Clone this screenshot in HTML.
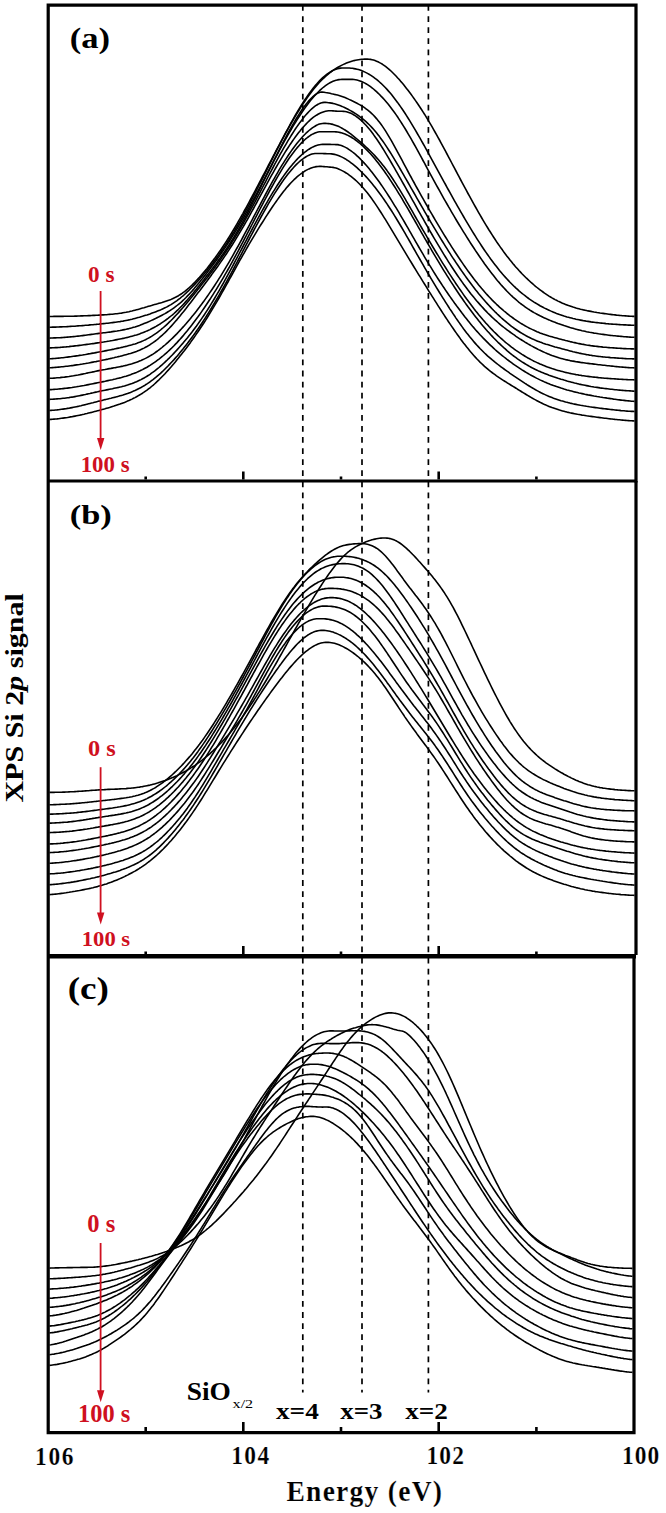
<!DOCTYPE html>
<html><head><meta charset="utf-8"><style>
html,body{margin:0;padding:0;background:#fff;}
svg{display:block;}
</style></head><body>
<svg width="666" height="1513" viewBox="0 0 666 1513">
<rect width="666" height="1513" fill="#fff"/>
<g fill="none" stroke="#000" stroke-width="1.6" stroke-linejoin="round">
<path d="M49.5,316.5 L51.0,316.5 L52.5,316.5 L54.0,316.4 L55.5,316.4 L57.0,316.4 L58.5,316.4 L60.0,316.4 L61.5,316.4 L63.0,316.4 L64.5,316.3 L66.0,316.3 L67.5,316.3 L69.0,316.3 L70.5,316.2 L72.0,316.2 L73.5,316.2 L75.0,316.1 L76.5,316.1 L78.0,316.0 L79.5,316.0 L81.0,315.9 L82.5,315.9 L84.0,315.8 L85.5,315.8 L87.0,315.7 L88.5,315.6 L90.0,315.6 L91.5,315.5 L93.0,315.4 L94.5,315.4 L96.0,315.3 L97.5,315.2 L99.0,315.1 L100.5,315.0 L102.0,314.9 L103.5,314.9 L105.0,314.8 L106.5,314.7 L108.0,314.5 L109.5,314.4 L111.0,314.3 L112.5,314.2 L114.0,314.0 L115.5,313.8 L117.0,313.7 L118.5,313.5 L120.0,313.3 L121.5,313.1 L123.0,312.8 L124.5,312.5 L126.0,312.3 L127.5,312.0 L129.0,311.7 L130.5,311.3 L132.0,311.0 L133.5,310.6 L135.0,310.2 L136.5,309.8 L138.0,309.4 L139.5,309.0 L141.0,308.5 L142.5,308.1 L144.0,307.7 L145.5,307.2 L147.0,306.8 L148.5,306.3 L150.0,305.9 L151.5,305.5 L153.0,305.0 L154.5,304.6 L156.0,304.2 L157.5,303.8 L159.0,303.3 L160.5,302.9 L162.0,302.5 L163.5,302.0 L165.0,301.5 L166.5,301.0 L168.0,300.5 L169.5,300.0 L171.0,299.4 L172.5,298.7 L174.0,298.0 L175.5,297.3 L177.0,296.5 L178.5,295.7 L180.0,294.7 L181.5,293.8 L183.0,292.7 L184.5,291.6 L186.0,290.4 L187.5,289.2 L189.0,287.9 L190.5,286.5 L192.0,285.1 L193.5,283.6 L195.0,282.1 L196.5,280.5 L198.0,278.9 L199.5,277.3 L201.0,275.6 L202.5,273.8 L204.0,272.0 L205.5,270.2 L207.0,268.4 L208.5,266.5 L210.0,264.6 L211.5,262.6 L213.0,260.6 L214.5,258.6 L216.0,256.5 L217.5,254.4 L219.0,252.3 L220.5,250.2 L222.0,248.0 L223.5,245.7 L225.0,243.4 L226.5,241.1 L228.0,238.8 L229.5,236.4 L231.0,233.9 L232.5,231.5 L234.0,229.0 L235.5,226.4 L237.0,223.8 L238.5,221.2 L240.0,218.6 L241.5,215.9 L243.0,213.3 L244.5,210.5 L246.0,207.8 L247.5,205.1 L249.0,202.3 L250.5,199.5 L252.0,196.7 L253.5,193.9 L255.0,191.0 L256.5,188.2 L258.0,185.3 L259.5,182.5 L261.0,179.6 L262.5,176.7 L264.0,173.9 L265.5,171.0 L267.0,168.1 L268.5,165.2 L270.0,162.4 L271.5,159.5 L273.0,156.6 L274.5,153.8 L276.0,150.9 L277.5,148.1 L279.0,145.3 L280.5,142.5 L282.0,139.7 L283.5,137.0 L285.0,134.2 L286.5,131.5 L288.0,128.8 L289.5,126.2 L291.0,123.5 L292.5,121.0 L294.0,118.4 L295.5,115.9 L297.0,113.4 L298.5,111.0 L300.0,108.6 L301.5,106.2 L303.0,103.9 L304.5,101.7 L306.0,99.5 L307.5,97.3 L309.0,95.2 L310.5,93.2 L312.0,91.2 L313.5,89.3 L315.0,87.5 L316.5,85.7 L318.0,84.0 L319.5,82.3 L321.0,80.7 L322.5,79.2 L324.0,77.8 L325.5,76.4 L327.0,75.1 L328.5,73.8 L330.0,72.6 L331.5,71.5 L333.0,70.4 L334.5,69.4 L336.0,68.4 L337.5,67.5 L339.0,66.7 L340.5,65.9 L342.0,65.1 L343.5,64.4 L345.0,63.7 L346.5,63.1 L348.0,62.5 L349.5,62.0 L351.0,61.5 L352.5,61.0 L354.0,60.6 L355.5,60.3 L357.0,60.0 L358.5,59.7 L360.0,59.5 L361.5,59.3 L363.0,59.2 L364.5,59.1 L366.0,59.1 L367.5,59.1 L369.0,59.2 L370.5,59.4 L372.0,59.7 L373.5,60.1 L375.0,60.6 L376.5,61.2 L378.0,61.8 L379.5,62.6 L381.0,63.4 L382.5,64.3 L384.0,65.3 L385.5,66.4 L387.0,67.6 L388.5,68.8 L390.0,70.2 L391.5,71.5 L393.0,73.0 L394.5,74.5 L396.0,76.0 L397.5,77.7 L399.0,79.3 L400.5,81.1 L402.0,82.8 L403.5,84.6 L405.0,86.5 L406.5,88.4 L408.0,90.3 L409.5,92.3 L411.0,94.3 L412.5,96.4 L414.0,98.5 L415.5,100.6 L417.0,102.8 L418.5,105.0 L420.0,107.2 L421.5,109.5 L423.0,111.9 L424.5,114.2 L426.0,116.7 L427.5,119.1 L429.0,121.6 L430.5,124.1 L432.0,126.7 L433.5,129.3 L435.0,132.0 L436.5,134.6 L438.0,137.3 L439.5,140.0 L441.0,142.8 L442.5,145.6 L444.0,148.4 L445.5,151.2 L447.0,154.0 L448.5,156.8 L450.0,159.6 L451.5,162.5 L453.0,165.3 L454.5,168.2 L456.0,171.0 L457.5,173.8 L459.0,176.7 L460.5,179.5 L462.0,182.3 L463.5,185.1 L465.0,187.9 L466.5,190.7 L468.0,193.5 L469.5,196.2 L471.0,198.9 L472.5,201.7 L474.0,204.4 L475.5,207.0 L477.0,209.7 L478.5,212.3 L480.0,214.9 L481.5,217.5 L483.0,220.1 L484.5,222.6 L486.0,225.1 L487.5,227.5 L489.0,230.0 L490.5,232.3 L492.0,234.7 L493.5,237.0 L495.0,239.3 L496.5,241.6 L498.0,243.8 L499.5,245.9 L501.0,248.1 L502.5,250.1 L504.0,252.2 L505.5,254.2 L507.0,256.2 L508.5,258.1 L510.0,260.0 L511.5,261.8 L513.0,263.7 L514.5,265.4 L516.0,267.2 L517.5,268.8 L519.0,270.5 L520.5,272.1 L522.0,273.7 L523.5,275.2 L525.0,276.7 L526.5,278.2 L528.0,279.6 L529.5,281.0 L531.0,282.4 L532.5,283.7 L534.0,285.0 L535.5,286.3 L537.0,287.5 L538.5,288.7 L540.0,289.8 L541.5,290.9 L543.0,292.0 L544.5,293.1 L546.0,294.1 L547.5,295.1 L549.0,296.1 L550.5,297.0 L552.0,297.9 L553.5,298.7 L555.0,299.6 L556.5,300.3 L558.0,301.1 L559.5,301.8 L561.0,302.5 L562.5,303.2 L564.0,303.8 L565.5,304.4 L567.0,305.0 L568.5,305.6 L570.0,306.1 L571.5,306.6 L573.0,307.1 L574.5,307.5 L576.0,308.0 L577.5,308.4 L579.0,308.8 L580.5,309.2 L582.0,309.5 L583.5,309.9 L585.0,310.2 L586.5,310.5 L588.0,310.9 L589.5,311.1 L591.0,311.4 L592.5,311.7 L594.0,312.0 L595.5,312.2 L597.0,312.5 L598.5,312.7 L600.0,313.0 L601.5,313.2 L603.0,313.4 L604.5,313.6 L606.0,313.8 L607.5,314.0 L609.0,314.2 L610.5,314.4 L612.0,314.6 L613.5,314.8 L615.0,314.9 L616.5,315.1 L618.0,315.2 L619.5,315.4 L621.0,315.5 L622.5,315.7 L624.0,315.8 L625.5,315.9 L627.0,316.0 L628.5,316.1 L630.0,316.2 L631.5,316.3 L633.0,316.4 L634.5,316.4"/>
<path d="M49.5,327.2 L51.0,327.2 L52.5,327.1 L54.0,327.1 L55.5,327.1 L57.0,327.0 L58.5,327.0 L60.0,326.9 L61.5,326.9 L63.0,326.8 L64.5,326.7 L66.0,326.7 L67.5,326.6 L69.0,326.5 L70.5,326.4 L72.0,326.3 L73.5,326.2 L75.0,326.2 L76.5,326.0 L78.0,325.9 L79.5,325.8 L81.0,325.7 L82.5,325.6 L84.0,325.5 L85.5,325.3 L87.0,325.2 L88.5,325.1 L90.0,324.9 L91.5,324.8 L93.0,324.7 L94.5,324.5 L96.0,324.4 L97.5,324.2 L99.0,324.1 L100.5,323.9 L102.0,323.8 L103.5,323.6 L105.0,323.5 L106.5,323.3 L108.0,323.2 L109.5,323.0 L111.0,322.8 L112.5,322.6 L114.0,322.4 L115.5,322.2 L117.0,322.0 L118.5,321.8 L120.0,321.6 L121.5,321.3 L123.0,321.1 L124.5,320.8 L126.0,320.5 L127.5,320.2 L129.0,319.9 L130.5,319.5 L132.0,319.2 L133.5,318.8 L135.0,318.4 L136.5,318.0 L138.0,317.6 L139.5,317.2 L141.0,316.7 L142.5,316.3 L144.0,315.8 L145.5,315.3 L147.0,314.9 L148.5,314.4 L150.0,313.9 L151.5,313.3 L153.0,312.8 L154.5,312.3 L156.0,311.7 L157.5,311.1 L159.0,310.5 L160.5,309.9 L162.0,309.2 L163.5,308.5 L165.0,307.8 L166.5,307.1 L168.0,306.3 L169.5,305.4 L171.0,304.6 L172.5,303.6 L174.0,302.6 L175.5,301.6 L177.0,300.6 L178.5,299.4 L180.0,298.3 L181.5,297.0 L183.0,295.8 L184.5,294.5 L186.0,293.1 L187.5,291.7 L189.0,290.3 L190.5,288.8 L192.0,287.3 L193.5,285.7 L195.0,284.1 L196.5,282.5 L198.0,280.9 L199.5,279.2 L201.0,277.5 L202.5,275.8 L204.0,274.0 L205.5,272.2 L207.0,270.4 L208.5,268.5 L210.0,266.6 L211.5,264.7 L213.0,262.8 L214.5,260.8 L216.0,258.8 L217.5,256.7 L219.0,254.6 L220.5,252.5 L222.0,250.3 L223.5,248.1 L225.0,245.9 L226.5,243.6 L228.0,241.3 L229.5,238.9 L231.0,236.5 L232.5,234.0 L234.0,231.6 L235.5,229.0 L237.0,226.5 L238.5,223.9 L240.0,221.3 L241.5,218.6 L243.0,215.9 L244.5,213.2 L246.0,210.4 L247.5,207.6 L249.0,204.8 L250.5,202.0 L252.0,199.1 L253.5,196.3 L255.0,193.4 L256.5,190.4 L258.0,187.5 L259.5,184.5 L261.0,181.6 L262.5,178.6 L264.0,175.6 L265.5,172.6 L267.0,169.6 L268.5,166.6 L270.0,163.6 L271.5,160.7 L273.0,157.7 L274.5,154.7 L276.0,151.7 L277.5,148.7 L279.0,145.8 L280.5,142.9 L282.0,140.0 L283.5,137.1 L285.0,134.2 L286.5,131.4 L288.0,128.6 L289.5,125.8 L291.0,123.0 L292.5,120.3 L294.0,117.7 L295.5,115.0 L297.0,112.5 L298.5,109.9 L300.0,107.4 L301.5,105.0 L303.0,102.6 L304.5,100.3 L306.0,98.1 L307.5,95.9 L309.0,93.7 L310.5,91.7 L312.0,89.7 L313.5,87.8 L315.0,85.9 L316.5,84.2 L318.0,82.5 L319.5,80.9 L321.0,79.3 L322.5,77.9 L324.0,76.5 L325.5,75.3 L327.0,74.1 L328.5,73.1 L330.0,72.1 L331.5,71.2 L333.0,70.4 L334.5,69.7 L336.0,69.2 L337.5,68.7 L339.0,68.4 L340.5,68.1 L342.0,68.0 L343.5,68.0 L345.0,68.0 L346.5,68.0 L348.0,68.0 L349.5,68.0 L351.0,68.2 L352.5,68.3 L354.0,68.6 L355.5,68.9 L357.0,69.2 L358.5,69.6 L360.0,70.1 L361.5,70.6 L363.0,71.2 L364.5,71.9 L366.0,72.6 L367.5,73.4 L369.0,74.2 L370.5,75.1 L372.0,76.1 L373.5,77.2 L375.0,78.3 L376.5,79.4 L378.0,80.7 L379.5,82.0 L381.0,83.3 L382.5,84.8 L384.0,86.3 L385.5,87.8 L387.0,89.4 L388.5,91.1 L390.0,92.8 L391.5,94.6 L393.0,96.5 L394.5,98.4 L396.0,100.4 L397.5,102.4 L399.0,104.5 L400.5,106.6 L402.0,108.8 L403.5,111.0 L405.0,113.3 L406.5,115.6 L408.0,118.0 L409.5,120.4 L411.0,122.8 L412.5,125.3 L414.0,127.8 L415.5,130.4 L417.0,133.0 L418.5,135.6 L420.0,138.2 L421.5,140.8 L423.0,143.5 L424.5,146.2 L426.0,148.9 L427.5,151.6 L429.0,154.3 L430.5,157.1 L432.0,159.8 L433.5,162.6 L435.0,165.3 L436.5,168.1 L438.0,170.8 L439.5,173.6 L441.0,176.3 L442.5,179.1 L444.0,181.8 L445.5,184.5 L447.0,187.3 L448.5,190.0 L450.0,192.7 L451.5,195.4 L453.0,198.1 L454.5,200.8 L456.0,203.4 L457.5,206.1 L459.0,208.7 L460.5,211.3 L462.0,213.9 L463.5,216.5 L465.0,219.1 L466.5,221.6 L468.0,224.1 L469.5,226.6 L471.0,229.1 L472.5,231.6 L474.0,234.0 L475.5,236.4 L477.0,238.8 L478.5,241.1 L480.0,243.4 L481.5,245.7 L483.0,248.0 L484.5,250.2 L486.0,252.4 L487.5,254.5 L489.0,256.6 L490.5,258.7 L492.0,260.7 L493.5,262.8 L495.0,264.7 L496.5,266.6 L498.0,268.5 L499.5,270.4 L501.0,272.2 L502.5,274.0 L504.0,275.7 L505.5,277.4 L507.0,279.0 L508.5,280.6 L510.0,282.2 L511.5,283.7 L513.0,285.2 L514.5,286.7 L516.0,288.1 L517.5,289.4 L519.0,290.8 L520.5,292.1 L522.0,293.3 L523.5,294.5 L525.0,295.7 L526.5,296.9 L528.0,298.0 L529.5,299.1 L531.0,300.1 L532.5,301.1 L534.0,302.1 L535.5,303.0 L537.0,303.9 L538.5,304.8 L540.0,305.7 L541.5,306.5 L543.0,307.3 L544.5,308.1 L546.0,308.8 L547.5,309.5 L549.0,310.2 L550.5,310.9 L552.0,311.6 L553.5,312.2 L555.0,312.8 L556.5,313.4 L558.0,313.9 L559.5,314.5 L561.0,315.0 L562.5,315.5 L564.0,316.0 L565.5,316.4 L567.0,316.9 L568.5,317.3 L570.0,317.7 L571.5,318.1 L573.0,318.5 L574.5,318.8 L576.0,319.2 L577.5,319.5 L579.0,319.8 L580.5,320.1 L582.0,320.4 L583.5,320.7 L585.0,320.9 L586.5,321.2 L588.0,321.4 L589.5,321.6 L591.0,321.9 L592.5,322.1 L594.0,322.3 L595.5,322.5 L597.0,322.6 L598.5,322.8 L600.0,323.0 L601.5,323.1 L603.0,323.3 L604.5,323.4 L606.0,323.6 L607.5,323.7 L609.0,323.9 L610.5,324.0 L612.0,324.1 L613.5,324.2 L615.0,324.3 L616.5,324.4 L618.0,324.5 L619.5,324.6 L621.0,324.7 L622.5,324.8 L624.0,324.9 L625.5,324.9 L627.0,325.0 L628.5,325.1 L630.0,325.1 L631.5,325.2 L633.0,325.2 L634.5,325.3"/>
<path d="M49.5,338.1 L51.0,338.0 L52.5,338.0 L54.0,337.9 L55.5,337.9 L57.0,337.8 L58.5,337.7 L60.0,337.7 L61.5,337.6 L63.0,337.5 L64.5,337.4 L66.0,337.3 L67.5,337.1 L69.0,337.0 L70.5,336.9 L72.0,336.8 L73.5,336.6 L75.0,336.5 L76.5,336.3 L78.0,336.1 L79.5,336.0 L81.0,335.8 L82.5,335.6 L84.0,335.4 L85.5,335.2 L87.0,335.0 L88.5,334.8 L90.0,334.6 L91.5,334.4 L93.0,334.2 L94.5,334.0 L96.0,333.8 L97.5,333.6 L99.0,333.4 L100.5,333.2 L102.0,333.0 L103.5,332.8 L105.0,332.7 L106.5,332.5 L108.0,332.3 L109.5,332.1 L111.0,331.9 L112.5,331.6 L114.0,331.4 L115.5,331.2 L117.0,331.0 L118.5,330.7 L120.0,330.5 L121.5,330.2 L123.0,329.9 L124.5,329.6 L126.0,329.3 L127.5,328.9 L129.0,328.6 L130.5,328.2 L132.0,327.8 L133.5,327.3 L135.0,326.9 L136.5,326.4 L138.0,325.9 L139.5,325.4 L141.0,324.8 L142.5,324.2 L144.0,323.6 L145.5,323.0 L147.0,322.4 L148.5,321.8 L150.0,321.1 L151.5,320.4 L153.0,319.7 L154.5,319.0 L156.0,318.3 L157.5,317.5 L159.0,316.8 L160.5,316.0 L162.0,315.2 L163.5,314.4 L165.0,313.6 L166.5,312.7 L168.0,311.8 L169.5,310.9 L171.0,309.9 L172.5,308.9 L174.0,307.8 L175.5,306.7 L177.0,305.5 L178.5,304.3 L180.0,303.1 L181.5,301.8 L183.0,300.4 L184.5,299.0 L186.0,297.5 L187.5,295.9 L189.0,294.4 L190.5,292.7 L192.0,291.1 L193.5,289.4 L195.0,287.6 L196.5,285.8 L198.0,284.0 L199.5,282.2 L201.0,280.3 L202.5,278.5 L204.0,276.6 L205.5,274.7 L207.0,272.7 L208.5,270.8 L210.0,268.8 L211.5,266.8 L213.0,264.8 L214.5,262.8 L216.0,260.7 L217.5,258.7 L219.0,256.6 L220.5,254.4 L222.0,252.3 L223.5,250.1 L225.0,247.9 L226.5,245.6 L228.0,243.3 L229.5,241.0 L231.0,238.6 L232.5,236.2 L234.0,233.8 L235.5,231.3 L237.0,228.8 L238.5,226.3 L240.0,223.7 L241.5,221.1 L243.0,218.5 L244.5,215.8 L246.0,213.2 L247.5,210.5 L249.0,207.7 L250.5,205.0 L252.0,202.2 L253.5,199.4 L255.0,196.6 L256.5,193.8 L258.0,191.0 L259.5,188.1 L261.0,185.3 L262.5,182.4 L264.0,179.6 L265.5,176.7 L267.0,173.8 L268.5,171.0 L270.0,168.1 L271.5,165.3 L273.0,162.4 L274.5,159.6 L276.0,156.8 L277.5,154.0 L279.0,151.2 L280.5,148.4 L282.0,145.7 L283.5,142.9 L285.0,140.2 L286.5,137.6 L288.0,134.9 L289.5,132.3 L291.0,129.8 L292.5,127.2 L294.0,124.7 L295.5,122.3 L297.0,119.9 L298.5,117.5 L300.0,115.2 L301.5,113.0 L303.0,110.8 L304.5,108.6 L306.0,106.5 L307.5,104.5 L309.0,102.5 L310.5,100.6 L312.0,98.8 L313.5,97.0 L315.0,95.3 L316.5,93.7 L318.0,92.2 L319.5,90.7 L321.0,89.3 L322.5,88.0 L324.0,86.8 L325.5,85.7 L327.0,84.6 L328.5,83.6 L330.0,82.8 L331.5,82.0 L333.0,81.3 L334.5,80.7 L336.0,80.3 L337.5,79.9 L339.0,79.6 L340.5,79.5 L342.0,79.4 L343.5,79.4 L345.0,79.4 L346.5,79.4 L348.0,79.4 L349.5,79.4 L351.0,79.4 L352.5,79.4 L354.0,79.5 L355.5,79.7 L357.0,80.0 L358.5,80.4 L360.0,80.9 L361.5,81.5 L363.0,82.2 L364.5,82.9 L366.0,83.7 L367.5,84.6 L369.0,85.6 L370.5,86.7 L372.0,87.8 L373.5,89.0 L375.0,90.3 L376.5,91.7 L378.0,93.1 L379.5,94.5 L381.0,96.1 L382.5,97.6 L384.0,99.3 L385.5,101.0 L387.0,102.8 L388.5,104.6 L390.0,106.5 L391.5,108.5 L393.0,110.5 L394.5,112.5 L396.0,114.6 L397.5,116.8 L399.0,119.1 L400.5,121.4 L402.0,123.7 L403.5,126.1 L405.0,128.5 L406.5,131.0 L408.0,133.6 L409.5,136.1 L411.0,138.7 L412.5,141.4 L414.0,144.0 L415.5,146.7 L417.0,149.4 L418.5,152.2 L420.0,154.9 L421.5,157.7 L423.0,160.5 L424.5,163.2 L426.0,166.0 L427.5,168.8 L429.0,171.6 L430.5,174.3 L432.0,177.1 L433.5,179.8 L435.0,182.6 L436.5,185.3 L438.0,188.0 L439.5,190.7 L441.0,193.4 L442.5,196.1 L444.0,198.8 L445.5,201.4 L447.0,204.0 L448.5,206.7 L450.0,209.2 L451.5,211.8 L453.0,214.4 L454.5,216.9 L456.0,219.5 L457.5,222.0 L459.0,224.5 L460.5,226.9 L462.0,229.4 L463.5,231.8 L465.0,234.2 L466.5,236.6 L468.0,239.0 L469.5,241.4 L471.0,243.7 L472.5,246.0 L474.0,248.3 L475.5,250.6 L477.0,252.8 L478.5,255.0 L480.0,257.2 L481.5,259.4 L483.0,261.5 L484.5,263.7 L486.0,265.7 L487.5,267.8 L489.0,269.8 L490.5,271.8 L492.0,273.7 L493.5,275.6 L495.0,277.5 L496.5,279.4 L498.0,281.2 L499.5,282.9 L501.0,284.7 L502.5,286.4 L504.0,288.0 L505.5,289.6 L507.0,291.2 L508.5,292.7 L510.0,294.2 L511.5,295.7 L513.0,297.1 L514.5,298.4 L516.0,299.7 L517.5,301.0 L519.0,302.3 L520.5,303.5 L522.0,304.6 L523.5,305.7 L525.0,306.8 L526.5,307.9 L528.0,308.9 L529.5,309.8 L531.0,310.8 L532.5,311.7 L534.0,312.6 L535.5,313.4 L537.0,314.2 L538.5,315.0 L540.0,315.8 L541.5,316.5 L543.0,317.3 L544.5,318.0 L546.0,318.6 L547.5,319.3 L549.0,319.9 L550.5,320.6 L552.0,321.2 L553.5,321.8 L555.0,322.3 L556.5,322.9 L558.0,323.5 L559.5,324.0 L561.0,324.5 L562.5,325.0 L564.0,325.6 L565.5,326.0 L567.0,326.5 L568.5,327.0 L570.0,327.5 L571.5,327.9 L573.0,328.3 L574.5,328.8 L576.0,329.2 L577.5,329.6 L579.0,329.9 L580.5,330.3 L582.0,330.7 L583.5,331.0 L585.0,331.3 L586.5,331.7 L588.0,332.0 L589.5,332.3 L591.0,332.5 L592.5,332.8 L594.0,333.1 L595.5,333.3 L597.0,333.5 L598.5,333.8 L600.0,334.0 L601.5,334.2 L603.0,334.4 L604.5,334.6 L606.0,334.8 L607.5,335.0 L609.0,335.2 L610.5,335.4 L612.0,335.5 L613.5,335.7 L615.0,335.8 L616.5,336.0 L618.0,336.1 L619.5,336.3 L621.0,336.4 L622.5,336.5 L624.0,336.7 L625.5,336.8 L627.0,336.9 L628.5,337.0 L630.0,337.1 L631.5,337.2 L633.0,337.2 L634.5,337.3"/>
<path d="M49.5,347.9 L51.0,347.9 L52.5,347.8 L54.0,347.7 L55.5,347.6 L57.0,347.6 L58.5,347.5 L60.0,347.4 L61.5,347.2 L63.0,347.1 L64.5,347.0 L66.0,346.9 L67.5,346.7 L69.0,346.6 L70.5,346.4 L72.0,346.3 L73.5,346.1 L75.0,345.9 L76.5,345.8 L78.0,345.6 L79.5,345.4 L81.0,345.2 L82.5,345.0 L84.0,344.8 L85.5,344.6 L87.0,344.4 L88.5,344.2 L90.0,344.0 L91.5,343.8 L93.0,343.6 L94.5,343.4 L96.0,343.1 L97.5,342.9 L99.0,342.7 L100.5,342.4 L102.0,342.2 L103.5,342.0 L105.0,341.7 L106.5,341.5 L108.0,341.2 L109.5,341.0 L111.0,340.7 L112.5,340.5 L114.0,340.2 L115.5,339.9 L117.0,339.6 L118.5,339.3 L120.0,339.0 L121.5,338.7 L123.0,338.4 L124.5,338.1 L126.0,337.7 L127.5,337.4 L129.0,337.0 L130.5,336.6 L132.0,336.2 L133.5,335.8 L135.0,335.3 L136.5,334.9 L138.0,334.4 L139.5,333.9 L141.0,333.3 L142.5,332.8 L144.0,332.2 L145.5,331.6 L147.0,330.9 L148.5,330.3 L150.0,329.6 L151.5,328.8 L153.0,328.0 L154.5,327.2 L156.0,326.4 L157.5,325.5 L159.0,324.6 L160.5,323.7 L162.0,322.7 L163.5,321.7 L165.0,320.6 L166.5,319.5 L168.0,318.4 L169.5,317.2 L171.0,316.0 L172.5,314.8 L174.0,313.5 L175.5,312.1 L177.0,310.7 L178.5,309.3 L180.0,307.8 L181.5,306.3 L183.0,304.7 L184.5,303.1 L186.0,301.4 L187.5,299.8 L189.0,298.0 L190.5,296.3 L192.0,294.5 L193.5,292.7 L195.0,290.8 L196.5,289.0 L198.0,287.1 L199.5,285.2 L201.0,283.3 L202.5,281.4 L204.0,279.5 L205.5,277.5 L207.0,275.6 L208.5,273.7 L210.0,271.7 L211.5,269.7 L213.0,267.7 L214.5,265.7 L216.0,263.7 L217.5,261.6 L219.0,259.6 L220.5,257.5 L222.0,255.3 L223.5,253.2 L225.0,251.0 L226.5,248.7 L228.0,246.4 L229.5,244.1 L231.0,241.8 L232.5,239.4 L234.0,236.9 L235.5,234.4 L237.0,231.9 L238.5,229.3 L240.0,226.7 L241.5,224.1 L243.0,221.4 L244.5,218.6 L246.0,215.9 L247.5,213.1 L249.0,210.2 L250.5,207.4 L252.0,204.5 L253.5,201.5 L255.0,198.6 L256.5,195.6 L258.0,192.6 L259.5,189.6 L261.0,186.6 L262.5,183.5 L264.0,180.5 L265.5,177.5 L267.0,174.4 L268.5,171.4 L270.0,168.3 L271.5,165.3 L273.0,162.3 L274.5,159.2 L276.0,156.3 L277.5,153.3 L279.0,150.3 L280.5,147.4 L282.0,144.5 L283.5,141.6 L285.0,138.8 L286.5,136.0 L288.0,133.2 L289.5,130.5 L291.0,127.8 L292.5,125.1 L294.0,122.6 L295.5,120.0 L297.0,117.5 L298.5,115.1 L300.0,112.8 L301.5,110.5 L303.0,108.3 L304.5,106.3 L306.0,104.3 L307.5,102.4 L309.0,100.6 L310.5,99.0 L312.0,97.5 L313.5,96.1 L315.0,95.0 L316.5,93.9 L318.0,93.1 L319.5,92.5 L321.0,92.1 L322.5,92.0 L324.0,92.2 L325.5,92.5 L327.0,92.7 L328.5,93.0 L330.0,93.3 L331.5,93.7 L333.0,94.0 L334.5,94.4 L336.0,94.7 L337.5,95.1 L339.0,95.5 L340.5,96.0 L342.0,96.5 L343.5,97.0 L345.0,97.6 L346.5,98.2 L348.0,98.9 L349.5,99.6 L351.0,100.3 L352.5,101.0 L354.0,101.7 L355.5,102.5 L357.0,103.3 L358.5,104.1 L360.0,104.9 L361.5,105.8 L363.0,106.7 L364.5,107.7 L366.0,108.8 L367.5,109.9 L369.0,111.1 L370.5,112.4 L372.0,113.8 L373.5,115.3 L375.0,116.9 L376.5,118.6 L378.0,120.4 L379.5,122.3 L381.0,124.3 L382.5,126.4 L384.0,128.6 L385.5,130.9 L387.0,133.3 L388.5,135.8 L390.0,138.3 L391.5,140.9 L393.0,143.6 L394.5,146.3 L396.0,149.1 L397.5,151.8 L399.0,154.6 L400.5,157.4 L402.0,160.2 L403.5,163.1 L405.0,165.9 L406.5,168.7 L408.0,171.5 L409.5,174.3 L411.0,177.0 L412.5,179.8 L414.0,182.5 L415.5,185.3 L417.0,188.0 L418.5,190.7 L420.0,193.4 L421.5,196.1 L423.0,198.7 L424.5,201.4 L426.0,204.0 L427.5,206.6 L429.0,209.3 L430.5,211.9 L432.0,214.4 L433.5,217.0 L435.0,219.6 L436.5,222.1 L438.0,224.6 L439.5,227.1 L441.0,229.6 L442.5,232.1 L444.0,234.6 L445.5,237.0 L447.0,239.4 L448.5,241.8 L450.0,244.2 L451.5,246.6 L453.0,248.9 L454.5,251.2 L456.0,253.5 L457.5,255.8 L459.0,258.0 L460.5,260.2 L462.0,262.4 L463.5,264.6 L465.0,266.8 L466.5,268.9 L468.0,271.0 L469.5,273.0 L471.0,275.0 L472.5,277.0 L474.0,279.0 L475.5,280.9 L477.0,282.8 L478.5,284.7 L480.0,286.5 L481.5,288.3 L483.0,290.0 L484.5,291.8 L486.0,293.5 L487.5,295.1 L489.0,296.7 L490.5,298.3 L492.0,299.9 L493.5,301.4 L495.0,302.8 L496.5,304.3 L498.0,305.7 L499.5,307.1 L501.0,308.4 L502.5,309.7 L504.0,311.0 L505.5,312.2 L507.0,313.5 L508.5,314.6 L510.0,315.8 L511.5,316.9 L513.0,318.0 L514.5,319.1 L516.0,320.1 L517.5,321.1 L519.0,322.1 L520.5,323.1 L522.0,324.0 L523.5,324.9 L525.0,325.8 L526.5,326.6 L528.0,327.4 L529.5,328.2 L531.0,328.9 L532.5,329.6 L534.0,330.3 L535.5,331.0 L537.0,331.7 L538.5,332.3 L540.0,332.9 L541.5,333.4 L543.0,334.0 L544.5,334.5 L546.0,335.0 L547.5,335.5 L549.0,336.0 L550.5,336.4 L552.0,336.8 L553.5,337.3 L555.0,337.7 L556.5,338.1 L558.0,338.5 L559.5,338.9 L561.0,339.3 L562.5,339.7 L564.0,340.1 L565.5,340.5 L567.0,340.8 L568.5,341.2 L570.0,341.6 L571.5,341.9 L573.0,342.3 L574.5,342.6 L576.0,342.9 L577.5,343.3 L579.0,343.6 L580.5,343.9 L582.0,344.2 L583.5,344.4 L585.0,344.7 L586.5,345.0 L588.0,345.2 L589.5,345.4 L591.0,345.7 L592.5,345.9 L594.0,346.1 L595.5,346.3 L597.0,346.4 L598.5,346.6 L600.0,346.8 L601.5,346.9 L603.0,347.1 L604.5,347.2 L606.0,347.3 L607.5,347.5 L609.0,347.6 L610.5,347.7 L612.0,347.8 L613.5,347.9 L615.0,348.0 L616.5,348.1 L618.0,348.2 L619.5,348.3 L621.0,348.4 L622.5,348.5 L624.0,348.6 L625.5,348.6 L627.0,348.7 L628.5,348.8 L630.0,348.8 L631.5,348.9 L633.0,348.9 L634.5,349.0"/>
<path d="M49.5,358.7 L51.0,358.7 L52.5,358.6 L54.0,358.5 L55.5,358.4 L57.0,358.2 L58.5,358.1 L60.0,358.0 L61.5,357.8 L63.0,357.7 L64.5,357.5 L66.0,357.3 L67.5,357.1 L69.0,356.9 L70.5,356.7 L72.0,356.5 L73.5,356.3 L75.0,356.1 L76.5,355.9 L78.0,355.7 L79.5,355.4 L81.0,355.2 L82.5,355.0 L84.0,354.7 L85.5,354.5 L87.0,354.2 L88.5,353.9 L90.0,353.7 L91.5,353.4 L93.0,353.1 L94.5,352.9 L96.0,352.6 L97.5,352.3 L99.0,352.0 L100.5,351.7 L102.0,351.5 L103.5,351.2 L105.0,350.9 L106.5,350.6 L108.0,350.3 L109.5,350.0 L111.0,349.7 L112.5,349.4 L114.0,349.1 L115.5,348.7 L117.0,348.4 L118.5,348.1 L120.0,347.8 L121.5,347.4 L123.0,347.1 L124.5,346.7 L126.0,346.4 L127.5,346.0 L129.0,345.6 L130.5,345.2 L132.0,344.8 L133.5,344.3 L135.0,343.9 L136.5,343.4 L138.0,342.8 L139.5,342.3 L141.0,341.7 L142.5,341.1 L144.0,340.4 L145.5,339.7 L147.0,338.9 L148.5,338.1 L150.0,337.3 L151.5,336.4 L153.0,335.4 L154.5,334.4 L156.0,333.4 L157.5,332.3 L159.0,331.2 L160.5,330.0 L162.0,328.7 L163.5,327.5 L165.0,326.2 L166.5,324.8 L168.0,323.4 L169.5,321.9 L171.0,320.5 L172.5,319.0 L174.0,317.4 L175.5,315.8 L177.0,314.2 L178.5,312.6 L180.0,310.9 L181.5,309.2 L183.0,307.5 L184.5,305.7 L186.0,304.0 L187.5,302.2 L189.0,300.4 L190.5,298.6 L192.0,296.7 L193.5,294.9 L195.0,293.0 L196.5,291.2 L198.0,289.3 L199.5,287.4 L201.0,285.5 L202.5,283.6 L204.0,281.7 L205.5,279.8 L207.0,277.9 L208.5,275.9 L210.0,273.9 L211.5,272.0 L213.0,270.0 L214.5,267.9 L216.0,265.9 L217.5,263.8 L219.0,261.7 L220.5,259.6 L222.0,257.4 L223.5,255.3 L225.0,253.0 L226.5,250.8 L228.0,248.5 L229.5,246.2 L231.0,243.8 L232.5,241.4 L234.0,239.0 L235.5,236.6 L237.0,234.1 L238.5,231.6 L240.0,229.0 L241.5,226.4 L243.0,223.8 L244.5,221.1 L246.0,218.4 L247.5,215.7 L249.0,213.0 L250.5,210.2 L252.0,207.4 L253.5,204.6 L255.0,201.8 L256.5,199.0 L258.0,196.1 L259.5,193.3 L261.0,190.4 L262.5,187.5 L264.0,184.6 L265.5,181.8 L267.0,178.9 L268.5,176.0 L270.0,173.2 L271.5,170.3 L273.0,167.5 L274.5,164.7 L276.0,161.9 L277.5,159.2 L279.0,156.4 L280.5,153.7 L282.0,151.1 L283.5,148.4 L285.0,145.8 L286.5,143.3 L288.0,140.7 L289.5,138.3 L291.0,135.8 L292.5,133.5 L294.0,131.1 L295.5,128.8 L297.0,126.6 L298.5,124.5 L300.0,122.4 L301.5,120.4 L303.0,118.4 L304.5,116.5 L306.0,114.8 L307.5,113.1 L309.0,111.5 L310.5,110.0 L312.0,108.6 L313.5,107.4 L315.0,106.2 L316.5,105.2 L318.0,104.3 L319.5,103.6 L321.0,103.0 L322.5,102.6 L324.0,102.4 L325.5,102.4 L327.0,102.5 L328.5,102.7 L330.0,102.9 L331.5,103.1 L333.0,103.4 L334.5,103.8 L336.0,104.2 L337.5,104.7 L339.0,105.2 L340.5,105.8 L342.0,106.4 L343.5,107.1 L345.0,107.7 L346.5,108.5 L348.0,109.3 L349.5,110.1 L351.0,110.9 L352.5,111.8 L354.0,112.7 L355.5,113.6 L357.0,114.6 L358.5,115.7 L360.0,116.8 L361.5,117.9 L363.0,119.1 L364.5,120.4 L366.0,121.7 L367.5,123.1 L369.0,124.5 L370.5,126.0 L372.0,127.6 L373.5,129.3 L375.0,131.0 L376.5,132.8 L378.0,134.7 L379.5,136.6 L381.0,138.7 L382.5,140.8 L384.0,142.9 L385.5,145.1 L387.0,147.4 L388.5,149.7 L390.0,152.0 L391.5,154.4 L393.0,156.9 L394.5,159.4 L396.0,161.9 L397.5,164.4 L399.0,166.9 L400.5,169.5 L402.0,172.1 L403.5,174.7 L405.0,177.3 L406.5,179.9 L408.0,182.5 L409.5,185.2 L411.0,187.8 L412.5,190.4 L414.0,193.0 L415.5,195.7 L417.0,198.3 L418.5,200.9 L420.0,203.5 L421.5,206.1 L423.0,208.7 L424.5,211.3 L426.0,213.9 L427.5,216.5 L429.0,219.0 L430.5,221.6 L432.0,224.1 L433.5,226.7 L435.0,229.2 L436.5,231.7 L438.0,234.2 L439.5,236.6 L441.0,239.1 L442.5,241.5 L444.0,243.9 L445.5,246.3 L447.0,248.7 L448.5,251.1 L450.0,253.4 L451.5,255.8 L453.0,258.1 L454.5,260.3 L456.0,262.6 L457.5,264.8 L459.0,267.0 L460.5,269.2 L462.0,271.4 L463.5,273.5 L465.0,275.6 L466.5,277.7 L468.0,279.8 L469.5,281.8 L471.0,283.8 L472.5,285.8 L474.0,287.7 L475.5,289.7 L477.0,291.5 L478.5,293.4 L480.0,295.2 L481.5,297.0 L483.0,298.8 L484.5,300.5 L486.0,302.2 L487.5,303.9 L489.0,305.5 L490.5,307.1 L492.0,308.7 L493.5,310.3 L495.0,311.8 L496.5,313.2 L498.0,314.7 L499.5,316.1 L501.0,317.5 L502.5,318.8 L504.0,320.2 L505.5,321.4 L507.0,322.7 L508.5,323.9 L510.0,325.1 L511.5,326.3 L513.0,327.4 L514.5,328.5 L516.0,329.5 L517.5,330.5 L519.0,331.5 L520.5,332.5 L522.0,333.4 L523.5,334.3 L525.0,335.1 L526.5,336.0 L528.0,336.8 L529.5,337.5 L531.0,338.3 L532.5,339.0 L534.0,339.6 L535.5,340.3 L537.0,340.9 L538.5,341.5 L540.0,342.1 L541.5,342.6 L543.0,343.2 L544.5,343.7 L546.0,344.2 L547.5,344.6 L549.0,345.1 L550.5,345.6 L552.0,346.0 L553.5,346.4 L555.0,346.9 L556.5,347.3 L558.0,347.7 L559.5,348.1 L561.0,348.5 L562.5,348.9 L564.0,349.3 L565.5,349.7 L567.0,350.1 L568.5,350.5 L570.0,350.9 L571.5,351.3 L573.0,351.7 L574.5,352.0 L576.0,352.4 L577.5,352.7 L579.0,353.1 L580.5,353.4 L582.0,353.7 L583.5,354.0 L585.0,354.3 L586.5,354.6 L588.0,354.8 L589.5,355.1 L591.0,355.3 L592.5,355.6 L594.0,355.8 L595.5,356.0 L597.0,356.2 L598.5,356.4 L600.0,356.5 L601.5,356.7 L603.0,356.9 L604.5,357.0 L606.0,357.2 L607.5,357.3 L609.0,357.4 L610.5,357.6 L612.0,357.7 L613.5,357.8 L615.0,357.9 L616.5,358.0 L618.0,358.1 L619.5,358.2 L621.0,358.3 L622.5,358.4 L624.0,358.5 L625.5,358.6 L627.0,358.7 L628.5,358.7 L630.0,358.8 L631.5,358.8 L633.0,358.9 L634.5,358.9"/>
<path d="M49.5,367.8 L51.0,367.7 L52.5,367.6 L54.0,367.5 L55.5,367.4 L57.0,367.3 L58.5,367.1 L60.0,367.0 L61.5,366.8 L63.0,366.7 L64.5,366.5 L66.0,366.3 L67.5,366.2 L69.0,366.0 L70.5,365.8 L72.0,365.6 L73.5,365.4 L75.0,365.1 L76.5,364.9 L78.0,364.7 L79.5,364.5 L81.0,364.2 L82.5,364.0 L84.0,363.7 L85.5,363.5 L87.0,363.2 L88.5,363.0 L90.0,362.7 L91.5,362.4 L93.0,362.1 L94.5,361.8 L96.0,361.6 L97.5,361.3 L99.0,361.0 L100.5,360.7 L102.0,360.3 L103.5,360.0 L105.0,359.7 L106.5,359.4 L108.0,359.1 L109.5,358.7 L111.0,358.4 L112.5,358.0 L114.0,357.7 L115.5,357.3 L117.0,357.0 L118.5,356.6 L120.0,356.3 L121.5,355.9 L123.0,355.5 L124.5,355.1 L126.0,354.7 L127.5,354.3 L129.0,353.8 L130.5,353.4 L132.0,352.9 L133.5,352.4 L135.0,351.9 L136.5,351.4 L138.0,350.8 L139.5,350.2 L141.0,349.5 L142.5,348.8 L144.0,348.1 L145.5,347.3 L147.0,346.5 L148.5,345.6 L150.0,344.7 L151.5,343.7 L153.0,342.7 L154.5,341.6 L156.0,340.5 L157.5,339.3 L159.0,338.0 L160.5,336.7 L162.0,335.4 L163.5,334.0 L165.0,332.6 L166.5,331.1 L168.0,329.5 L169.5,328.0 L171.0,326.4 L172.5,324.7 L174.0,323.0 L175.5,321.3 L177.0,319.6 L178.5,317.8 L180.0,316.0 L181.5,314.1 L183.0,312.3 L184.5,310.4 L186.0,308.5 L187.5,306.5 L189.0,304.6 L190.5,302.7 L192.0,300.7 L193.5,298.8 L195.0,296.8 L196.5,294.8 L198.0,292.8 L199.5,290.9 L201.0,288.9 L202.5,286.9 L204.0,284.9 L205.5,282.9 L207.0,280.9 L208.5,278.9 L210.0,276.9 L211.5,274.9 L213.0,272.8 L214.5,270.8 L216.0,268.7 L217.5,266.7 L219.0,264.6 L220.5,262.4 L222.0,260.3 L223.5,258.1 L225.0,255.9 L226.5,253.7 L228.0,251.4 L229.5,249.1 L231.0,246.8 L232.5,244.5 L234.0,242.1 L235.5,239.7 L237.0,237.2 L238.5,234.7 L240.0,232.2 L241.5,229.7 L243.0,227.1 L244.5,224.5 L246.0,221.9 L247.5,219.3 L249.0,216.6 L250.5,213.9 L252.0,211.2 L253.5,208.5 L255.0,205.7 L256.5,203.0 L258.0,200.2 L259.5,197.4 L261.0,194.7 L262.5,191.9 L264.0,189.1 L265.5,186.4 L267.0,183.6 L268.5,180.9 L270.0,178.1 L271.5,175.4 L273.0,172.8 L274.5,170.1 L276.0,167.5 L277.5,164.9 L279.0,162.3 L280.5,159.8 L282.0,157.3 L283.5,154.8 L285.0,152.4 L286.5,150.0 L288.0,147.7 L289.5,145.4 L291.0,143.2 L292.5,141.0 L294.0,138.9 L295.5,136.8 L297.0,134.8 L298.5,132.8 L300.0,131.0 L301.5,129.1 L303.0,127.4 L304.5,125.7 L306.0,124.1 L307.5,122.5 L309.0,121.1 L310.5,119.7 L312.0,118.4 L313.5,117.2 L315.0,116.2 L316.5,115.2 L318.0,114.3 L319.5,113.5 L321.0,112.8 L322.5,112.2 L324.0,111.7 L325.5,111.3 L327.0,111.0 L328.5,110.8 L330.0,110.8 L331.5,110.8 L333.0,110.9 L334.5,111.0 L336.0,111.1 L337.5,111.2 L339.0,111.3 L340.5,111.3 L342.0,111.3 L343.5,111.4 L345.0,111.5 L346.5,111.7 L348.0,112.2 L349.5,112.7 L351.0,113.3 L352.5,114.1 L354.0,115.0 L355.5,115.9 L357.0,117.0 L358.5,118.1 L360.0,119.4 L361.5,120.7 L363.0,122.1 L364.5,123.7 L366.0,125.3 L367.5,127.0 L369.0,128.8 L370.5,130.6 L372.0,132.6 L373.5,134.6 L375.0,136.7 L376.5,138.8 L378.0,141.0 L379.5,143.3 L381.0,145.6 L382.5,148.0 L384.0,150.4 L385.5,152.9 L387.0,155.3 L388.5,157.9 L390.0,160.4 L391.5,163.0 L393.0,165.6 L394.5,168.2 L396.0,170.8 L397.5,173.4 L399.0,176.1 L400.5,178.7 L402.0,181.4 L403.5,184.0 L405.0,186.7 L406.5,189.4 L408.0,192.0 L409.5,194.7 L411.0,197.4 L412.5,200.1 L414.0,202.7 L415.5,205.4 L417.0,208.1 L418.5,210.8 L420.0,213.4 L421.5,216.1 L423.0,218.7 L424.5,221.4 L426.0,224.0 L427.5,226.7 L429.0,229.3 L430.5,231.9 L432.0,234.5 L433.5,237.1 L435.0,239.6 L436.5,242.2 L438.0,244.7 L439.5,247.2 L441.0,249.7 L442.5,252.2 L444.0,254.6 L445.5,257.0 L447.0,259.4 L448.5,261.8 L450.0,264.2 L451.5,266.5 L453.0,268.8 L454.5,271.0 L456.0,273.3 L457.5,275.5 L459.0,277.6 L460.5,279.8 L462.0,281.9 L463.5,284.0 L465.0,286.0 L466.5,288.0 L468.0,290.0 L469.5,291.9 L471.0,293.9 L472.5,295.7 L474.0,297.6 L475.5,299.4 L477.0,301.2 L478.5,302.9 L480.0,304.6 L481.5,306.3 L483.0,307.9 L484.5,309.6 L486.0,311.1 L487.5,312.7 L489.0,314.2 L490.5,315.6 L492.0,317.1 L493.5,318.5 L495.0,319.9 L496.5,321.2 L498.0,322.5 L499.5,323.8 L501.0,325.1 L502.5,326.3 L504.0,327.5 L505.5,328.7 L507.0,329.8 L508.5,330.9 L510.0,332.0 L511.5,333.1 L513.0,334.2 L514.5,335.2 L516.0,336.3 L517.5,337.3 L519.0,338.3 L520.5,339.3 L522.0,340.2 L523.5,341.1 L525.0,342.1 L526.5,343.0 L528.0,343.9 L529.5,344.7 L531.0,345.6 L532.5,346.4 L534.0,347.2 L535.5,348.0 L537.0,348.8 L538.5,349.6 L540.0,350.3 L541.5,351.0 L543.0,351.7 L544.5,352.4 L546.0,353.1 L547.5,353.7 L549.0,354.3 L550.5,354.9 L552.0,355.5 L553.5,356.0 L555.0,356.5 L556.5,357.0 L558.0,357.5 L559.5,358.0 L561.0,358.4 L562.5,358.8 L564.0,359.2 L565.5,359.6 L567.0,359.9 L568.5,360.2 L570.0,360.6 L571.5,360.9 L573.0,361.1 L574.5,361.4 L576.0,361.7 L577.5,361.9 L579.0,362.1 L580.5,362.4 L582.0,362.6 L583.5,362.8 L585.0,363.0 L586.5,363.2 L588.0,363.4 L589.5,363.6 L591.0,363.8 L592.5,363.9 L594.0,364.1 L595.5,364.3 L597.0,364.5 L598.5,364.7 L600.0,364.8 L601.5,365.0 L603.0,365.2 L604.5,365.3 L606.0,365.5 L607.5,365.7 L609.0,365.8 L610.5,366.0 L612.0,366.1 L613.5,366.3 L615.0,366.5 L616.5,366.6 L618.0,366.7 L619.5,366.9 L621.0,367.0 L622.5,367.1 L624.0,367.3 L625.5,367.4 L627.0,367.5 L628.5,367.6 L630.0,367.7 L631.5,367.8 L633.0,367.8 L634.5,367.9"/>
<path d="M49.5,378.3 L51.0,378.2 L52.5,378.2 L54.0,378.1 L55.5,378.0 L57.0,377.8 L58.5,377.7 L60.0,377.6 L61.5,377.4 L63.0,377.2 L64.5,377.1 L66.0,376.9 L67.5,376.7 L69.0,376.5 L70.5,376.2 L72.0,376.0 L73.5,375.8 L75.0,375.5 L76.5,375.2 L78.0,375.0 L79.5,374.7 L81.0,374.4 L82.5,374.1 L84.0,373.8 L85.5,373.5 L87.0,373.1 L88.5,372.8 L90.0,372.5 L91.5,372.2 L93.0,371.9 L94.5,371.6 L96.0,371.2 L97.5,370.9 L99.0,370.6 L100.5,370.3 L102.0,370.0 L103.5,369.7 L105.0,369.5 L106.5,369.2 L108.0,368.9 L109.5,368.6 L111.0,368.4 L112.5,368.1 L114.0,367.8 L115.5,367.6 L117.0,367.3 L118.5,367.0 L120.0,366.7 L121.5,366.4 L123.0,366.1 L124.5,365.7 L126.0,365.4 L127.5,365.0 L129.0,364.6 L130.5,364.2 L132.0,363.8 L133.5,363.3 L135.0,362.8 L136.5,362.3 L138.0,361.7 L139.5,361.1 L141.0,360.5 L142.5,359.8 L144.0,359.1 L145.5,358.4 L147.0,357.6 L148.5,356.8 L150.0,355.9 L151.5,355.0 L153.0,354.1 L154.5,353.1 L156.0,352.0 L157.5,351.0 L159.0,349.8 L160.5,348.7 L162.0,347.5 L163.5,346.2 L165.0,345.0 L166.5,343.7 L168.0,342.3 L169.5,340.9 L171.0,339.5 L172.5,338.1 L174.0,336.6 L175.5,335.1 L177.0,333.6 L178.5,332.0 L180.0,330.4 L181.5,328.8 L183.0,327.1 L184.5,325.5 L186.0,323.8 L187.5,322.0 L189.0,320.2 L190.5,318.4 L192.0,316.6 L193.5,314.8 L195.0,312.9 L196.5,311.0 L198.0,309.0 L199.5,307.1 L201.0,305.1 L202.5,303.0 L204.0,301.0 L205.5,298.9 L207.0,296.8 L208.5,294.6 L210.0,292.4 L211.5,290.2 L213.0,288.0 L214.5,285.7 L216.0,283.4 L217.5,281.1 L219.0,278.7 L220.5,276.3 L222.0,273.9 L223.5,271.4 L225.0,268.9 L226.5,266.4 L228.0,263.9 L229.5,261.3 L231.0,258.7 L232.5,256.1 L234.0,253.4 L235.5,250.7 L237.0,248.0 L238.5,245.3 L240.0,242.6 L241.5,239.8 L243.0,237.0 L244.5,234.2 L246.0,231.4 L247.5,228.6 L249.0,225.8 L250.5,222.9 L252.0,220.1 L253.5,217.2 L255.0,214.4 L256.5,211.5 L258.0,208.7 L259.5,205.8 L261.0,203.0 L262.5,200.1 L264.0,197.3 L265.5,194.5 L267.0,191.7 L268.5,188.9 L270.0,186.2 L271.5,183.4 L273.0,180.7 L274.5,178.1 L276.0,175.4 L277.5,172.8 L279.0,170.2 L280.5,167.7 L282.0,165.2 L283.5,162.8 L285.0,160.4 L286.5,158.1 L288.0,155.8 L289.5,153.5 L291.0,151.4 L292.5,149.3 L294.0,147.2 L295.5,145.2 L297.0,143.3 L298.5,141.5 L300.0,139.7 L301.5,138.0 L303.0,136.3 L304.5,134.7 L306.0,133.2 L307.5,131.8 L309.0,130.5 L310.5,129.3 L312.0,128.1 L313.5,127.1 L315.0,126.2 L316.5,125.3 L318.0,124.6 L319.5,124.1 L321.0,123.7 L322.5,123.5 L324.0,123.4 L325.5,123.4 L327.0,123.5 L328.5,123.6 L330.0,123.8 L331.5,124.1 L333.0,124.4 L334.5,124.9 L336.0,125.4 L337.5,126.0 L339.0,126.6 L340.5,127.4 L342.0,128.2 L343.5,129.1 L345.0,130.0 L346.5,131.0 L348.0,132.0 L349.5,133.1 L351.0,134.2 L352.5,135.4 L354.0,136.6 L355.5,137.8 L357.0,139.0 L358.5,140.3 L360.0,141.6 L361.5,142.9 L363.0,144.2 L364.5,145.6 L366.0,147.0 L367.5,148.4 L369.0,149.8 L370.5,151.3 L372.0,152.8 L373.5,154.3 L375.0,155.9 L376.5,157.6 L378.0,159.3 L379.5,161.0 L381.0,162.8 L382.5,164.7 L384.0,166.6 L385.5,168.6 L387.0,170.6 L388.5,172.7 L390.0,174.8 L391.5,177.0 L393.0,179.3 L394.5,181.6 L396.0,183.9 L397.5,186.3 L399.0,188.7 L400.5,191.2 L402.0,193.7 L403.5,196.2 L405.0,198.7 L406.5,201.3 L408.0,203.9 L409.5,206.5 L411.0,209.1 L412.5,211.7 L414.0,214.3 L415.5,217.0 L417.0,219.6 L418.5,222.2 L420.0,224.8 L421.5,227.5 L423.0,230.1 L424.5,232.7 L426.0,235.2 L427.5,237.8 L429.0,240.4 L430.5,242.9 L432.0,245.5 L433.5,248.0 L435.0,250.5 L436.5,253.0 L438.0,255.4 L439.5,257.9 L441.0,260.3 L442.5,262.8 L444.0,265.2 L445.5,267.5 L447.0,269.9 L448.5,272.3 L450.0,274.6 L451.5,276.9 L453.0,279.2 L454.5,281.4 L456.0,283.7 L457.5,285.9 L459.0,288.1 L460.5,290.3 L462.0,292.4 L463.5,294.6 L465.0,296.7 L466.5,298.8 L468.0,300.8 L469.5,302.8 L471.0,304.8 L472.5,306.8 L474.0,308.8 L475.5,310.7 L477.0,312.5 L478.5,314.4 L480.0,316.2 L481.5,318.0 L483.0,319.8 L484.5,321.5 L486.0,323.2 L487.5,324.8 L489.0,326.5 L490.5,328.1 L492.0,329.6 L493.5,331.2 L495.0,332.7 L496.5,334.1 L498.0,335.6 L499.5,337.0 L501.0,338.3 L502.5,339.7 L504.0,341.0 L505.5,342.3 L507.0,343.5 L508.5,344.7 L510.0,345.9 L511.5,347.1 L513.0,348.2 L514.5,349.3 L516.0,350.4 L517.5,351.4 L519.0,352.4 L520.5,353.4 L522.0,354.4 L523.5,355.3 L525.0,356.2 L526.5,357.1 L528.0,358.0 L529.5,358.8 L531.0,359.6 L532.5,360.4 L534.0,361.2 L535.5,361.9 L537.0,362.6 L538.5,363.3 L540.0,364.0 L541.5,364.6 L543.0,365.2 L544.5,365.8 L546.0,366.4 L547.5,367.0 L549.0,367.5 L550.5,368.1 L552.0,368.6 L553.5,369.0 L555.0,369.5 L556.5,370.0 L558.0,370.4 L559.5,370.8 L561.0,371.2 L562.5,371.6 L564.0,372.0 L565.5,372.4 L567.0,372.7 L568.5,373.0 L570.0,373.4 L571.5,373.7 L573.0,374.0 L574.5,374.3 L576.0,374.6 L577.5,374.8 L579.0,375.1 L580.5,375.3 L582.0,375.6 L583.5,375.8 L585.0,376.0 L586.5,376.2 L588.0,376.4 L589.5,376.6 L591.0,376.8 L592.5,377.0 L594.0,377.1 L595.5,377.3 L597.0,377.4 L598.5,377.6 L600.0,377.7 L601.5,377.9 L603.0,378.0 L604.5,378.2 L606.0,378.3 L607.5,378.4 L609.0,378.5 L610.5,378.6 L612.0,378.7 L613.5,378.8 L615.0,378.9 L616.5,379.0 L618.0,379.1 L619.5,379.2 L621.0,379.3 L622.5,379.4 L624.0,379.5 L625.5,379.5 L627.0,379.6 L628.5,379.7 L630.0,379.7 L631.5,379.8 L633.0,379.8 L634.5,379.9"/>
<path d="M49.5,389.6 L51.0,389.6 L52.5,389.5 L54.0,389.4 L55.5,389.3 L57.0,389.2 L58.5,389.0 L60.0,388.9 L61.5,388.8 L63.0,388.6 L64.5,388.4 L66.0,388.3 L67.5,388.1 L69.0,387.9 L70.5,387.7 L72.0,387.5 L73.5,387.2 L75.0,387.0 L76.5,386.8 L78.0,386.5 L79.5,386.3 L81.0,386.0 L82.5,385.7 L84.0,385.5 L85.5,385.2 L87.0,384.9 L88.5,384.6 L90.0,384.3 L91.5,384.0 L93.0,383.7 L94.5,383.4 L96.0,383.1 L97.5,382.8 L99.0,382.5 L100.5,382.2 L102.0,381.9 L103.5,381.6 L105.0,381.3 L106.5,380.9 L108.0,380.6 L109.5,380.3 L111.0,380.0 L112.5,379.7 L114.0,379.3 L115.5,379.0 L117.0,378.6 L118.5,378.2 L120.0,377.9 L121.5,377.5 L123.0,377.0 L124.5,376.6 L126.0,376.2 L127.5,375.7 L129.0,375.2 L130.5,374.7 L132.0,374.1 L133.5,373.6 L135.0,373.0 L136.5,372.4 L138.0,371.7 L139.5,371.1 L141.0,370.3 L142.5,369.6 L144.0,368.8 L145.5,368.0 L147.0,367.2 L148.5,366.3 L150.0,365.4 L151.5,364.4 L153.0,363.4 L154.5,362.4 L156.0,361.3 L157.5,360.2 L159.0,359.1 L160.5,357.9 L162.0,356.7 L163.5,355.5 L165.0,354.2 L166.5,352.9 L168.0,351.5 L169.5,350.1 L171.0,348.7 L172.5,347.2 L174.0,345.7 L175.5,344.1 L177.0,342.6 L178.5,340.9 L180.0,339.3 L181.5,337.6 L183.0,335.9 L184.5,334.1 L186.0,332.3 L187.5,330.5 L189.0,328.6 L190.5,326.7 L192.0,324.8 L193.5,322.8 L195.0,320.8 L196.5,318.8 L198.0,316.8 L199.5,314.7 L201.0,312.6 L202.5,310.4 L204.0,308.2 L205.5,306.0 L207.0,303.8 L208.5,301.5 L210.0,299.3 L211.5,296.9 L213.0,294.6 L214.5,292.2 L216.0,289.8 L217.5,287.3 L219.0,284.9 L220.5,282.4 L222.0,279.9 L223.5,277.3 L225.0,274.7 L226.5,272.1 L228.0,269.5 L229.5,266.8 L231.0,264.1 L232.5,261.4 L234.0,258.7 L235.5,255.9 L237.0,253.1 L238.5,250.3 L240.0,247.5 L241.5,244.7 L243.0,241.8 L244.5,238.9 L246.0,236.1 L247.5,233.2 L249.0,230.3 L250.5,227.4 L252.0,224.5 L253.5,221.6 L255.0,218.7 L256.5,215.8 L258.0,212.9 L259.5,210.0 L261.0,207.1 L262.5,204.3 L264.0,201.4 L265.5,198.6 L267.0,195.8 L268.5,193.0 L270.0,190.2 L271.5,187.5 L273.0,184.8 L274.5,182.1 L276.0,179.5 L277.5,176.9 L279.0,174.3 L280.5,171.8 L282.0,169.3 L283.5,166.9 L285.0,164.6 L286.5,162.3 L288.0,160.0 L289.5,157.8 L291.0,155.7 L292.5,153.7 L294.0,151.7 L295.5,149.8 L297.0,147.9 L298.5,146.2 L300.0,144.5 L301.5,142.9 L303.0,141.4 L304.5,140.0 L306.0,138.7 L307.5,137.5 L309.0,136.4 L310.5,135.3 L312.0,134.4 L313.5,133.7 L315.0,133.0 L316.5,132.4 L318.0,132.0 L319.5,131.8 L321.0,131.7 L322.5,131.7 L324.0,131.7 L325.5,131.7 L327.0,131.7 L328.5,131.7 L330.0,131.8 L331.5,131.8 L333.0,131.8 L334.5,131.8 L336.0,131.9 L337.5,132.0 L339.0,132.3 L340.5,132.6 L342.0,133.0 L343.5,133.5 L345.0,134.0 L346.5,134.7 L348.0,135.4 L349.5,136.2 L351.0,137.0 L352.5,138.0 L354.0,138.9 L355.5,140.0 L357.0,141.1 L358.5,142.3 L360.0,143.5 L361.5,144.8 L363.0,146.2 L364.5,147.6 L366.0,149.1 L367.5,150.6 L369.0,152.2 L370.5,153.8 L372.0,155.5 L373.5,157.3 L375.0,159.1 L376.5,160.9 L378.0,162.8 L379.5,164.8 L381.0,166.7 L382.5,168.8 L384.0,170.8 L385.5,173.0 L387.0,175.1 L388.5,177.3 L390.0,179.6 L391.5,181.9 L393.0,184.2 L394.5,186.5 L396.0,188.9 L397.5,191.3 L399.0,193.8 L400.5,196.2 L402.0,198.7 L403.5,201.3 L405.0,203.8 L406.5,206.4 L408.0,208.9 L409.5,211.5 L411.0,214.1 L412.5,216.8 L414.0,219.4 L415.5,222.0 L417.0,224.6 L418.5,227.3 L420.0,229.9 L421.5,232.6 L423.0,235.2 L424.5,237.8 L426.0,240.4 L427.5,243.0 L429.0,245.6 L430.5,248.2 L432.0,250.8 L433.5,253.3 L435.0,255.9 L436.5,258.4 L438.0,260.9 L439.5,263.4 L441.0,265.9 L442.5,268.3 L444.0,270.8 L445.5,273.2 L447.0,275.6 L448.5,277.9 L450.0,280.3 L451.5,282.6 L453.0,284.9 L454.5,287.2 L456.0,289.5 L457.5,291.7 L459.0,294.0 L460.5,296.2 L462.0,298.3 L463.5,300.5 L465.0,302.6 L466.5,304.7 L468.0,306.8 L469.5,308.8 L471.0,310.8 L472.5,312.8 L474.0,314.8 L475.5,316.7 L477.0,318.6 L478.5,320.5 L480.0,322.3 L481.5,324.2 L483.0,326.0 L484.5,327.7 L486.0,329.5 L487.5,331.2 L489.0,332.8 L490.5,334.5 L492.0,336.1 L493.5,337.7 L495.0,339.2 L496.5,340.8 L498.0,342.3 L499.5,343.7 L501.0,345.1 L502.5,346.5 L504.0,347.9 L505.5,349.2 L507.0,350.6 L508.5,351.8 L510.0,353.1 L511.5,354.3 L513.0,355.5 L514.5,356.6 L516.0,357.7 L517.5,358.8 L519.0,359.8 L520.5,360.9 L522.0,361.9 L523.5,362.8 L525.0,363.7 L526.5,364.6 L528.0,365.5 L529.5,366.4 L531.0,367.2 L532.5,368.0 L534.0,368.7 L535.5,369.5 L537.0,370.2 L538.5,370.9 L540.0,371.5 L541.5,372.2 L543.0,372.8 L544.5,373.4 L546.0,374.0 L547.5,374.6 L549.0,375.2 L550.5,375.7 L552.0,376.2 L553.5,376.8 L555.0,377.3 L556.5,377.8 L558.0,378.3 L559.5,378.7 L561.0,379.2 L562.5,379.6 L564.0,380.1 L565.5,380.5 L567.0,381.0 L568.5,381.4 L570.0,381.8 L571.5,382.2 L573.0,382.6 L574.5,383.0 L576.0,383.3 L577.5,383.7 L579.0,384.1 L580.5,384.4 L582.0,384.7 L583.5,385.0 L585.0,385.3 L586.5,385.6 L588.0,385.9 L589.5,386.2 L591.0,386.5 L592.5,386.7 L594.0,387.0 L595.5,387.2 L597.0,387.4 L598.5,387.6 L600.0,387.9 L601.5,388.1 L603.0,388.3 L604.5,388.5 L606.0,388.6 L607.5,388.8 L609.0,389.0 L610.5,389.2 L612.0,389.3 L613.5,389.5 L615.0,389.7 L616.5,389.8 L618.0,390.0 L619.5,390.1 L621.0,390.3 L622.5,390.4 L624.0,390.5 L625.5,390.6 L627.0,390.7 L628.5,390.8 L630.0,390.9 L631.5,391.0 L633.0,391.1 L634.5,391.2"/>
<path d="M49.5,399.4 L51.0,399.3 L52.5,399.2 L54.0,399.1 L55.5,399.0 L57.0,398.9 L58.5,398.8 L60.0,398.7 L61.5,398.5 L63.0,398.3 L64.5,398.2 L66.0,398.0 L67.5,397.8 L69.0,397.6 L70.5,397.3 L72.0,397.1 L73.5,396.9 L75.0,396.6 L76.5,396.3 L78.0,396.0 L79.5,395.7 L81.0,395.4 L82.5,395.1 L84.0,394.8 L85.5,394.5 L87.0,394.1 L88.5,393.8 L90.0,393.5 L91.5,393.1 L93.0,392.8 L94.5,392.4 L96.0,392.1 L97.5,391.8 L99.0,391.4 L100.5,391.1 L102.0,390.8 L103.5,390.5 L105.0,390.2 L106.5,389.9 L108.0,389.6 L109.5,389.3 L111.0,389.0 L112.5,388.7 L114.0,388.3 L115.5,388.0 L117.0,387.7 L118.5,387.4 L120.0,387.0 L121.5,386.7 L123.0,386.3 L124.5,385.9 L126.0,385.4 L127.5,385.0 L129.0,384.5 L130.5,384.0 L132.0,383.5 L133.5,382.9 L135.0,382.3 L136.5,381.7 L138.0,381.0 L139.5,380.3 L141.0,379.6 L142.5,378.8 L144.0,378.0 L145.5,377.1 L147.0,376.2 L148.5,375.3 L150.0,374.3 L151.5,373.2 L153.0,372.2 L154.5,371.1 L156.0,369.9 L157.5,368.7 L159.0,367.5 L160.5,366.2 L162.0,364.9 L163.5,363.5 L165.0,362.1 L166.5,360.7 L168.0,359.2 L169.5,357.8 L171.0,356.2 L172.5,354.7 L174.0,353.1 L175.5,351.5 L177.0,349.9 L178.5,348.2 L180.0,346.5 L181.5,344.8 L183.0,343.1 L184.5,341.3 L186.0,339.5 L187.5,337.7 L189.0,335.8 L190.5,333.9 L192.0,332.0 L193.5,330.0 L195.0,328.0 L196.5,326.0 L198.0,323.9 L199.5,321.8 L201.0,319.6 L202.5,317.4 L204.0,315.2 L205.5,312.9 L207.0,310.6 L208.5,308.3 L210.0,305.9 L211.5,303.4 L213.0,301.0 L214.5,298.5 L216.0,295.9 L217.5,293.4 L219.0,290.8 L220.5,288.2 L222.0,285.5 L223.5,282.8 L225.0,280.1 L226.5,277.4 L228.0,274.7 L229.5,271.9 L231.0,269.1 L232.5,266.3 L234.0,263.5 L235.5,260.7 L237.0,257.9 L238.5,255.0 L240.0,252.2 L241.5,249.3 L243.0,246.5 L244.5,243.6 L246.0,240.8 L247.5,238.0 L249.0,235.1 L250.5,232.3 L252.0,229.5 L253.5,226.7 L255.0,223.9 L256.5,221.1 L258.0,218.4 L259.5,215.6 L261.0,212.9 L262.5,210.2 L264.0,207.5 L265.5,204.9 L267.0,202.3 L268.5,199.7 L270.0,197.2 L271.5,194.7 L273.0,192.2 L274.5,189.8 L276.0,187.4 L277.5,185.0 L279.0,182.7 L280.5,180.5 L282.0,178.3 L283.5,176.1 L285.0,174.0 L286.5,172.0 L288.0,170.0 L289.5,168.1 L291.0,166.2 L292.5,164.4 L294.0,162.7 L295.5,161.0 L297.0,159.4 L298.5,157.8 L300.0,156.4 L301.5,155.0 L303.0,153.7 L304.5,152.4 L306.0,151.3 L307.5,150.2 L309.0,149.2 L310.5,148.3 L312.0,147.4 L313.5,146.7 L315.0,146.1 L316.5,145.5 L318.0,145.1 L319.5,144.7 L321.0,144.5 L322.5,144.4 L324.0,144.4 L325.5,144.4 L327.0,144.4 L328.5,144.4 L330.0,144.4 L331.5,144.5 L333.0,144.5 L334.5,144.5 L336.0,144.6 L337.5,144.6 L339.0,144.9 L340.5,145.3 L342.0,145.8 L343.5,146.4 L345.0,147.1 L346.5,147.9 L348.0,148.8 L349.5,149.8 L351.0,150.8 L352.5,152.0 L354.0,153.2 L355.5,154.4 L357.0,155.8 L358.5,157.2 L360.0,158.6 L361.5,160.2 L363.0,161.7 L364.5,163.4 L366.0,165.0 L367.5,166.8 L369.0,168.6 L370.5,170.4 L372.0,172.3 L373.5,174.2 L375.0,176.2 L376.5,178.2 L378.0,180.2 L379.5,182.3 L381.0,184.5 L382.5,186.6 L384.0,188.9 L385.5,191.1 L387.0,193.4 L388.5,195.7 L390.0,198.0 L391.5,200.4 L393.0,202.8 L394.5,205.3 L396.0,207.7 L397.5,210.2 L399.0,212.7 L400.5,215.3 L402.0,217.8 L403.5,220.4 L405.0,223.0 L406.5,225.6 L408.0,228.2 L409.5,230.8 L411.0,233.4 L412.5,236.1 L414.0,238.7 L415.5,241.3 L417.0,243.9 L418.5,246.5 L420.0,249.1 L421.5,251.7 L423.0,254.2 L424.5,256.8 L426.0,259.3 L427.5,261.8 L429.0,264.3 L430.5,266.7 L432.0,269.2 L433.5,271.6 L435.0,274.0 L436.5,276.4 L438.0,278.7 L439.5,281.0 L441.0,283.3 L442.5,285.6 L444.0,287.8 L445.5,290.1 L447.0,292.3 L448.5,294.5 L450.0,296.6 L451.5,298.8 L453.0,300.9 L454.5,303.0 L456.0,305.0 L457.5,307.1 L459.0,309.1 L460.5,311.1 L462.0,313.1 L463.5,315.0 L465.0,317.0 L466.5,318.8 L468.0,320.7 L469.5,322.6 L471.0,324.4 L472.5,326.2 L474.0,327.9 L475.5,329.7 L477.0,331.4 L478.5,333.0 L480.0,334.7 L481.5,336.3 L483.0,337.9 L484.5,339.4 L486.0,340.9 L487.5,342.4 L489.0,343.9 L490.5,345.3 L492.0,346.7 L493.5,348.1 L495.0,349.5 L496.5,350.8 L498.0,352.1 L499.5,353.4 L501.0,354.6 L502.5,355.8 L504.0,357.0 L505.5,358.2 L507.0,359.4 L508.5,360.5 L510.0,361.6 L511.5,362.7 L513.0,363.8 L514.5,364.9 L516.0,365.9 L517.5,366.9 L519.0,367.9 L520.5,368.9 L522.0,369.9 L523.5,370.8 L525.0,371.7 L526.5,372.6 L528.0,373.5 L529.5,374.4 L531.0,375.2 L532.5,376.0 L534.0,376.8 L535.5,377.6 L537.0,378.4 L538.5,379.1 L540.0,379.9 L541.5,380.6 L543.0,381.2 L544.5,381.9 L546.0,382.5 L547.5,383.2 L549.0,383.8 L550.5,384.4 L552.0,384.9 L553.5,385.5 L555.0,386.0 L556.5,386.6 L558.0,387.1 L559.5,387.6 L561.0,388.1 L562.5,388.5 L564.0,389.0 L565.5,389.4 L567.0,389.9 L568.5,390.3 L570.0,390.7 L571.5,391.1 L573.0,391.5 L574.5,391.9 L576.0,392.2 L577.5,392.6 L579.0,393.0 L580.5,393.3 L582.0,393.6 L583.5,393.9 L585.0,394.3 L586.5,394.6 L588.0,394.9 L589.5,395.1 L591.0,395.4 L592.5,395.7 L594.0,396.0 L595.5,396.2 L597.0,396.5 L598.5,396.7 L600.0,397.0 L601.5,397.2 L603.0,397.5 L604.5,397.7 L606.0,397.9 L607.5,398.2 L609.0,398.4 L610.5,398.6 L612.0,398.8 L613.5,399.1 L615.0,399.3 L616.5,399.5 L618.0,399.7 L619.5,399.9 L621.0,400.1 L622.5,400.3 L624.0,400.4 L625.5,400.6 L627.0,400.8 L628.5,400.9 L630.0,401.0 L631.5,401.2 L633.0,401.3 L634.5,401.4"/>
<path d="M49.5,410.5 L51.0,410.4 L52.5,410.3 L54.0,410.2 L55.5,410.0 L57.0,409.9 L58.5,409.7 L60.0,409.5 L61.5,409.3 L63.0,409.1 L64.5,408.9 L66.0,408.7 L67.5,408.4 L69.0,408.2 L70.5,407.9 L72.0,407.6 L73.5,407.3 L75.0,407.0 L76.5,406.7 L78.0,406.4 L79.5,406.0 L81.0,405.7 L82.5,405.3 L84.0,404.9 L85.5,404.6 L87.0,404.2 L88.5,403.8 L90.0,403.4 L91.5,403.0 L93.0,402.7 L94.5,402.3 L96.0,401.9 L97.5,401.5 L99.0,401.1 L100.5,400.8 L102.0,400.4 L103.5,400.0 L105.0,399.6 L106.5,399.3 L108.0,398.9 L109.5,398.5 L111.0,398.2 L112.5,397.8 L114.0,397.4 L115.5,397.1 L117.0,396.7 L118.5,396.3 L120.0,395.8 L121.5,395.4 L123.0,395.0 L124.5,394.5 L126.0,394.0 L127.5,393.5 L129.0,392.9 L130.5,392.4 L132.0,391.8 L133.5,391.1 L135.0,390.5 L136.5,389.8 L138.0,389.0 L139.5,388.3 L141.0,387.5 L142.5,386.6 L144.0,385.8 L145.5,384.8 L147.0,383.9 L148.5,382.9 L150.0,381.8 L151.5,380.7 L153.0,379.6 L154.5,378.4 L156.0,377.2 L157.5,375.9 L159.0,374.6 L160.5,373.3 L162.0,371.9 L163.5,370.5 L165.0,369.0 L166.5,367.5 L168.0,366.0 L169.5,364.4 L171.0,362.8 L172.5,361.2 L174.0,359.6 L175.5,357.9 L177.0,356.2 L178.5,354.4 L180.0,352.6 L181.5,350.8 L183.0,349.0 L184.5,347.1 L186.0,345.2 L187.5,343.3 L189.0,341.3 L190.5,339.3 L192.0,337.3 L193.5,335.3 L195.0,333.2 L196.5,331.0 L198.0,328.9 L199.5,326.7 L201.0,324.5 L202.5,322.2 L204.0,319.9 L205.5,317.6 L207.0,315.3 L208.5,312.9 L210.0,310.5 L211.5,308.0 L213.0,305.5 L214.5,303.0 L216.0,300.5 L217.5,297.9 L219.0,295.3 L220.5,292.7 L222.0,290.0 L223.5,287.3 L225.0,284.6 L226.5,281.9 L228.0,279.1 L229.5,276.4 L231.0,273.6 L232.5,270.8 L234.0,268.0 L235.5,265.2 L237.0,262.3 L238.5,259.5 L240.0,256.6 L241.5,253.8 L243.0,250.9 L244.5,248.1 L246.0,245.2 L247.5,242.3 L249.0,239.5 L250.5,236.6 L252.0,233.8 L253.5,231.0 L255.0,228.1 L256.5,225.3 L258.0,222.6 L259.5,219.8 L261.0,217.0 L262.5,214.3 L264.0,211.6 L265.5,209.0 L267.0,206.3 L268.5,203.7 L270.0,201.2 L271.5,198.7 L273.0,196.2 L274.5,193.7 L276.0,191.3 L277.5,189.0 L279.0,186.7 L280.5,184.5 L282.0,182.3 L283.5,180.1 L285.0,178.1 L286.5,176.1 L288.0,174.1 L289.5,172.2 L291.0,170.4 L292.5,168.7 L294.0,167.0 L295.5,165.4 L297.0,163.9 L298.5,162.5 L300.0,161.2 L301.5,159.9 L303.0,158.8 L304.5,157.7 L306.0,156.8 L307.5,155.9 L309.0,155.2 L310.5,154.6 L312.0,154.1 L313.5,153.7 L315.0,153.5 L316.5,153.5 L318.0,153.5 L319.5,153.5 L321.0,153.5 L322.5,153.5 L324.0,153.6 L325.5,153.6 L327.0,153.7 L328.5,153.7 L330.0,153.8 L331.5,153.9 L333.0,154.1 L334.5,154.4 L336.0,154.7 L337.5,155.2 L339.0,155.8 L340.5,156.4 L342.0,157.1 L343.5,157.9 L345.0,158.7 L346.5,159.7 L348.0,160.6 L349.5,161.7 L351.0,162.8 L352.5,163.9 L354.0,165.1 L355.5,166.4 L357.0,167.7 L358.5,169.1 L360.0,170.5 L361.5,172.0 L363.0,173.5 L364.5,175.0 L366.0,176.6 L367.5,178.3 L369.0,180.0 L370.5,181.8 L372.0,183.6 L373.5,185.4 L375.0,187.3 L376.5,189.2 L378.0,191.2 L379.5,193.2 L381.0,195.3 L382.5,197.4 L384.0,199.5 L385.5,201.7 L387.0,203.9 L388.5,206.2 L390.0,208.5 L391.5,210.8 L393.0,213.2 L394.5,215.6 L396.0,218.0 L397.5,220.5 L399.0,223.0 L400.5,225.5 L402.0,228.0 L403.5,230.6 L405.0,233.2 L406.5,235.8 L408.0,238.4 L409.5,241.0 L411.0,243.7 L412.5,246.3 L414.0,249.0 L415.5,251.6 L417.0,254.3 L418.5,256.9 L420.0,259.5 L421.5,262.1 L423.0,264.7 L424.5,267.3 L426.0,269.9 L427.5,272.5 L429.0,275.0 L430.5,277.6 L432.0,280.1 L433.5,282.6 L435.0,285.1 L436.5,287.6 L438.0,290.0 L439.5,292.5 L441.0,294.9 L442.5,297.3 L444.0,299.7 L445.5,302.1 L447.0,304.4 L448.5,306.7 L450.0,309.1 L451.5,311.3 L453.0,313.6 L454.5,315.8 L456.0,318.1 L457.5,320.2 L459.0,322.4 L460.5,324.5 L462.0,326.6 L463.5,328.7 L465.0,330.7 L466.5,332.7 L468.0,334.6 L469.5,336.5 L471.0,338.3 L472.5,340.1 L474.0,341.9 L475.5,343.6 L477.0,345.3 L478.5,346.9 L480.0,348.5 L481.5,350.0 L483.0,351.5 L484.5,353.0 L486.0,354.4 L487.5,355.8 L489.0,357.1 L490.5,358.4 L492.0,359.7 L493.5,360.9 L495.0,362.2 L496.5,363.3 L498.0,364.5 L499.5,365.7 L501.0,366.8 L502.5,367.9 L504.0,369.0 L505.5,370.1 L507.0,371.2 L508.5,372.2 L510.0,373.3 L511.5,374.3 L513.0,375.3 L514.5,376.4 L516.0,377.4 L517.5,378.4 L519.0,379.4 L520.5,380.4 L522.0,381.4 L523.5,382.4 L525.0,383.4 L526.5,384.3 L528.0,385.3 L529.5,386.2 L531.0,387.1 L532.5,388.0 L534.0,388.9 L535.5,389.8 L537.0,390.6 L538.5,391.4 L540.0,392.2 L541.5,393.0 L543.0,393.7 L544.5,394.4 L546.0,395.1 L547.5,395.8 L549.0,396.4 L550.5,397.0 L552.0,397.6 L553.5,398.2 L555.0,398.7 L556.5,399.2 L558.0,399.7 L559.5,400.2 L561.0,400.7 L562.5,401.1 L564.0,401.5 L565.5,402.0 L567.0,402.3 L568.5,402.7 L570.0,403.1 L571.5,403.4 L573.0,403.8 L574.5,404.1 L576.0,404.4 L577.5,404.7 L579.0,405.0 L580.5,405.3 L582.0,405.5 L583.5,405.8 L585.0,406.0 L586.5,406.3 L588.0,406.5 L589.5,406.8 L591.0,407.0 L592.5,407.2 L594.0,407.4 L595.5,407.6 L597.0,407.8 L598.5,408.0 L600.0,408.2 L601.5,408.4 L603.0,408.6 L604.5,408.8 L606.0,408.9 L607.5,409.1 L609.0,409.3 L610.5,409.5 L612.0,409.6 L613.5,409.8 L615.0,410.0 L616.5,410.1 L618.0,410.3 L619.5,410.4 L621.0,410.6 L622.5,410.7 L624.0,410.8 L625.5,411.0 L627.0,411.1 L628.5,411.2 L630.0,411.3 L631.5,411.4 L633.0,411.4 L634.5,411.5"/>
<path d="M49.5,419.5 L51.0,419.4 L52.5,419.3 L54.0,419.1 L55.5,419.0 L57.0,418.9 L58.5,418.7 L60.0,418.5 L61.5,418.3 L63.0,418.1 L64.5,417.9 L66.0,417.7 L67.5,417.5 L69.0,417.2 L70.5,416.9 L72.0,416.7 L73.5,416.4 L75.0,416.1 L76.5,415.8 L78.0,415.5 L79.5,415.2 L81.0,414.9 L82.5,414.5 L84.0,414.2 L85.5,413.8 L87.0,413.5 L88.5,413.1 L90.0,412.7 L91.5,412.4 L93.0,412.0 L94.5,411.6 L96.0,411.2 L97.5,410.8 L99.0,410.4 L100.5,410.0 L102.0,409.6 L103.5,409.2 L105.0,408.8 L106.5,408.3 L108.0,407.9 L109.5,407.5 L111.0,407.0 L112.5,406.5 L114.0,406.1 L115.5,405.6 L117.0,405.1 L118.5,404.6 L120.0,404.1 L121.5,403.5 L123.0,402.9 L124.5,402.4 L126.0,401.8 L127.5,401.1 L129.0,400.5 L130.5,399.8 L132.0,399.1 L133.5,398.3 L135.0,397.6 L136.5,396.8 L138.0,395.9 L139.5,395.0 L141.0,394.1 L142.5,393.2 L144.0,392.2 L145.5,391.1 L147.0,390.1 L148.5,388.9 L150.0,387.8 L151.5,386.5 L153.0,385.3 L154.5,384.0 L156.0,382.6 L157.5,381.2 L159.0,379.8 L160.5,378.3 L162.0,376.8 L163.5,375.3 L165.0,373.7 L166.5,372.0 L168.0,370.4 L169.5,368.7 L171.0,367.0 L172.5,365.2 L174.0,363.5 L175.5,361.7 L177.0,359.8 L178.5,358.0 L180.0,356.1 L181.5,354.2 L183.0,352.3 L184.5,350.4 L186.0,348.4 L187.5,346.4 L189.0,344.4 L190.5,342.4 L192.0,340.3 L193.5,338.2 L195.0,336.1 L196.5,333.9 L198.0,331.7 L199.5,329.5 L201.0,327.3 L202.5,325.0 L204.0,322.7 L205.5,320.4 L207.0,318.0 L208.5,315.6 L210.0,313.2 L211.5,310.7 L213.0,308.2 L214.5,305.7 L216.0,303.1 L217.5,300.6 L219.0,298.0 L220.5,295.3 L222.0,292.7 L223.5,290.0 L225.0,287.4 L226.5,284.7 L228.0,282.0 L229.5,279.2 L231.0,276.5 L232.5,273.8 L234.0,271.1 L235.5,268.4 L237.0,265.6 L238.5,262.9 L240.0,260.2 L241.5,257.6 L243.0,254.9 L244.5,252.3 L246.0,249.6 L247.5,247.0 L249.0,244.4 L250.5,241.9 L252.0,239.3 L253.5,236.8 L255.0,234.3 L256.5,231.8 L258.0,229.4 L259.5,226.9 L261.0,224.5 L262.5,222.2 L264.0,219.8 L265.5,217.4 L267.0,215.1 L268.5,212.8 L270.0,210.5 L271.5,208.3 L273.0,206.0 L274.5,203.9 L276.0,201.7 L277.5,199.6 L279.0,197.5 L280.5,195.5 L282.0,193.5 L283.5,191.5 L285.0,189.7 L286.5,187.8 L288.0,186.1 L289.5,184.4 L291.0,182.8 L292.5,181.2 L294.0,179.7 L295.5,178.3 L297.0,176.9 L298.5,175.7 L300.0,174.5 L301.5,173.3 L303.0,172.3 L304.5,171.3 L306.0,170.4 L307.5,169.6 L309.0,168.9 L310.5,168.3 L312.0,167.7 L313.5,167.3 L315.0,166.9 L316.5,166.6 L318.0,166.5 L319.5,166.4 L321.0,166.4 L322.5,166.5 L324.0,166.6 L325.5,166.7 L327.0,166.8 L328.5,167.0 L330.0,167.1 L331.5,167.2 L333.0,167.4 L334.5,167.7 L336.0,168.1 L337.5,168.6 L339.0,169.2 L340.5,169.9 L342.0,170.6 L343.5,171.4 L345.0,172.3 L346.5,173.2 L348.0,174.2 L349.5,175.3 L351.0,176.4 L352.5,177.6 L354.0,178.8 L355.5,180.2 L357.0,181.5 L358.5,183.0 L360.0,184.5 L361.5,186.1 L363.0,187.8 L364.5,189.5 L366.0,191.3 L367.5,193.1 L369.0,195.1 L370.5,197.1 L372.0,199.1 L373.5,201.2 L375.0,203.4 L376.5,205.6 L378.0,207.9 L379.5,210.2 L381.0,212.5 L382.5,214.9 L384.0,217.3 L385.5,219.7 L387.0,222.2 L388.5,224.7 L390.0,227.1 L391.5,229.6 L393.0,232.1 L394.5,234.6 L396.0,237.2 L397.5,239.7 L399.0,242.2 L400.5,244.7 L402.0,247.2 L403.5,249.7 L405.0,252.2 L406.5,254.6 L408.0,257.1 L409.5,259.6 L411.0,262.0 L412.5,264.5 L414.0,267.0 L415.5,269.4 L417.0,271.9 L418.5,274.3 L420.0,276.7 L421.5,279.2 L423.0,281.6 L424.5,284.0 L426.0,286.4 L427.5,288.9 L429.0,291.3 L430.5,293.7 L432.0,296.1 L433.5,298.4 L435.0,300.8 L436.5,303.2 L438.0,305.6 L439.5,307.9 L441.0,310.2 L442.5,312.6 L444.0,314.9 L445.5,317.2 L447.0,319.4 L448.5,321.7 L450.0,323.9 L451.5,326.1 L453.0,328.3 L454.5,330.5 L456.0,332.6 L457.5,334.7 L459.0,336.8 L460.5,338.9 L462.0,340.9 L463.5,342.9 L465.0,344.8 L466.5,346.8 L468.0,348.6 L469.5,350.5 L471.0,352.3 L472.5,354.0 L474.0,355.7 L475.5,357.4 L477.0,359.0 L478.5,360.5 L480.0,362.1 L481.5,363.5 L483.0,364.9 L484.5,366.3 L486.0,367.6 L487.5,368.9 L489.0,370.2 L490.5,371.4 L492.0,372.5 L493.5,373.6 L495.0,374.7 L496.5,375.8 L498.0,376.8 L499.5,377.8 L501.0,378.8 L502.5,379.8 L504.0,380.8 L505.5,381.7 L507.0,382.7 L508.5,383.6 L510.0,384.5 L511.5,385.5 L513.0,386.4 L514.5,387.3 L516.0,388.2 L517.5,389.2 L519.0,390.1 L520.5,391.0 L522.0,392.0 L523.5,392.9 L525.0,393.8 L526.5,394.7 L528.0,395.6 L529.5,396.5 L531.0,397.4 L532.5,398.3 L534.0,399.1 L535.5,399.9 L537.0,400.7 L538.5,401.5 L540.0,402.3 L541.5,403.0 L543.0,403.8 L544.5,404.5 L546.0,405.1 L547.5,405.8 L549.0,406.4 L550.5,407.0 L552.0,407.6 L553.5,408.1 L555.0,408.6 L556.5,409.1 L558.0,409.6 L559.5,410.1 L561.0,410.5 L562.5,410.9 L564.0,411.3 L565.5,411.7 L567.0,412.1 L568.5,412.4 L570.0,412.8 L571.5,413.1 L573.0,413.4 L574.5,413.7 L576.0,414.0 L577.5,414.3 L579.0,414.5 L580.5,414.8 L582.0,415.1 L583.5,415.3 L585.0,415.5 L586.5,415.8 L588.0,416.0 L589.5,416.2 L591.0,416.4 L592.5,416.6 L594.0,416.8 L595.5,417.0 L597.0,417.2 L598.5,417.4 L600.0,417.6 L601.5,417.8 L603.0,418.0 L604.5,418.2 L606.0,418.3 L607.5,418.5 L609.0,418.7 L610.5,418.9 L612.0,419.0 L613.5,419.2 L615.0,419.4 L616.5,419.5 L618.0,419.7 L619.5,419.8 L621.0,420.0 L622.5,420.1 L624.0,420.3 L625.5,420.4 L627.0,420.5 L628.5,420.6 L630.0,420.7 L631.5,420.8 L633.0,420.9 L634.5,421.0"/>
<path d="M49.5,792.4 L51.0,792.4 L52.5,792.4 L54.0,792.4 L55.5,792.3 L57.0,792.3 L58.5,792.3 L60.0,792.2 L61.5,792.2 L63.0,792.1 L64.5,792.1 L66.0,792.0 L67.5,792.0 L69.0,791.9 L70.5,791.8 L72.0,791.8 L73.5,791.7 L75.0,791.6 L76.5,791.5 L78.0,791.4 L79.5,791.3 L81.0,791.2 L82.5,791.1 L84.0,791.0 L85.5,790.9 L87.0,790.8 L88.5,790.7 L90.0,790.5 L91.5,790.4 L93.0,790.3 L94.5,790.2 L96.0,790.1 L97.5,790.0 L99.0,789.9 L100.5,789.8 L102.0,789.7 L103.5,789.7 L105.0,789.6 L106.5,789.5 L108.0,789.4 L109.5,789.4 L111.0,789.3 L112.5,789.2 L114.0,789.2 L115.5,789.1 L117.0,789.1 L118.5,789.0 L120.0,788.9 L121.5,788.8 L123.0,788.7 L124.5,788.7 L126.0,788.6 L127.5,788.4 L129.0,788.3 L130.5,788.2 L132.0,788.0 L133.5,787.9 L135.0,787.7 L136.5,787.5 L138.0,787.3 L139.5,787.1 L141.0,786.8 L142.5,786.6 L144.0,786.3 L145.5,786.0 L147.0,785.7 L148.5,785.4 L150.0,785.1 L151.5,784.7 L153.0,784.3 L154.5,783.9 L156.0,783.5 L157.5,783.1 L159.0,782.6 L160.5,782.1 L162.0,781.6 L163.5,781.1 L165.0,780.6 L166.5,780.0 L168.0,779.4 L169.5,778.8 L171.0,778.2 L172.5,777.6 L174.0,776.9 L175.5,776.3 L177.0,775.6 L178.5,774.8 L180.0,774.1 L181.5,773.3 L183.0,772.5 L184.5,771.7 L186.0,770.9 L187.5,770.0 L189.0,769.1 L190.5,768.2 L192.0,767.2 L193.5,766.3 L195.0,765.3 L196.5,764.2 L198.0,763.2 L199.5,762.1 L201.0,761.0 L202.5,759.8 L204.0,758.6 L205.5,757.4 L207.0,756.2 L208.5,754.9 L210.0,753.6 L211.5,752.2 L213.0,750.9 L214.5,749.4 L216.0,748.0 L217.5,746.5 L219.0,745.0 L220.5,743.5 L222.0,741.9 L223.5,740.3 L225.0,738.6 L226.5,736.9 L228.0,735.2 L229.5,733.5 L231.0,731.7 L232.5,729.8 L234.0,728.0 L235.5,726.1 L237.0,724.1 L238.5,722.2 L240.0,720.2 L241.5,718.2 L243.0,716.1 L244.5,714.0 L246.0,711.9 L247.5,709.7 L249.0,707.5 L250.5,705.3 L252.0,703.0 L253.5,700.7 L255.0,698.4 L256.5,696.1 L258.0,693.7 L259.5,691.3 L261.0,688.9 L262.5,686.4 L264.0,684.0 L265.5,681.5 L267.0,679.0 L268.5,676.4 L270.0,673.9 L271.5,671.3 L273.0,668.7 L274.5,666.1 L276.0,663.5 L277.5,660.8 L279.0,658.2 L280.5,655.5 L282.0,652.9 L283.5,650.2 L285.0,647.5 L286.5,644.8 L288.0,642.1 L289.5,639.4 L291.0,636.8 L292.5,634.1 L294.0,631.4 L295.5,628.7 L297.0,626.1 L298.5,623.4 L300.0,620.8 L301.5,618.1 L303.0,615.5 L304.5,612.9 L306.0,610.3 L307.5,607.8 L309.0,605.2 L310.5,602.7 L312.0,600.2 L313.5,597.7 L315.0,595.2 L316.5,592.8 L318.0,590.4 L319.5,588.0 L321.0,585.7 L322.5,583.4 L324.0,581.1 L325.5,578.9 L327.0,576.7 L328.5,574.5 L330.0,572.4 L331.5,570.4 L333.0,568.4 L334.5,566.5 L336.0,564.6 L337.5,562.8 L339.0,561.1 L340.5,559.4 L342.0,557.8 L343.5,556.3 L345.0,554.9 L346.5,553.5 L348.0,552.2 L349.5,551.0 L351.0,549.9 L352.5,548.9 L354.0,547.9 L355.5,546.9 L357.0,546.1 L358.5,545.3 L360.0,544.5 L361.5,543.8 L363.0,543.1 L364.5,542.4 L366.0,541.8 L367.5,541.3 L369.0,540.7 L370.5,540.3 L372.0,539.8 L373.5,539.4 L375.0,539.1 L376.5,538.8 L378.0,538.5 L379.5,538.3 L381.0,538.1 L382.5,538.0 L384.0,538.0 L385.5,538.0 L387.0,538.1 L388.5,538.3 L390.0,538.6 L391.5,539.0 L393.0,539.5 L394.5,540.1 L396.0,540.8 L397.5,541.6 L399.0,542.5 L400.5,543.5 L402.0,544.6 L403.5,545.8 L405.0,547.1 L406.5,548.4 L408.0,549.8 L409.5,551.2 L411.0,552.7 L412.5,554.3 L414.0,555.8 L415.5,557.4 L417.0,559.0 L418.5,560.7 L420.0,562.3 L421.5,564.0 L423.0,565.7 L424.5,567.4 L426.0,569.1 L427.5,570.8 L429.0,572.6 L430.5,574.3 L432.0,576.1 L433.5,578.0 L435.0,579.8 L436.5,581.8 L438.0,583.7 L439.5,585.8 L441.0,587.9 L442.5,590.0 L444.0,592.2 L445.5,594.6 L447.0,596.9 L448.5,599.4 L450.0,601.9 L451.5,604.6 L453.0,607.2 L454.5,610.0 L456.0,612.8 L457.5,615.7 L459.0,618.7 L460.5,621.7 L462.0,624.8 L463.5,627.8 L465.0,631.0 L466.5,634.1 L468.0,637.3 L469.5,640.5 L471.0,643.7 L472.5,647.0 L474.0,650.2 L475.5,653.4 L477.0,656.6 L478.5,659.8 L480.0,663.0 L481.5,666.2 L483.0,669.4 L484.5,672.6 L486.0,675.7 L487.5,678.8 L489.0,681.9 L490.5,685.0 L492.0,688.1 L493.5,691.1 L495.0,694.1 L496.5,697.0 L498.0,699.9 L499.5,702.8 L501.0,705.6 L502.5,708.4 L504.0,711.2 L505.5,713.8 L507.0,716.5 L508.5,719.0 L510.0,721.6 L511.5,724.0 L513.0,726.4 L514.5,728.7 L516.0,730.9 L517.5,733.1 L519.0,735.2 L520.5,737.3 L522.0,739.3 L523.5,741.2 L525.0,743.0 L526.5,744.8 L528.0,746.5 L529.5,748.1 L531.0,749.7 L532.5,751.2 L534.0,752.7 L535.5,754.1 L537.0,755.5 L538.5,756.8 L540.0,758.1 L541.5,759.3 L543.0,760.5 L544.5,761.6 L546.0,762.8 L547.5,763.8 L549.0,764.9 L550.5,765.9 L552.0,766.9 L553.5,767.9 L555.0,768.9 L556.5,769.8 L558.0,770.7 L559.5,771.6 L561.0,772.5 L562.5,773.3 L564.0,774.2 L565.5,775.0 L567.0,775.8 L568.5,776.6 L570.0,777.3 L571.5,778.1 L573.0,778.8 L574.5,779.5 L576.0,780.2 L577.5,780.8 L579.0,781.5 L580.5,782.1 L582.0,782.6 L583.5,783.2 L585.0,783.7 L586.5,784.2 L588.0,784.7 L589.5,785.1 L591.0,785.5 L592.5,785.9 L594.0,786.3 L595.5,786.6 L597.0,787.0 L598.5,787.3 L600.0,787.6 L601.5,787.8 L603.0,788.1 L604.5,788.3 L606.0,788.5 L607.5,788.7 L609.0,788.9 L610.5,789.1 L612.0,789.3 L613.5,789.4 L615.0,789.6 L616.5,789.7 L618.0,789.9 L619.5,790.0 L621.0,790.1 L622.5,790.2 L624.0,790.3 L625.5,790.4 L627.0,790.5 L628.5,790.6 L630.0,790.6 L631.5,790.7 L633.0,790.7 L634.5,790.8"/>
<path d="M49.5,804.7 L51.0,804.7 L52.5,804.7 L54.0,804.6 L55.5,804.6 L57.0,804.5 L58.5,804.5 L60.0,804.4 L61.5,804.3 L63.0,804.3 L64.5,804.2 L66.0,804.1 L67.5,804.0 L69.0,804.0 L70.5,803.9 L72.0,803.8 L73.5,803.6 L75.0,803.5 L76.5,803.4 L78.0,803.3 L79.5,803.1 L81.0,803.0 L82.5,802.8 L84.0,802.7 L85.5,802.5 L87.0,802.4 L88.5,802.2 L90.0,802.0 L91.5,801.9 L93.0,801.7 L94.5,801.5 L96.0,801.4 L97.5,801.2 L99.0,801.0 L100.5,800.9 L102.0,800.7 L103.5,800.5 L105.0,800.4 L106.5,800.2 L108.0,800.0 L109.5,799.9 L111.0,799.7 L112.5,799.5 L114.0,799.4 L115.5,799.2 L117.0,799.0 L118.5,798.8 L120.0,798.6 L121.5,798.4 L123.0,798.2 L124.5,798.0 L126.0,797.8 L127.5,797.5 L129.0,797.3 L130.5,797.0 L132.0,796.7 L133.5,796.3 L135.0,796.0 L136.5,795.6 L138.0,795.2 L139.5,794.7 L141.0,794.3 L142.5,793.7 L144.0,793.2 L145.5,792.6 L147.0,791.9 L148.5,791.2 L150.0,790.5 L151.5,789.7 L153.0,788.9 L154.5,788.1 L156.0,787.2 L157.5,786.2 L159.0,785.2 L160.5,784.2 L162.0,783.1 L163.5,782.0 L165.0,780.8 L166.5,779.6 L168.0,778.4 L169.5,777.1 L171.0,775.8 L172.5,774.5 L174.0,773.1 L175.5,771.7 L177.0,770.2 L178.5,768.7 L180.0,767.2 L181.5,765.7 L183.0,764.1 L184.5,762.5 L186.0,760.8 L187.5,759.1 L189.0,757.4 L190.5,755.7 L192.0,753.9 L193.5,752.0 L195.0,750.1 L196.5,748.2 L198.0,746.3 L199.5,744.3 L201.0,742.2 L202.5,740.2 L204.0,738.1 L205.5,735.9 L207.0,733.7 L208.5,731.5 L210.0,729.3 L211.5,727.0 L213.0,724.7 L214.5,722.4 L216.0,720.0 L217.5,717.6 L219.0,715.2 L220.5,712.8 L222.0,710.3 L223.5,707.8 L225.0,705.3 L226.5,702.8 L228.0,700.2 L229.5,697.7 L231.0,695.1 L232.5,692.5 L234.0,689.9 L235.5,687.2 L237.0,684.6 L238.5,681.9 L240.0,679.2 L241.5,676.5 L243.0,673.8 L244.5,671.1 L246.0,668.3 L247.5,665.6 L249.0,662.8 L250.5,660.1 L252.0,657.3 L253.5,654.6 L255.0,651.8 L256.5,649.0 L258.0,646.3 L259.5,643.5 L261.0,640.8 L262.5,638.1 L264.0,635.3 L265.5,632.6 L267.0,629.9 L268.5,627.3 L270.0,624.6 L271.5,622.0 L273.0,619.4 L274.5,616.8 L276.0,614.3 L277.5,611.8 L279.0,609.3 L280.5,606.9 L282.0,604.5 L283.5,602.2 L285.0,599.9 L286.5,597.6 L288.0,595.4 L289.5,593.3 L291.0,591.2 L292.5,589.1 L294.0,587.2 L295.5,585.2 L297.0,583.3 L298.5,581.5 L300.0,579.7 L301.5,578.0 L303.0,576.3 L304.5,574.6 L306.0,573.0 L307.5,571.5 L309.0,569.9 L310.5,568.4 L312.0,567.0 L313.5,565.6 L315.0,564.2 L316.5,562.8 L318.0,561.4 L319.5,560.1 L321.0,558.8 L322.5,557.6 L324.0,556.4 L325.5,555.2 L327.0,554.1 L328.5,553.0 L330.0,552.0 L331.5,551.0 L333.0,550.1 L334.5,549.3 L336.0,548.5 L337.5,547.8 L339.0,547.1 L340.5,546.6 L342.0,546.1 L343.5,545.6 L345.0,545.2 L346.5,544.9 L348.0,544.6 L349.5,544.4 L351.0,544.2 L352.5,544.0 L354.0,543.9 L355.5,543.8 L357.0,543.7 L358.5,543.6 L360.0,543.6 L361.5,543.6 L363.0,543.7 L364.5,543.8 L366.0,544.0 L367.5,544.3 L369.0,544.7 L370.5,545.2 L372.0,545.8 L373.5,546.5 L375.0,547.3 L376.5,548.2 L378.0,549.2 L379.5,550.4 L381.0,551.6 L382.5,553.0 L384.0,554.5 L385.5,556.0 L387.0,557.7 L388.5,559.5 L390.0,561.3 L391.5,563.2 L393.0,565.1 L394.5,567.1 L396.0,569.1 L397.5,571.2 L399.0,573.2 L400.5,575.3 L402.0,577.3 L403.5,579.4 L405.0,581.4 L406.5,583.4 L408.0,585.4 L409.5,587.4 L411.0,589.3 L412.5,591.3 L414.0,593.2 L415.5,595.2 L417.0,597.1 L418.5,599.1 L420.0,601.1 L421.5,603.1 L423.0,605.1 L424.5,607.2 L426.0,609.3 L427.5,611.5 L429.0,613.7 L430.5,616.0 L432.0,618.4 L433.5,620.8 L435.0,623.2 L436.5,625.8 L438.0,628.4 L439.5,631.0 L441.0,633.7 L442.5,636.5 L444.0,639.3 L445.5,642.2 L447.0,645.1 L448.5,648.0 L450.0,651.0 L451.5,654.0 L453.0,657.0 L454.5,660.0 L456.0,663.0 L457.5,666.1 L459.0,669.1 L460.5,672.1 L462.0,675.1 L463.5,678.1 L465.0,681.0 L466.5,683.9 L468.0,686.8 L469.5,689.7 L471.0,692.5 L472.5,695.3 L474.0,698.0 L475.5,700.7 L477.0,703.4 L478.5,706.1 L480.0,708.7 L481.5,711.3 L483.0,713.8 L484.5,716.3 L486.0,718.8 L487.5,721.2 L489.0,723.6 L490.5,726.0 L492.0,728.3 L493.5,730.6 L495.0,732.9 L496.5,735.1 L498.0,737.3 L499.5,739.5 L501.0,741.6 L502.5,743.6 L504.0,745.7 L505.5,747.6 L507.0,749.5 L508.5,751.4 L510.0,753.2 L511.5,754.9 L513.0,756.6 L514.5,758.2 L516.0,759.8 L517.5,761.3 L519.0,762.8 L520.5,764.1 L522.0,765.5 L523.5,766.8 L525.0,768.0 L526.5,769.2 L528.0,770.3 L529.5,771.4 L531.0,772.4 L532.5,773.4 L534.0,774.3 L535.5,775.2 L537.0,776.1 L538.5,777.0 L540.0,777.8 L541.5,778.6 L543.0,779.4 L544.5,780.1 L546.0,780.8 L547.5,781.5 L549.0,782.2 L550.5,782.9 L552.0,783.5 L553.5,784.2 L555.0,784.8 L556.5,785.4 L558.0,786.0 L559.5,786.6 L561.0,787.2 L562.5,787.8 L564.0,788.4 L565.5,788.9 L567.0,789.5 L568.5,790.0 L570.0,790.5 L571.5,791.1 L573.0,791.6 L574.5,792.0 L576.0,792.5 L577.5,793.0 L579.0,793.4 L580.5,793.8 L582.0,794.2 L583.5,794.6 L585.0,795.0 L586.5,795.3 L588.0,795.7 L589.5,796.0 L591.0,796.3 L592.5,796.6 L594.0,796.9 L595.5,797.1 L597.0,797.4 L598.5,797.6 L600.0,797.8 L601.5,798.1 L603.0,798.3 L604.5,798.5 L606.0,798.6 L607.5,798.8 L609.0,799.0 L610.5,799.1 L612.0,799.3 L613.5,799.4 L615.0,799.6 L616.5,799.7 L618.0,799.8 L619.5,799.9 L621.0,800.0 L622.5,800.1 L624.0,800.2 L625.5,800.3 L627.0,800.4 L628.5,800.5 L630.0,800.5 L631.5,800.6 L633.0,800.7 L634.5,800.7"/>
<path d="M49.5,814.2 L51.0,814.1 L52.5,814.1 L54.0,814.0 L55.5,814.0 L57.0,813.9 L58.5,813.9 L60.0,813.8 L61.5,813.7 L63.0,813.6 L64.5,813.5 L66.0,813.4 L67.5,813.3 L69.0,813.2 L70.5,813.1 L72.0,813.0 L73.5,812.9 L75.0,812.7 L76.5,812.6 L78.0,812.4 L79.5,812.3 L81.0,812.1 L82.5,811.9 L84.0,811.8 L85.5,811.6 L87.0,811.4 L88.5,811.2 L90.0,811.0 L91.5,810.8 L93.0,810.6 L94.5,810.4 L96.0,810.2 L97.5,810.0 L99.0,809.8 L100.5,809.6 L102.0,809.4 L103.5,809.2 L105.0,809.0 L106.5,808.8 L108.0,808.6 L109.5,808.4 L111.0,808.2 L112.5,808.0 L114.0,807.7 L115.5,807.5 L117.0,807.3 L118.5,807.0 L120.0,806.8 L121.5,806.5 L123.0,806.2 L124.5,805.9 L126.0,805.6 L127.5,805.3 L129.0,804.9 L130.5,804.5 L132.0,804.1 L133.5,803.7 L135.0,803.3 L136.5,802.8 L138.0,802.3 L139.5,801.8 L141.0,801.2 L142.5,800.6 L144.0,799.9 L145.5,799.3 L147.0,798.6 L148.5,797.8 L150.0,797.0 L151.5,796.2 L153.0,795.3 L154.5,794.4 L156.0,793.5 L157.5,792.5 L159.0,791.5 L160.5,790.4 L162.0,789.3 L163.5,788.2 L165.0,787.0 L166.5,785.8 L168.0,784.5 L169.5,783.2 L171.0,781.9 L172.5,780.5 L174.0,779.1 L175.5,777.7 L177.0,776.2 L178.5,774.7 L180.0,773.1 L181.5,771.5 L183.0,769.9 L184.5,768.2 L186.0,766.5 L187.5,764.8 L189.0,763.0 L190.5,761.2 L192.0,759.3 L193.5,757.4 L195.0,755.4 L196.5,753.4 L198.0,751.4 L199.5,749.3 L201.0,747.2 L202.5,745.1 L204.0,742.9 L205.5,740.7 L207.0,738.4 L208.5,736.1 L210.0,733.8 L211.5,731.5 L213.0,729.1 L214.5,726.7 L216.0,724.3 L217.5,721.9 L219.0,719.4 L220.5,716.9 L222.0,714.4 L223.5,711.9 L225.0,709.3 L226.5,706.8 L228.0,704.2 L229.5,701.6 L231.0,699.0 L232.5,696.4 L234.0,693.7 L235.5,691.1 L237.0,688.4 L238.5,685.7 L240.0,683.0 L241.5,680.2 L243.0,677.5 L244.5,674.7 L246.0,671.9 L247.5,669.1 L249.0,666.3 L250.5,663.5 L252.0,660.7 L253.5,657.8 L255.0,655.0 L256.5,652.2 L258.0,649.3 L259.5,646.5 L261.0,643.6 L262.5,640.8 L264.0,638.0 L265.5,635.2 L267.0,632.4 L268.5,629.6 L270.0,626.9 L271.5,624.1 L273.0,621.5 L274.5,618.8 L276.0,616.2 L277.5,613.6 L279.0,611.0 L280.5,608.5 L282.0,606.1 L283.5,603.6 L285.0,601.3 L286.5,598.9 L288.0,596.7 L289.5,594.4 L291.0,592.3 L292.5,590.1 L294.0,588.1 L295.5,586.1 L297.0,584.1 L298.5,582.2 L300.0,580.4 L301.5,578.6 L303.0,576.9 L304.5,575.3 L306.0,573.7 L307.5,572.2 L309.0,570.8 L310.5,569.4 L312.0,568.1 L313.5,566.8 L315.0,565.6 L316.5,564.5 L318.0,563.5 L319.5,562.5 L321.0,561.6 L322.5,560.8 L324.0,560.0 L325.5,559.3 L327.0,558.7 L328.5,558.2 L330.0,557.7 L331.5,557.3 L333.0,556.9 L334.5,556.7 L336.0,556.5 L337.5,556.3 L339.0,556.2 L340.5,556.2 L342.0,556.2 L343.5,556.2 L345.0,556.3 L346.5,556.4 L348.0,556.5 L349.5,556.6 L351.0,556.8 L352.5,557.0 L354.0,557.3 L355.5,557.6 L357.0,557.9 L358.5,558.3 L360.0,558.8 L361.5,559.2 L363.0,559.8 L364.5,560.4 L366.0,561.0 L367.5,561.7 L369.0,562.4 L370.5,563.2 L372.0,564.1 L373.5,565.0 L375.0,566.0 L376.5,567.1 L378.0,568.2 L379.5,569.4 L381.0,570.7 L382.5,572.0 L384.0,573.4 L385.5,574.8 L387.0,576.3 L388.5,577.9 L390.0,579.6 L391.5,581.3 L393.0,583.0 L394.5,584.8 L396.0,586.7 L397.5,588.6 L399.0,590.5 L400.5,592.5 L402.0,594.5 L403.5,596.5 L405.0,598.6 L406.5,600.8 L408.0,602.9 L409.5,605.1 L411.0,607.3 L412.5,609.5 L414.0,611.8 L415.5,614.0 L417.0,616.3 L418.5,618.7 L420.0,621.0 L421.5,623.4 L423.0,625.8 L424.5,628.2 L426.0,630.7 L427.5,633.2 L429.0,635.7 L430.5,638.3 L432.0,640.8 L433.5,643.5 L435.0,646.1 L436.5,648.8 L438.0,651.4 L439.5,654.2 L441.0,656.9 L442.5,659.6 L444.0,662.4 L445.5,665.2 L447.0,668.0 L448.5,670.8 L450.0,673.7 L451.5,676.5 L453.0,679.3 L454.5,682.1 L456.0,685.0 L457.5,687.8 L459.0,690.6 L460.5,693.4 L462.0,696.1 L463.5,698.9 L465.0,701.6 L466.5,704.4 L468.0,707.0 L469.5,709.7 L471.0,712.3 L472.5,715.0 L474.0,717.5 L475.5,720.1 L477.0,722.6 L478.5,725.1 L480.0,727.6 L481.5,730.0 L483.0,732.4 L484.5,734.8 L486.0,737.1 L487.5,739.5 L489.0,741.7 L490.5,744.0 L492.0,746.2 L493.5,748.3 L495.0,750.5 L496.5,752.6 L498.0,754.6 L499.5,756.6 L501.0,758.6 L502.5,760.5 L504.0,762.4 L505.5,764.2 L507.0,766.0 L508.5,767.7 L510.0,769.4 L511.5,771.0 L513.0,772.6 L514.5,774.1 L516.0,775.6 L517.5,777.0 L519.0,778.3 L520.5,779.6 L522.0,780.8 L523.5,782.0 L525.0,783.1 L526.5,784.2 L528.0,785.2 L529.5,786.2 L531.0,787.1 L532.5,788.0 L534.0,788.9 L535.5,789.7 L537.0,790.4 L538.5,791.2 L540.0,791.9 L541.5,792.5 L543.0,793.2 L544.5,793.8 L546.0,794.4 L547.5,795.0 L549.0,795.5 L550.5,796.1 L552.0,796.6 L553.5,797.1 L555.0,797.7 L556.5,798.2 L558.0,798.7 L559.5,799.2 L561.0,799.7 L562.5,800.2 L564.0,800.7 L565.5,801.1 L567.0,801.6 L568.5,802.1 L570.0,802.6 L571.5,803.0 L573.0,803.5 L574.5,803.9 L576.0,804.3 L577.5,804.7 L579.0,805.1 L580.5,805.5 L582.0,805.9 L583.5,806.3 L585.0,806.6 L586.5,806.9 L588.0,807.2 L589.5,807.5 L591.0,807.8 L592.5,808.0 L594.0,808.2 L595.5,808.4 L597.0,808.7 L598.5,808.8 L600.0,809.0 L601.5,809.2 L603.0,809.3 L604.5,809.5 L606.0,809.6 L607.5,809.7 L609.0,809.8 L610.5,809.9 L612.0,810.0 L613.5,810.1 L615.0,810.2 L616.5,810.3 L618.0,810.4 L619.5,810.4 L621.0,810.5 L622.5,810.6 L624.0,810.6 L625.5,810.7 L627.0,810.7 L628.5,810.7 L630.0,810.8 L631.5,810.8 L633.0,810.8 L634.5,810.9"/>
<path d="M49.5,823.1 L51.0,823.1 L52.5,823.0 L54.0,823.0 L55.5,822.9 L57.0,822.8 L58.5,822.7 L60.0,822.6 L61.5,822.5 L63.0,822.4 L64.5,822.3 L66.0,822.2 L67.5,822.1 L69.0,821.9 L70.5,821.8 L72.0,821.6 L73.5,821.4 L75.0,821.2 L76.5,821.0 L78.0,820.8 L79.5,820.6 L81.0,820.4 L82.5,820.2 L84.0,819.9 L85.5,819.7 L87.0,819.4 L88.5,819.2 L90.0,818.9 L91.5,818.7 L93.0,818.4 L94.5,818.2 L96.0,817.9 L97.5,817.7 L99.0,817.4 L100.5,817.2 L102.0,817.0 L103.5,816.7 L105.0,816.5 L106.5,816.3 L108.0,816.1 L109.5,815.8 L111.0,815.6 L112.5,815.4 L114.0,815.2 L115.5,814.9 L117.0,814.7 L118.5,814.4 L120.0,814.2 L121.5,813.9 L123.0,813.6 L124.5,813.3 L126.0,813.0 L127.5,812.6 L129.0,812.3 L130.5,811.9 L132.0,811.5 L133.5,811.0 L135.0,810.5 L136.5,810.0 L138.0,809.5 L139.5,808.9 L141.0,808.3 L142.5,807.6 L144.0,806.9 L145.5,806.2 L147.0,805.5 L148.5,804.7 L150.0,803.8 L151.5,802.9 L153.0,802.0 L154.5,801.0 L156.0,800.0 L157.5,799.0 L159.0,797.9 L160.5,796.7 L162.0,795.6 L163.5,794.4 L165.0,793.1 L166.5,791.8 L168.0,790.5 L169.5,789.1 L171.0,787.7 L172.5,786.3 L174.0,784.8 L175.5,783.3 L177.0,781.8 L178.5,780.2 L180.0,778.6 L181.5,777.0 L183.0,775.3 L184.5,773.6 L186.0,771.8 L187.5,770.0 L189.0,768.2 L190.5,766.3 L192.0,764.4 L193.5,762.5 L195.0,760.5 L196.5,758.5 L198.0,756.4 L199.5,754.3 L201.0,752.2 L202.5,750.0 L204.0,747.8 L205.5,745.6 L207.0,743.3 L208.5,741.0 L210.0,738.7 L211.5,736.3 L213.0,733.9 L214.5,731.5 L216.0,729.1 L217.5,726.6 L219.0,724.1 L220.5,721.6 L222.0,719.1 L223.5,716.5 L225.0,713.9 L226.5,711.3 L228.0,708.7 L229.5,706.1 L231.0,703.5 L232.5,700.8 L234.0,698.1 L235.5,695.4 L237.0,692.7 L238.5,690.0 L240.0,687.2 L241.5,684.5 L243.0,681.7 L244.5,679.0 L246.0,676.2 L247.5,673.4 L249.0,670.6 L250.5,667.8 L252.0,665.0 L253.5,662.2 L255.0,659.3 L256.5,656.5 L258.0,653.7 L259.5,650.9 L261.0,648.2 L262.5,645.4 L264.0,642.6 L265.5,639.9 L267.0,637.2 L268.5,634.5 L270.0,631.8 L271.5,629.1 L273.0,626.5 L274.5,623.9 L276.0,621.4 L277.5,618.8 L279.0,616.4 L280.5,613.9 L282.0,611.5 L283.5,609.2 L285.0,606.9 L286.5,604.6 L288.0,602.4 L289.5,600.2 L291.0,598.1 L292.5,596.0 L294.0,594.0 L295.5,592.1 L297.0,590.2 L298.5,588.4 L300.0,586.6 L301.5,584.9 L303.0,583.3 L304.5,581.7 L306.0,580.2 L307.5,578.7 L309.0,577.4 L310.5,576.1 L312.0,574.8 L313.5,573.6 L315.0,572.5 L316.5,571.5 L318.0,570.6 L319.5,569.7 L321.0,568.8 L322.5,568.1 L324.0,567.4 L325.5,566.8 L327.0,566.2 L328.5,565.7 L330.0,565.3 L331.5,564.9 L333.0,564.6 L334.5,564.3 L336.0,564.1 L337.5,563.9 L339.0,563.8 L340.5,563.7 L342.0,563.6 L343.5,563.6 L345.0,563.6 L346.5,563.7 L348.0,563.8 L349.5,564.0 L351.0,564.2 L352.5,564.5 L354.0,564.8 L355.5,565.2 L357.0,565.7 L358.5,566.3 L360.0,566.9 L361.5,567.6 L363.0,568.3 L364.5,569.2 L366.0,570.1 L367.5,571.1 L369.0,572.2 L370.5,573.4 L372.0,574.7 L373.5,576.1 L375.0,577.5 L376.5,579.0 L378.0,580.6 L379.5,582.3 L381.0,584.0 L382.5,585.8 L384.0,587.7 L385.5,589.7 L387.0,591.7 L388.5,593.7 L390.0,595.9 L391.5,598.0 L393.0,600.2 L394.5,602.4 L396.0,604.7 L397.5,607.0 L399.0,609.3 L400.5,611.7 L402.0,614.0 L403.5,616.4 L405.0,618.7 L406.5,621.1 L408.0,623.4 L409.5,625.8 L411.0,628.2 L412.5,630.5 L414.0,632.9 L415.5,635.2 L417.0,637.6 L418.5,640.0 L420.0,642.3 L421.5,644.7 L423.0,647.1 L424.5,649.5 L426.0,651.9 L427.5,654.4 L429.0,656.8 L430.5,659.3 L432.0,661.8 L433.5,664.3 L435.0,666.8 L436.5,669.4 L438.0,672.0 L439.5,674.6 L441.0,677.2 L442.5,679.9 L444.0,682.6 L445.5,685.2 L447.0,687.9 L448.5,690.6 L450.0,693.4 L451.5,696.1 L453.0,698.8 L454.5,701.5 L456.0,704.2 L457.5,706.8 L459.0,709.5 L460.5,712.1 L462.0,714.8 L463.5,717.3 L465.0,719.9 L466.5,722.4 L468.0,725.0 L469.5,727.4 L471.0,729.9 L472.5,732.3 L474.0,734.7 L475.5,737.0 L477.0,739.3 L478.5,741.6 L480.0,743.9 L481.5,746.1 L483.0,748.3 L484.5,750.4 L486.0,752.5 L487.5,754.6 L489.0,756.7 L490.5,758.7 L492.0,760.7 L493.5,762.7 L495.0,764.6 L496.5,766.5 L498.0,768.4 L499.5,770.2 L501.0,772.0 L502.5,773.7 L504.0,775.4 L505.5,777.1 L507.0,778.7 L508.5,780.3 L510.0,781.8 L511.5,783.2 L513.0,784.7 L514.5,786.0 L516.0,787.3 L517.5,788.6 L519.0,789.8 L520.5,790.9 L522.0,792.0 L523.5,793.0 L525.0,794.0 L526.5,795.0 L528.0,795.9 L529.5,796.7 L531.0,797.6 L532.5,798.3 L534.0,799.1 L535.5,799.8 L537.0,800.5 L538.5,801.1 L540.0,801.8 L541.5,802.4 L543.0,802.9 L544.5,803.5 L546.0,804.1 L547.5,804.6 L549.0,805.1 L550.5,805.6 L552.0,806.1 L553.5,806.6 L555.0,807.1 L556.5,807.6 L558.0,808.1 L559.5,808.6 L561.0,809.1 L562.5,809.6 L564.0,810.1 L565.5,810.6 L567.0,811.1 L568.5,811.6 L570.0,812.1 L571.5,812.5 L573.0,813.0 L574.5,813.5 L576.0,813.9 L577.5,814.4 L579.0,814.8 L580.5,815.2 L582.0,815.6 L583.5,816.0 L585.0,816.3 L586.5,816.7 L588.0,817.0 L589.5,817.3 L591.0,817.6 L592.5,817.9 L594.0,818.2 L595.5,818.4 L597.0,818.7 L598.5,818.9 L600.0,819.1 L601.5,819.3 L603.0,819.5 L604.5,819.7 L606.0,819.9 L607.5,820.1 L609.0,820.2 L610.5,820.4 L612.0,820.5 L613.5,820.6 L615.0,820.8 L616.5,820.9 L618.0,821.0 L619.5,821.1 L621.0,821.2 L622.5,821.3 L624.0,821.4 L625.5,821.5 L627.0,821.6 L628.5,821.7 L630.0,821.7 L631.5,821.8 L633.0,821.9 L634.5,821.9"/>
<path d="M49.5,832.6 L51.0,832.5 L52.5,832.5 L54.0,832.4 L55.5,832.4 L57.0,832.3 L58.5,832.2 L60.0,832.1 L61.5,832.0 L63.0,831.9 L64.5,831.8 L66.0,831.6 L67.5,831.5 L69.0,831.4 L70.5,831.2 L72.0,831.1 L73.5,830.9 L75.0,830.7 L76.5,830.5 L78.0,830.3 L79.5,830.1 L81.0,829.9 L82.5,829.7 L84.0,829.4 L85.5,829.2 L87.0,829.0 L88.5,828.7 L90.0,828.5 L91.5,828.2 L93.0,828.0 L94.5,827.7 L96.0,827.4 L97.5,827.2 L99.0,826.9 L100.5,826.7 L102.0,826.4 L103.5,826.2 L105.0,825.9 L106.5,825.6 L108.0,825.4 L109.5,825.1 L111.0,824.8 L112.5,824.6 L114.0,824.3 L115.5,824.0 L117.0,823.7 L118.5,823.4 L120.0,823.1 L121.5,822.7 L123.0,822.4 L124.5,822.0 L126.0,821.6 L127.5,821.2 L129.0,820.7 L130.5,820.3 L132.0,819.8 L133.5,819.3 L135.0,818.7 L136.5,818.1 L138.0,817.5 L139.5,816.9 L141.0,816.2 L142.5,815.5 L144.0,814.7 L145.5,813.9 L147.0,813.1 L148.5,812.3 L150.0,811.3 L151.5,810.4 L153.0,809.4 L154.5,808.4 L156.0,807.3 L157.5,806.2 L159.0,805.1 L160.5,803.9 L162.0,802.6 L163.5,801.4 L165.0,800.1 L166.5,798.7 L168.0,797.4 L169.5,795.9 L171.0,794.5 L172.5,793.0 L174.0,791.5 L175.5,789.9 L177.0,788.3 L178.5,786.7 L180.0,785.0 L181.5,783.3 L183.0,781.6 L184.5,779.8 L186.0,778.0 L187.5,776.1 L189.0,774.2 L190.5,772.3 L192.0,770.3 L193.5,768.3 L195.0,766.3 L196.5,764.2 L198.0,762.1 L199.5,759.9 L201.0,757.7 L202.5,755.5 L204.0,753.3 L205.5,751.0 L207.0,748.6 L208.5,746.3 L210.0,743.9 L211.5,741.5 L213.0,739.1 L214.5,736.6 L216.0,734.1 L217.5,731.6 L219.0,729.1 L220.5,726.5 L222.0,724.0 L223.5,721.4 L225.0,718.8 L226.5,716.2 L228.0,713.6 L229.5,710.9 L231.0,708.3 L232.5,705.6 L234.0,702.9 L235.5,700.2 L237.0,697.5 L238.5,694.8 L240.0,692.1 L241.5,689.3 L243.0,686.6 L244.5,683.8 L246.0,681.1 L247.5,678.3 L249.0,675.6 L250.5,672.8 L252.0,670.1 L253.5,667.3 L255.0,664.6 L256.5,661.8 L258.0,659.1 L259.5,656.4 L261.0,653.7 L262.5,651.0 L264.0,648.4 L265.5,645.7 L267.0,643.1 L268.5,640.5 L270.0,638.0 L271.5,635.5 L273.0,633.0 L274.5,630.5 L276.0,628.1 L277.5,625.7 L279.0,623.4 L280.5,621.1 L282.0,618.9 L283.5,616.7 L285.0,614.5 L286.5,612.5 L288.0,610.4 L289.5,608.4 L291.0,606.5 L292.5,604.6 L294.0,602.8 L295.5,601.1 L297.0,599.4 L298.5,597.8 L300.0,596.2 L301.5,594.7 L303.0,593.3 L304.5,591.9 L306.0,590.6 L307.5,589.3 L309.0,588.1 L310.5,587.0 L312.0,586.0 L313.5,585.0 L315.0,584.0 L316.5,583.2 L318.0,582.3 L319.5,581.6 L321.0,580.9 L322.5,580.3 L324.0,579.7 L325.5,579.2 L327.0,578.8 L328.5,578.4 L330.0,578.1 L331.5,577.8 L333.0,577.6 L334.5,577.4 L336.0,577.3 L337.5,577.3 L339.0,577.2 L340.5,577.2 L342.0,577.3 L343.5,577.3 L345.0,577.5 L346.5,577.7 L348.0,577.9 L349.5,578.2 L351.0,578.6 L352.5,579.0 L354.0,579.5 L355.5,580.0 L357.0,580.6 L358.5,581.3 L360.0,582.0 L361.5,582.8 L363.0,583.6 L364.5,584.5 L366.0,585.5 L367.5,586.6 L369.0,587.7 L370.5,588.8 L372.0,590.1 L373.5,591.4 L375.0,592.8 L376.5,594.2 L378.0,595.7 L379.5,597.3 L381.0,599.0 L382.5,600.7 L384.0,602.4 L385.5,604.3 L387.0,606.2 L388.5,608.1 L390.0,610.1 L391.5,612.2 L393.0,614.3 L394.5,616.4 L396.0,618.6 L397.5,620.8 L399.0,623.0 L400.5,625.2 L402.0,627.5 L403.5,629.8 L405.0,632.1 L406.5,634.4 L408.0,636.7 L409.5,639.0 L411.0,641.4 L412.5,643.7 L414.0,646.0 L415.5,648.4 L417.0,650.7 L418.5,653.1 L420.0,655.5 L421.5,657.8 L423.0,660.2 L424.5,662.6 L426.0,665.0 L427.5,667.5 L429.0,669.9 L430.5,672.4 L432.0,674.9 L433.5,677.4 L435.0,680.0 L436.5,682.5 L438.0,685.1 L439.5,687.7 L441.0,690.4 L442.5,693.0 L444.0,695.7 L445.5,698.3 L447.0,701.0 L448.5,703.7 L450.0,706.4 L451.5,709.1 L453.0,711.8 L454.5,714.5 L456.0,717.2 L457.5,719.9 L459.0,722.5 L460.5,725.1 L462.0,727.7 L463.5,730.3 L465.0,732.9 L466.5,735.4 L468.0,737.9 L469.5,740.4 L471.0,742.8 L472.5,745.2 L474.0,747.6 L475.5,749.9 L477.0,752.2 L478.5,754.5 L480.0,756.8 L481.5,759.0 L483.0,761.2 L484.5,763.3 L486.0,765.4 L487.5,767.5 L489.0,769.6 L490.5,771.6 L492.0,773.6 L493.5,775.6 L495.0,777.5 L496.5,779.4 L498.0,781.3 L499.5,783.1 L501.0,784.9 L502.5,786.6 L504.0,788.3 L505.5,789.9 L507.0,791.5 L508.5,793.1 L510.0,794.5 L511.5,796.0 L513.0,797.3 L514.5,798.7 L516.0,799.9 L517.5,801.1 L519.0,802.2 L520.5,803.3 L522.0,804.3 L523.5,805.3 L525.0,806.2 L526.5,807.1 L528.0,807.9 L529.5,808.7 L531.0,809.4 L532.5,810.1 L534.0,810.7 L535.5,811.3 L537.0,811.9 L538.5,812.4 L540.0,812.9 L541.5,813.4 L543.0,813.9 L544.5,814.4 L546.0,814.8 L547.5,815.2 L549.0,815.7 L550.5,816.1 L552.0,816.5 L553.5,816.9 L555.0,817.3 L556.5,817.8 L558.0,818.2 L559.5,818.6 L561.0,819.1 L562.5,819.5 L564.0,820.0 L565.5,820.4 L567.0,820.9 L568.5,821.3 L570.0,821.8 L571.5,822.2 L573.0,822.7 L574.5,823.2 L576.0,823.6 L577.5,824.0 L579.0,824.4 L580.5,824.8 L582.0,825.2 L583.5,825.6 L585.0,826.0 L586.5,826.3 L588.0,826.6 L589.5,826.9 L591.0,827.2 L592.5,827.5 L594.0,827.7 L595.5,828.0 L597.0,828.2 L598.5,828.4 L600.0,828.6 L601.5,828.8 L603.0,828.9 L604.5,829.1 L606.0,829.2 L607.5,829.4 L609.0,829.5 L610.5,829.6 L612.0,829.7 L613.5,829.8 L615.0,829.9 L616.5,830.0 L618.0,830.1 L619.5,830.2 L621.0,830.3 L622.5,830.3 L624.0,830.4 L625.5,830.5 L627.0,830.5 L628.5,830.6 L630.0,830.6 L631.5,830.6 L633.0,830.7 L634.5,830.7"/>
<path d="M49.5,844.0 L51.0,843.9 L52.5,843.9 L54.0,843.8 L55.5,843.7 L57.0,843.6 L58.5,843.5 L60.0,843.4 L61.5,843.2 L63.0,843.1 L64.5,842.9 L66.0,842.8 L67.5,842.6 L69.0,842.5 L70.5,842.3 L72.0,842.1 L73.5,841.9 L75.0,841.7 L76.5,841.5 L78.0,841.2 L79.5,841.0 L81.0,840.8 L82.5,840.5 L84.0,840.2 L85.5,840.0 L87.0,839.7 L88.5,839.4 L90.0,839.2 L91.5,838.9 L93.0,838.6 L94.5,838.3 L96.0,838.0 L97.5,837.7 L99.0,837.4 L100.5,837.1 L102.0,836.8 L103.5,836.5 L105.0,836.2 L106.5,835.9 L108.0,835.6 L109.5,835.2 L111.0,834.9 L112.5,834.6 L114.0,834.2 L115.5,833.9 L117.0,833.5 L118.5,833.1 L120.0,832.8 L121.5,832.3 L123.0,831.9 L124.5,831.5 L126.0,831.0 L127.5,830.5 L129.0,830.0 L130.5,829.5 L132.0,828.9 L133.5,828.3 L135.0,827.7 L136.5,827.1 L138.0,826.4 L139.5,825.7 L141.0,824.9 L142.5,824.1 L144.0,823.3 L145.5,822.5 L147.0,821.6 L148.5,820.6 L150.0,819.7 L151.5,818.7 L153.0,817.6 L154.5,816.5 L156.0,815.4 L157.5,814.2 L159.0,813.0 L160.5,811.8 L162.0,810.5 L163.5,809.2 L165.0,807.8 L166.5,806.4 L168.0,805.0 L169.5,803.5 L171.0,802.0 L172.5,800.4 L174.0,798.9 L175.5,797.3 L177.0,795.6 L178.5,793.9 L180.0,792.2 L181.5,790.4 L183.0,788.6 L184.5,786.8 L186.0,784.9 L187.5,783.0 L189.0,781.1 L190.5,779.1 L192.0,777.1 L193.5,775.0 L195.0,772.9 L196.5,770.8 L198.0,768.7 L199.5,766.5 L201.0,764.2 L202.5,762.0 L204.0,759.7 L205.5,757.3 L207.0,755.0 L208.5,752.6 L210.0,750.2 L211.5,747.7 L213.0,745.3 L214.5,742.8 L216.0,740.3 L217.5,737.7 L219.0,735.2 L220.5,732.6 L222.0,730.0 L223.5,727.4 L225.0,724.8 L226.5,722.2 L228.0,719.5 L229.5,716.9 L231.0,714.2 L232.5,711.5 L234.0,708.9 L235.5,706.2 L237.0,703.4 L238.5,700.7 L240.0,698.0 L241.5,695.3 L243.0,692.5 L244.5,689.8 L246.0,687.0 L247.5,684.3 L249.0,681.5 L250.5,678.7 L252.0,676.0 L253.5,673.2 L255.0,670.5 L256.5,667.7 L258.0,665.0 L259.5,662.3 L261.0,659.6 L262.5,656.9 L264.0,654.2 L265.5,651.6 L267.0,649.0 L268.5,646.4 L270.0,643.8 L271.5,641.3 L273.0,638.8 L274.5,636.4 L276.0,634.0 L277.5,631.6 L279.0,629.3 L280.5,627.1 L282.0,624.8 L283.5,622.7 L285.0,620.6 L286.5,618.5 L288.0,616.5 L289.5,614.6 L291.0,612.7 L292.5,610.9 L294.0,609.1 L295.5,607.4 L297.0,605.8 L298.5,604.2 L300.0,602.8 L301.5,601.3 L303.0,600.0 L304.5,598.7 L306.0,597.5 L307.5,596.4 L309.0,595.3 L310.5,594.3 L312.0,593.4 L313.5,592.6 L315.0,591.8 L316.5,591.1 L318.0,590.5 L319.5,590.0 L321.0,589.5 L322.5,589.1 L324.0,588.9 L325.5,588.6 L327.0,588.5 L328.5,588.4 L330.0,588.4 L331.5,588.4 L333.0,588.4 L334.5,588.5 L336.0,588.5 L337.5,588.6 L339.0,588.8 L340.5,588.9 L342.0,589.2 L343.5,589.4 L345.0,589.7 L346.5,590.0 L348.0,590.4 L349.5,590.8 L351.0,591.3 L352.5,591.8 L354.0,592.4 L355.5,593.0 L357.0,593.7 L358.5,594.4 L360.0,595.1 L361.5,596.0 L363.0,596.8 L364.5,597.8 L366.0,598.8 L367.5,599.8 L369.0,600.9 L370.5,602.1 L372.0,603.3 L373.5,604.6 L375.0,606.0 L376.5,607.4 L378.0,608.8 L379.5,610.4 L381.0,612.0 L382.5,613.6 L384.0,615.3 L385.5,617.1 L387.0,618.9 L388.5,620.8 L390.0,622.7 L391.5,624.6 L393.0,626.6 L394.5,628.6 L396.0,630.7 L397.5,632.7 L399.0,634.8 L400.5,637.0 L402.0,639.1 L403.5,641.3 L405.0,643.4 L406.5,645.6 L408.0,647.8 L409.5,649.9 L411.0,652.1 L412.5,654.3 L414.0,656.5 L415.5,658.7 L417.0,660.9 L418.5,663.1 L420.0,665.3 L421.5,667.5 L423.0,669.8 L424.5,672.0 L426.0,674.3 L427.5,676.6 L429.0,678.9 L430.5,681.3 L432.0,683.7 L433.5,686.1 L435.0,688.5 L436.5,690.9 L438.0,693.4 L439.5,695.9 L441.0,698.5 L442.5,701.0 L444.0,703.6 L445.5,706.2 L447.0,708.8 L448.5,711.5 L450.0,714.1 L451.5,716.7 L453.0,719.4 L454.5,722.0 L456.0,724.7 L457.5,727.3 L459.0,729.9 L460.5,732.5 L462.0,735.1 L463.5,737.7 L465.0,740.2 L466.5,742.7 L468.0,745.2 L469.5,747.7 L471.0,750.1 L472.5,752.5 L474.0,754.9 L475.5,757.3 L477.0,759.6 L478.5,761.9 L480.0,764.2 L481.5,766.4 L483.0,768.7 L484.5,770.9 L486.0,773.0 L487.5,775.2 L489.0,777.3 L490.5,779.4 L492.0,781.5 L493.5,783.5 L495.0,785.5 L496.5,787.5 L498.0,789.4 L499.5,791.3 L501.0,793.2 L502.5,795.0 L504.0,796.8 L505.5,798.5 L507.0,800.2 L508.5,801.8 L510.0,803.3 L511.5,804.8 L513.0,806.2 L514.5,807.6 L516.0,808.9 L517.5,810.2 L519.0,811.3 L520.5,812.5 L522.0,813.5 L523.5,814.5 L525.0,815.4 L526.5,816.3 L528.0,817.1 L529.5,817.9 L531.0,818.6 L532.5,819.3 L534.0,819.9 L535.5,820.5 L537.0,821.0 L538.5,821.6 L540.0,822.1 L541.5,822.5 L543.0,823.0 L544.5,823.4 L546.0,823.9 L547.5,824.3 L549.0,824.7 L550.5,825.1 L552.0,825.5 L553.5,826.0 L555.0,826.4 L556.5,826.9 L558.0,827.3 L559.5,827.8 L561.0,828.3 L562.5,828.7 L564.0,829.3 L565.5,829.8 L567.0,830.3 L568.5,830.8 L570.0,831.3 L571.5,831.9 L573.0,832.4 L574.5,832.9 L576.0,833.5 L577.5,834.0 L579.0,834.5 L580.5,834.9 L582.0,835.4 L583.5,835.9 L585.0,836.3 L586.5,836.7 L588.0,837.1 L589.5,837.4 L591.0,837.8 L592.5,838.1 L594.0,838.4 L595.5,838.7 L597.0,838.9 L598.5,839.2 L600.0,839.4 L601.5,839.6 L603.0,839.8 L604.5,840.0 L606.0,840.2 L607.5,840.3 L609.0,840.5 L610.5,840.6 L612.0,840.7 L613.5,840.9 L615.0,841.0 L616.5,841.1 L618.0,841.2 L619.5,841.3 L621.0,841.4 L622.5,841.4 L624.0,841.5 L625.5,841.6 L627.0,841.7 L628.5,841.7 L630.0,841.8 L631.5,841.8 L633.0,841.9 L634.5,841.9"/>
<path d="M49.5,852.6 L51.0,852.5 L52.5,852.5 L54.0,852.4 L55.5,852.3 L57.0,852.2 L58.5,852.1 L60.0,851.9 L61.5,851.8 L63.0,851.7 L64.5,851.5 L66.0,851.4 L67.5,851.2 L69.0,851.0 L70.5,850.8 L72.0,850.6 L73.5,850.4 L75.0,850.2 L76.5,850.0 L78.0,849.8 L79.5,849.5 L81.0,849.3 L82.5,849.0 L84.0,848.8 L85.5,848.5 L87.0,848.2 L88.5,848.0 L90.0,847.7 L91.5,847.4 L93.0,847.1 L94.5,846.8 L96.0,846.5 L97.5,846.2 L99.0,845.9 L100.5,845.6 L102.0,845.3 L103.5,845.0 L105.0,844.6 L106.5,844.3 L108.0,844.0 L109.5,843.6 L111.0,843.3 L112.5,842.9 L114.0,842.6 L115.5,842.2 L117.0,841.8 L118.5,841.4 L120.0,841.0 L121.5,840.6 L123.0,840.1 L124.5,839.7 L126.0,839.2 L127.5,838.7 L129.0,838.2 L130.5,837.6 L132.0,837.1 L133.5,836.5 L135.0,835.8 L136.5,835.2 L138.0,834.5 L139.5,833.8 L141.0,833.0 L142.5,832.3 L144.0,831.4 L145.5,830.6 L147.0,829.7 L148.5,828.7 L150.0,827.8 L151.5,826.8 L153.0,825.7 L154.5,824.6 L156.0,823.5 L157.5,822.3 L159.0,821.1 L160.5,819.8 L162.0,818.5 L163.5,817.2 L165.0,815.8 L166.5,814.4 L168.0,813.0 L169.5,811.5 L171.0,810.0 L172.5,808.4 L174.0,806.9 L175.5,805.2 L177.0,803.6 L178.5,801.9 L180.0,800.2 L181.5,798.4 L183.0,796.6 L184.5,794.8 L186.0,792.9 L187.5,791.0 L189.0,789.1 L190.5,787.1 L192.0,785.1 L193.5,783.1 L195.0,781.0 L196.5,778.9 L198.0,776.7 L199.5,774.5 L201.0,772.3 L202.5,770.0 L204.0,767.7 L205.5,765.4 L207.0,763.1 L208.5,760.7 L210.0,758.3 L211.5,755.9 L213.0,753.5 L214.5,751.1 L216.0,748.7 L217.5,746.2 L219.0,743.7 L220.5,741.3 L222.0,738.8 L223.5,736.3 L225.0,733.8 L226.5,731.3 L228.0,728.9 L229.5,726.4 L231.0,723.8 L232.5,721.3 L234.0,718.8 L235.5,716.3 L237.0,713.7 L238.5,711.2 L240.0,708.6 L241.5,706.0 L243.0,703.4 L244.5,700.8 L246.0,698.2 L247.5,695.6 L249.0,692.9 L250.5,690.2 L252.0,687.6 L253.5,684.9 L255.0,682.2 L256.5,679.5 L258.0,676.8 L259.5,674.1 L261.0,671.5 L262.5,668.8 L264.0,666.1 L265.5,663.5 L267.0,660.9 L268.5,658.3 L270.0,655.7 L271.5,653.2 L273.0,650.7 L274.5,648.2 L276.0,645.8 L277.5,643.4 L279.0,641.0 L280.5,638.8 L282.0,636.5 L283.5,634.3 L285.0,632.2 L286.5,630.1 L288.0,628.0 L289.5,626.0 L291.0,624.1 L292.5,622.2 L294.0,620.4 L295.5,618.7 L297.0,617.0 L298.5,615.4 L300.0,613.8 L301.5,612.3 L303.0,610.9 L304.5,609.6 L306.0,608.3 L307.5,607.1 L309.0,605.9 L310.5,604.8 L312.0,603.8 L313.5,602.9 L315.0,602.0 L316.5,601.2 L318.0,600.5 L319.5,599.9 L321.0,599.3 L322.5,598.8 L324.0,598.4 L325.5,598.1 L327.0,597.9 L328.5,597.7 L330.0,597.6 L331.5,597.6 L333.0,597.6 L334.5,597.7 L336.0,597.9 L337.5,598.1 L339.0,598.3 L340.5,598.6 L342.0,599.0 L343.5,599.4 L345.0,599.9 L346.5,600.5 L348.0,601.1 L349.5,601.8 L351.0,602.6 L352.5,603.4 L354.0,604.3 L355.5,605.2 L357.0,606.2 L358.5,607.3 L360.0,608.4 L361.5,609.6 L363.0,610.9 L364.5,612.2 L366.0,613.5 L367.5,615.0 L369.0,616.4 L370.5,617.9 L372.0,619.5 L373.5,621.1 L375.0,622.8 L376.5,624.5 L378.0,626.2 L379.5,628.0 L381.0,629.8 L382.5,631.7 L384.0,633.6 L385.5,635.5 L387.0,637.5 L388.5,639.5 L390.0,641.5 L391.5,643.5 L393.0,645.6 L394.5,647.7 L396.0,649.9 L397.5,652.0 L399.0,654.2 L400.5,656.4 L402.0,658.6 L403.5,660.9 L405.0,663.2 L406.5,665.5 L408.0,667.8 L409.5,670.1 L411.0,672.4 L412.5,674.8 L414.0,677.2 L415.5,679.6 L417.0,682.0 L418.5,684.4 L420.0,686.8 L421.5,689.2 L423.0,691.7 L424.5,694.1 L426.0,696.6 L427.5,699.0 L429.0,701.5 L430.5,704.0 L432.0,706.5 L433.5,709.0 L435.0,711.5 L436.5,714.0 L438.0,716.5 L439.5,719.0 L441.0,721.5 L442.5,724.0 L444.0,726.5 L445.5,729.0 L447.0,731.5 L448.5,734.0 L450.0,736.5 L451.5,739.0 L453.0,741.4 L454.5,743.9 L456.0,746.3 L457.5,748.7 L459.0,751.1 L460.5,753.5 L462.0,755.9 L463.5,758.2 L465.0,760.5 L466.5,762.7 L468.0,765.0 L469.5,767.2 L471.0,769.4 L472.5,771.5 L474.0,773.7 L475.5,775.7 L477.0,777.8 L478.5,779.8 L480.0,781.8 L481.5,783.8 L483.0,785.8 L484.5,787.7 L486.0,789.6 L487.5,791.4 L489.0,793.2 L490.5,795.0 L492.0,796.8 L493.5,798.5 L495.0,800.2 L496.5,801.9 L498.0,803.6 L499.5,805.2 L501.0,806.7 L502.5,808.3 L504.0,809.8 L505.5,811.2 L507.0,812.7 L508.5,814.0 L510.0,815.4 L511.5,816.7 L513.0,818.0 L514.5,819.2 L516.0,820.4 L517.5,821.5 L519.0,822.6 L520.5,823.7 L522.0,824.7 L523.5,825.7 L525.0,826.6 L526.5,827.6 L528.0,828.4 L529.5,829.3 L531.0,830.1 L532.5,830.9 L534.0,831.6 L535.5,832.3 L537.0,833.0 L538.5,833.7 L540.0,834.4 L541.5,835.0 L543.0,835.6 L544.5,836.2 L546.0,836.8 L547.5,837.4 L549.0,837.9 L550.5,838.4 L552.0,839.0 L553.5,839.5 L555.0,840.0 L556.5,840.5 L558.0,840.9 L559.5,841.4 L561.0,841.9 L562.5,842.3 L564.0,842.8 L565.5,843.2 L567.0,843.6 L568.5,844.1 L570.0,844.5 L571.5,844.9 L573.0,845.3 L574.5,845.6 L576.0,846.0 L577.5,846.4 L579.0,846.7 L580.5,847.1 L582.0,847.4 L583.5,847.7 L585.0,848.0 L586.5,848.3 L588.0,848.6 L589.5,848.8 L591.0,849.1 L592.5,849.3 L594.0,849.5 L595.5,849.8 L597.0,850.0 L598.5,850.2 L600.0,850.4 L601.5,850.5 L603.0,850.7 L604.5,850.9 L606.0,851.1 L607.5,851.2 L609.0,851.4 L610.5,851.5 L612.0,851.7 L613.5,851.8 L615.0,851.9 L616.5,852.0 L618.0,852.2 L619.5,852.3 L621.0,852.4 L622.5,852.5 L624.0,852.6 L625.5,852.7 L627.0,852.8 L628.5,852.8 L630.0,852.9 L631.5,853.0 L633.0,853.0 L634.5,853.1"/>
<path d="M49.5,863.3 L51.0,863.2 L52.5,863.1 L54.0,863.0 L55.5,862.9 L57.0,862.8 L58.5,862.7 L60.0,862.5 L61.5,862.4 L63.0,862.2 L64.5,862.0 L66.0,861.8 L67.5,861.7 L69.0,861.5 L70.5,861.3 L72.0,861.0 L73.5,860.8 L75.0,860.6 L76.5,860.4 L78.0,860.1 L79.5,859.9 L81.0,859.6 L82.5,859.4 L84.0,859.1 L85.5,858.8 L87.0,858.5 L88.5,858.2 L90.0,858.0 L91.5,857.7 L93.0,857.4 L94.5,857.0 L96.0,856.7 L97.5,856.4 L99.0,856.1 L100.5,855.7 L102.0,855.4 L103.5,855.1 L105.0,854.7 L106.5,854.3 L108.0,854.0 L109.5,853.6 L111.0,853.2 L112.5,852.8 L114.0,852.4 L115.5,852.0 L117.0,851.6 L118.5,851.1 L120.0,850.7 L121.5,850.2 L123.0,849.7 L124.5,849.2 L126.0,848.7 L127.5,848.2 L129.0,847.6 L130.5,847.0 L132.0,846.4 L133.5,845.8 L135.0,845.1 L136.5,844.4 L138.0,843.7 L139.5,843.0 L141.0,842.2 L142.5,841.4 L144.0,840.5 L145.5,839.6 L147.0,838.7 L148.5,837.8 L150.0,836.8 L151.5,835.7 L153.0,834.6 L154.5,833.5 L156.0,832.3 L157.5,831.1 L159.0,829.9 L160.5,828.6 L162.0,827.3 L163.5,825.9 L165.0,824.6 L166.5,823.1 L168.0,821.7 L169.5,820.2 L171.0,818.6 L172.5,817.0 L174.0,815.4 L175.5,813.8 L177.0,812.1 L178.5,810.4 L180.0,808.6 L181.5,806.8 L183.0,805.0 L184.5,803.2 L186.0,801.3 L187.5,799.3 L189.0,797.3 L190.5,795.3 L192.0,793.3 L193.5,791.2 L195.0,789.0 L196.5,786.9 L198.0,784.7 L199.5,782.4 L201.0,780.1 L202.5,777.8 L204.0,775.5 L205.5,773.1 L207.0,770.7 L208.5,768.3 L210.0,765.9 L211.5,763.4 L213.0,761.0 L214.5,758.5 L216.0,756.0 L217.5,753.5 L219.0,751.0 L220.5,748.6 L222.0,746.1 L223.5,743.5 L225.0,741.0 L226.5,738.5 L228.0,736.0 L229.5,733.5 L231.0,731.0 L232.5,728.5 L234.0,725.9 L235.5,723.4 L237.0,720.8 L238.5,718.2 L240.0,715.6 L241.5,713.0 L243.0,710.4 L244.5,707.7 L246.0,705.1 L247.5,702.4 L249.0,699.7 L250.5,697.0 L252.0,694.2 L253.5,691.5 L255.0,688.7 L256.5,685.9 L258.0,683.2 L259.5,680.4 L261.0,677.6 L262.5,674.8 L264.0,672.1 L265.5,669.3 L267.0,666.6 L268.5,663.9 L270.0,661.3 L271.5,658.6 L273.0,656.0 L274.5,653.5 L276.0,650.9 L277.5,648.5 L279.0,646.0 L280.5,643.7 L282.0,641.3 L283.5,639.1 L285.0,636.9 L286.5,634.7 L288.0,632.6 L289.5,630.6 L291.0,628.7 L292.5,626.8 L294.0,625.0 L295.5,623.2 L297.0,621.6 L298.5,620.0 L300.0,618.5 L301.5,617.0 L303.0,615.7 L304.5,614.4 L306.0,613.2 L307.5,612.1 L309.0,611.1 L310.5,610.2 L312.0,609.4 L313.5,608.6 L315.0,608.0 L316.5,607.4 L318.0,606.9 L319.5,606.6 L321.0,606.3 L322.5,606.1 L324.0,606.1 L325.5,606.1 L327.0,606.1 L328.5,606.2 L330.0,606.3 L331.5,606.4 L333.0,606.6 L334.5,606.8 L336.0,607.1 L337.5,607.4 L339.0,607.8 L340.5,608.2 L342.0,608.7 L343.5,609.2 L345.0,609.8 L346.5,610.5 L348.0,611.2 L349.5,612.0 L351.0,612.9 L352.5,613.9 L354.0,614.9 L355.5,616.0 L357.0,617.1 L358.5,618.4 L360.0,619.7 L361.5,621.0 L363.0,622.5 L364.5,624.0 L366.0,625.5 L367.5,627.1 L369.0,628.8 L370.5,630.6 L372.0,632.4 L373.5,634.2 L375.0,636.1 L376.5,638.1 L378.0,640.1 L379.5,642.1 L381.0,644.2 L382.5,646.4 L384.0,648.5 L385.5,650.7 L387.0,652.9 L388.5,655.2 L390.0,657.4 L391.5,659.7 L393.0,662.0 L394.5,664.3 L396.0,666.5 L397.5,668.8 L399.0,671.1 L400.5,673.4 L402.0,675.6 L403.5,677.8 L405.0,680.0 L406.5,682.2 L408.0,684.3 L409.5,686.4 L411.0,688.5 L412.5,690.6 L414.0,692.6 L415.5,694.6 L417.0,696.6 L418.5,698.6 L420.0,700.5 L421.5,702.5 L423.0,704.5 L424.5,706.4 L426.0,708.4 L427.5,710.4 L429.0,712.4 L430.5,714.4 L432.0,716.5 L433.5,718.6 L435.0,720.7 L436.5,722.9 L438.0,725.1 L439.5,727.4 L441.0,729.7 L442.5,732.0 L444.0,734.4 L445.5,736.8 L447.0,739.2 L448.5,741.6 L450.0,744.1 L451.5,746.5 L453.0,749.0 L454.5,751.5 L456.0,754.0 L457.5,756.4 L459.0,758.9 L460.5,761.3 L462.0,763.7 L463.5,766.1 L465.0,768.5 L466.5,770.8 L468.0,773.1 L469.5,775.4 L471.0,777.6 L472.5,779.8 L474.0,781.9 L475.5,784.0 L477.0,786.1 L478.5,788.2 L480.0,790.2 L481.5,792.2 L483.0,794.1 L484.5,796.1 L486.0,798.0 L487.5,799.9 L489.0,801.7 L490.5,803.6 L492.0,805.4 L493.5,807.1 L495.0,808.9 L496.5,810.6 L498.0,812.3 L499.5,814.0 L501.0,815.6 L502.5,817.2 L504.0,818.8 L505.5,820.3 L507.0,821.7 L508.5,823.1 L510.0,824.5 L511.5,825.8 L513.0,827.1 L514.5,828.3 L516.0,829.5 L517.5,830.6 L519.0,831.7 L520.5,832.7 L522.0,833.6 L523.5,834.6 L525.0,835.4 L526.5,836.2 L528.0,837.0 L529.5,837.8 L531.0,838.5 L532.5,839.2 L534.0,839.8 L535.5,840.4 L537.0,841.0 L538.5,841.6 L540.0,842.2 L541.5,842.7 L543.0,843.3 L544.5,843.8 L546.0,844.3 L547.5,844.8 L549.0,845.3 L550.5,845.8 L552.0,846.3 L553.5,846.8 L555.0,847.3 L556.5,847.8 L558.0,848.3 L559.5,848.7 L561.0,849.2 L562.5,849.7 L564.0,850.2 L565.5,850.7 L567.0,851.2 L568.5,851.6 L570.0,852.1 L571.5,852.6 L573.0,853.0 L574.5,853.5 L576.0,853.9 L577.5,854.3 L579.0,854.7 L580.5,855.1 L582.0,855.5 L583.5,855.9 L585.0,856.3 L586.5,856.6 L588.0,856.9 L589.5,857.3 L591.0,857.6 L592.5,857.9 L594.0,858.2 L595.5,858.4 L597.0,858.7 L598.5,859.0 L600.0,859.2 L601.5,859.4 L603.0,859.7 L604.5,859.9 L606.0,860.1 L607.5,860.3 L609.0,860.5 L610.5,860.7 L612.0,860.9 L613.5,861.0 L615.0,861.2 L616.5,861.4 L618.0,861.6 L619.5,861.7 L621.0,861.9 L622.5,862.0 L624.0,862.1 L625.5,862.3 L627.0,862.4 L628.5,862.5 L630.0,862.6 L631.5,862.7 L633.0,862.8 L634.5,862.8"/>
<path d="M49.5,873.9 L51.0,873.8 L52.5,873.8 L54.0,873.7 L55.5,873.5 L57.0,873.4 L58.5,873.3 L60.0,873.2 L61.5,873.0 L63.0,872.9 L64.5,872.7 L66.0,872.5 L67.5,872.3 L69.0,872.1 L70.5,871.9 L72.0,871.7 L73.5,871.5 L75.0,871.3 L76.5,871.0 L78.0,870.8 L79.5,870.6 L81.0,870.3 L82.5,870.0 L84.0,869.8 L85.5,869.5 L87.0,869.2 L88.5,868.9 L90.0,868.7 L91.5,868.4 L93.0,868.1 L94.5,867.7 L96.0,867.4 L97.5,867.1 L99.0,866.8 L100.5,866.4 L102.0,866.1 L103.5,865.7 L105.0,865.4 L106.5,865.0 L108.0,864.6 L109.5,864.3 L111.0,863.9 L112.5,863.5 L114.0,863.1 L115.5,862.6 L117.0,862.2 L118.5,861.8 L120.0,861.3 L121.5,860.8 L123.0,860.4 L124.5,859.8 L126.0,859.3 L127.5,858.8 L129.0,858.2 L130.5,857.6 L132.0,857.0 L133.5,856.4 L135.0,855.7 L136.5,855.0 L138.0,854.3 L139.5,853.5 L141.0,852.7 L142.5,851.9 L144.0,851.0 L145.5,850.1 L147.0,849.1 L148.5,848.1 L150.0,847.1 L151.5,846.0 L153.0,844.9 L154.5,843.7 L156.0,842.5 L157.5,841.3 L159.0,840.0 L160.5,838.6 L162.0,837.3 L163.5,835.8 L165.0,834.4 L166.5,832.9 L168.0,831.3 L169.5,829.8 L171.0,828.1 L172.5,826.5 L174.0,824.8 L175.5,823.1 L177.0,821.3 L178.5,819.5 L180.0,817.7 L181.5,815.8 L183.0,813.9 L184.5,811.9 L186.0,809.9 L187.5,807.9 L189.0,805.8 L190.5,803.7 L192.0,801.5 L193.5,799.3 L195.0,797.1 L196.5,794.8 L198.0,792.5 L199.5,790.1 L201.0,787.7 L202.5,785.3 L204.0,782.9 L205.5,780.4 L207.0,777.9 L208.5,775.4 L210.0,772.8 L211.5,770.3 L213.0,767.7 L214.5,765.1 L216.0,762.6 L217.5,760.0 L219.0,757.4 L220.5,754.8 L222.0,752.3 L223.5,749.7 L225.0,747.2 L226.5,744.6 L228.0,742.0 L229.5,739.5 L231.0,736.9 L232.5,734.4 L234.0,731.8 L235.5,729.2 L237.0,726.6 L238.5,724.0 L240.0,721.4 L241.5,718.8 L243.0,716.2 L244.5,713.5 L246.0,710.8 L247.5,708.1 L249.0,705.4 L250.5,702.6 L252.0,699.9 L253.5,697.1 L255.0,694.3 L256.5,691.6 L258.0,688.8 L259.5,686.0 L261.0,683.2 L262.5,680.4 L264.0,677.7 L265.5,675.0 L267.0,672.2 L268.5,669.6 L270.0,666.9 L271.5,664.3 L273.0,661.8 L274.5,659.3 L276.0,656.8 L277.5,654.4 L279.0,652.1 L280.5,649.8 L282.0,647.6 L283.5,645.4 L285.0,643.4 L286.5,641.3 L288.0,639.4 L289.5,637.5 L291.0,635.8 L292.5,634.0 L294.0,632.4 L295.5,630.9 L297.0,629.4 L298.5,628.0 L300.0,626.7 L301.5,625.5 L303.0,624.4 L304.5,623.4 L306.0,622.4 L307.5,621.6 L309.0,620.8 L310.5,620.2 L312.0,619.7 L313.5,619.3 L315.0,619.0 L316.5,618.8 L318.0,618.7 L319.5,618.7 L321.0,618.7 L322.5,618.7 L324.0,618.8 L325.5,618.9 L327.0,619.1 L328.5,619.3 L330.0,619.6 L331.5,619.9 L333.0,620.3 L334.5,620.8 L336.0,621.3 L337.5,621.8 L339.0,622.5 L340.5,623.2 L342.0,623.9 L343.5,624.8 L345.0,625.6 L346.5,626.6 L348.0,627.6 L349.5,628.7 L351.0,629.8 L352.5,630.9 L354.0,632.2 L355.5,633.4 L357.0,634.8 L358.5,636.1 L360.0,637.5 L361.5,639.0 L363.0,640.5 L364.5,642.1 L366.0,643.7 L367.5,645.3 L369.0,647.0 L370.5,648.7 L372.0,650.5 L373.5,652.2 L375.0,654.1 L376.5,655.9 L378.0,657.8 L379.5,659.7 L381.0,661.6 L382.5,663.6 L384.0,665.6 L385.5,667.6 L387.0,669.6 L388.5,671.6 L390.0,673.7 L391.5,675.7 L393.0,677.8 L394.5,679.8 L396.0,681.9 L397.5,683.9 L399.0,686.0 L400.5,688.0 L402.0,690.1 L403.5,692.1 L405.0,694.1 L406.5,696.1 L408.0,698.1 L409.5,700.0 L411.0,702.0 L412.5,703.9 L414.0,705.9 L415.5,707.8 L417.0,709.7 L418.5,711.6 L420.0,713.5 L421.5,715.4 L423.0,717.3 L424.5,719.2 L426.0,721.2 L427.5,723.1 L429.0,725.1 L430.5,727.1 L432.0,729.1 L433.5,731.2 L435.0,733.3 L436.5,735.4 L438.0,737.5 L439.5,739.7 L441.0,741.9 L442.5,744.2 L444.0,746.5 L445.5,748.8 L447.0,751.1 L448.5,753.5 L450.0,755.8 L451.5,758.2 L453.0,760.6 L454.5,763.0 L456.0,765.4 L457.5,767.8 L459.0,770.1 L460.5,772.5 L462.0,774.8 L463.5,777.1 L465.0,779.3 L466.5,781.6 L468.0,783.8 L469.5,786.0 L471.0,788.1 L472.5,790.2 L474.0,792.3 L475.5,794.3 L477.0,796.3 L478.5,798.3 L480.0,800.3 L481.5,802.2 L483.0,804.1 L484.5,806.0 L486.0,807.8 L487.5,809.6 L489.0,811.4 L490.5,813.2 L492.0,814.9 L493.5,816.7 L495.0,818.4 L496.5,820.0 L498.0,821.7 L499.5,823.3 L501.0,824.8 L502.5,826.4 L504.0,827.9 L505.5,829.4 L507.0,830.8 L508.5,832.2 L510.0,833.6 L511.5,834.9 L513.0,836.1 L514.5,837.4 L516.0,838.5 L517.5,839.7 L519.0,840.8 L520.5,841.8 L522.0,842.8 L523.5,843.8 L525.0,844.7 L526.5,845.6 L528.0,846.5 L529.5,847.3 L531.0,848.1 L532.5,848.9 L534.0,849.6 L535.5,850.4 L537.0,851.1 L538.5,851.8 L540.0,852.4 L541.5,853.1 L543.0,853.7 L544.5,854.4 L546.0,855.0 L547.5,855.6 L549.0,856.2 L550.5,856.7 L552.0,857.3 L553.5,857.9 L555.0,858.4 L556.5,859.0 L558.0,859.5 L559.5,860.0 L561.0,860.6 L562.5,861.1 L564.0,861.6 L565.5,862.0 L567.0,862.5 L568.5,863.0 L570.0,863.4 L571.5,863.9 L573.0,864.3 L574.5,864.7 L576.0,865.1 L577.5,865.5 L579.0,865.9 L580.5,866.2 L582.0,866.6 L583.5,866.9 L585.0,867.3 L586.5,867.6 L588.0,867.9 L589.5,868.2 L591.0,868.5 L592.5,868.8 L594.0,869.1 L595.5,869.3 L597.0,869.6 L598.5,869.8 L600.0,870.1 L601.5,870.3 L603.0,870.6 L604.5,870.8 L606.0,871.0 L607.5,871.2 L609.0,871.4 L610.5,871.6 L612.0,871.9 L613.5,872.0 L615.0,872.2 L616.5,872.4 L618.0,872.6 L619.5,872.8 L621.0,872.9 L622.5,873.1 L624.0,873.3 L625.5,873.4 L627.0,873.5 L628.5,873.7 L630.0,873.8 L631.5,873.9 L633.0,874.0 L634.5,874.0"/>
<path d="M49.5,884.7 L51.0,884.6 L52.5,884.5 L54.0,884.4 L55.5,884.3 L57.0,884.1 L58.5,884.0 L60.0,883.8 L61.5,883.6 L63.0,883.4 L64.5,883.2 L66.0,883.0 L67.5,882.8 L69.0,882.6 L70.5,882.4 L72.0,882.1 L73.5,881.9 L75.0,881.6 L76.5,881.4 L78.0,881.1 L79.5,880.8 L81.0,880.5 L82.5,880.2 L84.0,879.9 L85.5,879.6 L87.0,879.3 L88.5,879.0 L90.0,878.7 L91.5,878.3 L93.0,878.0 L94.5,877.7 L96.0,877.3 L97.5,876.9 L99.0,876.6 L100.5,876.2 L102.0,875.8 L103.5,875.4 L105.0,875.0 L106.5,874.6 L108.0,874.1 L109.5,873.7 L111.0,873.3 L112.5,872.8 L114.0,872.3 L115.5,871.9 L117.0,871.4 L118.5,870.9 L120.0,870.4 L121.5,869.8 L123.0,869.3 L124.5,868.7 L126.0,868.2 L127.5,867.6 L129.0,866.9 L130.5,866.3 L132.0,865.6 L133.5,865.0 L135.0,864.2 L136.5,863.5 L138.0,862.7 L139.5,861.9 L141.0,861.0 L142.5,860.1 L144.0,859.2 L145.5,858.2 L147.0,857.2 L148.5,856.1 L150.0,855.0 L151.5,853.9 L153.0,852.6 L154.5,851.4 L156.0,850.1 L157.5,848.7 L159.0,847.3 L160.5,845.9 L162.0,844.4 L163.5,842.9 L165.0,841.3 L166.5,839.7 L168.0,838.1 L169.5,836.4 L171.0,834.7 L172.5,833.0 L174.0,831.2 L175.5,829.4 L177.0,827.6 L178.5,825.7 L180.0,823.8 L181.5,821.8 L183.0,819.9 L184.5,817.9 L186.0,815.8 L187.5,813.7 L189.0,811.6 L190.5,809.5 L192.0,807.3 L193.5,805.1 L195.0,802.8 L196.5,800.5 L198.0,798.2 L199.5,795.9 L201.0,793.5 L202.5,791.1 L204.0,788.6 L205.5,786.2 L207.0,783.7 L208.5,781.2 L210.0,778.6 L211.5,776.1 L213.0,773.5 L214.5,771.0 L216.0,768.4 L217.5,765.8 L219.0,763.2 L220.5,760.6 L222.0,758.0 L223.5,755.4 L225.0,752.8 L226.5,750.3 L228.0,747.7 L229.5,745.1 L231.0,742.5 L232.5,739.9 L234.0,737.4 L235.5,734.8 L237.0,732.2 L238.5,729.7 L240.0,727.2 L241.5,724.6 L243.0,722.1 L244.5,719.6 L246.0,717.1 L247.5,714.6 L249.0,712.2 L250.5,709.7 L252.0,707.3 L253.5,704.9 L255.0,702.5 L256.5,700.1 L258.0,697.8 L259.5,695.4 L261.0,693.1 L262.5,690.8 L264.0,688.5 L265.5,686.2 L267.0,684.0 L268.5,681.7 L270.0,679.5 L271.5,677.3 L273.0,675.1 L274.5,673.0 L276.0,670.8 L277.5,668.7 L279.0,666.6 L280.5,664.6 L282.0,662.5 L283.5,660.5 L285.0,658.5 L286.5,656.6 L288.0,654.7 L289.5,652.8 L291.0,651.0 L292.5,649.3 L294.0,647.6 L295.5,645.9 L297.0,644.3 L298.5,642.8 L300.0,641.4 L301.5,640.0 L303.0,638.7 L304.5,637.5 L306.0,636.4 L307.5,635.3 L309.0,634.4 L310.5,633.5 L312.0,632.8 L313.5,632.1 L315.0,631.6 L316.5,631.1 L318.0,630.8 L319.5,630.5 L321.0,630.4 L322.5,630.3 L324.0,630.4 L325.5,630.5 L327.0,630.7 L328.5,631.0 L330.0,631.3 L331.5,631.7 L333.0,632.1 L334.5,632.7 L336.0,633.2 L337.5,633.9 L339.0,634.6 L340.5,635.3 L342.0,636.1 L343.5,637.0 L345.0,637.9 L346.5,638.8 L348.0,639.8 L349.5,640.9 L351.0,642.0 L352.5,643.2 L354.0,644.4 L355.5,645.7 L357.0,647.0 L358.5,648.4 L360.0,649.8 L361.5,651.2 L363.0,652.8 L364.5,654.3 L366.0,655.9 L367.5,657.6 L369.0,659.3 L370.5,661.0 L372.0,662.8 L373.5,664.6 L375.0,666.5 L376.5,668.4 L378.0,670.3 L379.5,672.3 L381.0,674.2 L382.5,676.2 L384.0,678.3 L385.5,680.3 L387.0,682.4 L388.5,684.4 L390.0,686.5 L391.5,688.6 L393.0,690.7 L394.5,692.8 L396.0,694.9 L397.5,696.9 L399.0,699.0 L400.5,701.1 L402.0,703.1 L403.5,705.1 L405.0,707.1 L406.5,709.1 L408.0,711.1 L409.5,713.1 L411.0,715.0 L412.5,716.9 L414.0,718.8 L415.5,720.7 L417.0,722.6 L418.5,724.5 L420.0,726.3 L421.5,728.2 L423.0,730.1 L424.5,731.9 L426.0,733.8 L427.5,735.7 L429.0,737.7 L430.5,739.6 L432.0,741.6 L433.5,743.6 L435.0,745.6 L436.5,747.7 L438.0,749.8 L439.5,752.0 L441.0,754.2 L442.5,756.4 L444.0,758.7 L445.5,761.0 L447.0,763.3 L448.5,765.6 L450.0,768.0 L451.5,770.3 L453.0,772.7 L454.5,775.1 L456.0,777.5 L457.5,779.8 L459.0,782.2 L460.5,784.5 L462.0,786.8 L463.5,789.1 L465.0,791.3 L466.5,793.5 L468.0,795.7 L469.5,797.9 L471.0,800.0 L472.5,802.1 L474.0,804.1 L475.5,806.1 L477.0,808.1 L478.5,810.0 L480.0,811.9 L481.5,813.8 L483.0,815.6 L484.5,817.5 L486.0,819.3 L487.5,821.0 L489.0,822.8 L490.5,824.5 L492.0,826.2 L493.5,827.8 L495.0,829.5 L496.5,831.1 L498.0,832.6 L499.5,834.2 L501.0,835.7 L502.5,837.2 L504.0,838.7 L505.5,840.1 L507.0,841.5 L508.5,842.8 L510.0,844.1 L511.5,845.4 L513.0,846.7 L514.5,847.9 L516.0,849.0 L517.5,850.1 L519.0,851.2 L520.5,852.3 L522.0,853.3 L523.5,854.2 L525.0,855.2 L526.5,856.1 L528.0,857.0 L529.5,857.8 L531.0,858.7 L532.5,859.5 L534.0,860.3 L535.5,861.1 L537.0,861.8 L538.5,862.6 L540.0,863.3 L541.5,864.0 L543.0,864.7 L544.5,865.4 L546.0,866.0 L547.5,866.7 L549.0,867.3 L550.5,868.0 L552.0,868.6 L553.5,869.2 L555.0,869.8 L556.5,870.3 L558.0,870.9 L559.5,871.4 L561.0,871.9 L562.5,872.4 L564.0,872.9 L565.5,873.4 L567.0,873.8 L568.5,874.3 L570.0,874.7 L571.5,875.1 L573.0,875.5 L574.5,875.8 L576.0,876.2 L577.5,876.5 L579.0,876.9 L580.5,877.2 L582.0,877.5 L583.5,877.8 L585.0,878.1 L586.5,878.4 L588.0,878.7 L589.5,879.0 L591.0,879.3 L592.5,879.5 L594.0,879.8 L595.5,880.0 L597.0,880.3 L598.5,880.5 L600.0,880.8 L601.5,881.0 L603.0,881.3 L604.5,881.5 L606.0,881.7 L607.5,882.0 L609.0,882.2 L610.5,882.4 L612.0,882.6 L613.5,882.9 L615.0,883.1 L616.5,883.3 L618.0,883.5 L619.5,883.7 L621.0,883.9 L622.5,884.0 L624.0,884.2 L625.5,884.4 L627.0,884.5 L628.5,884.7 L630.0,884.8 L631.5,884.9 L633.0,885.0 L634.5,885.1"/>
<path d="M49.5,894.6 L51.0,894.5 L52.5,894.4 L54.0,894.3 L55.5,894.1 L57.0,894.0 L58.5,893.8 L60.0,893.6 L61.5,893.4 L63.0,893.2 L64.5,893.0 L66.0,892.8 L67.5,892.5 L69.0,892.3 L70.5,892.0 L72.0,891.8 L73.5,891.5 L75.0,891.3 L76.5,891.0 L78.0,890.7 L79.5,890.5 L81.0,890.2 L82.5,889.9 L84.0,889.6 L85.5,889.3 L87.0,889.0 L88.5,888.7 L90.0,888.4 L91.5,888.0 L93.0,887.7 L94.5,887.3 L96.0,886.9 L97.5,886.6 L99.0,886.1 L100.5,885.7 L102.0,885.3 L103.5,884.8 L105.0,884.3 L106.5,883.9 L108.0,883.3 L109.5,882.8 L111.0,882.3 L112.5,881.7 L114.0,881.1 L115.5,880.5 L117.0,879.9 L118.5,879.3 L120.0,878.6 L121.5,877.9 L123.0,877.3 L124.5,876.6 L126.0,875.8 L127.5,875.1 L129.0,874.3 L130.5,873.5 L132.0,872.7 L133.5,871.9 L135.0,871.1 L136.5,870.2 L138.0,869.3 L139.5,868.3 L141.0,867.4 L142.5,866.4 L144.0,865.3 L145.5,864.3 L147.0,863.2 L148.5,862.0 L150.0,860.9 L151.5,859.7 L153.0,858.4 L154.5,857.1 L156.0,855.8 L157.5,854.5 L159.0,853.1 L160.5,851.6 L162.0,850.2 L163.5,848.7 L165.0,847.1 L166.5,845.6 L168.0,844.0 L169.5,842.3 L171.0,840.7 L172.5,838.9 L174.0,837.2 L175.5,835.4 L177.0,833.6 L178.5,831.8 L180.0,829.9 L181.5,828.0 L183.0,826.1 L184.5,824.1 L186.0,822.1 L187.5,820.0 L189.0,817.9 L190.5,815.8 L192.0,813.6 L193.5,811.4 L195.0,809.2 L196.5,806.9 L198.0,804.6 L199.5,802.3 L201.0,800.0 L202.5,797.6 L204.0,795.2 L205.5,792.7 L207.0,790.3 L208.5,787.9 L210.0,785.4 L211.5,782.9 L213.0,780.4 L214.5,778.0 L216.0,775.5 L217.5,773.0 L219.0,770.5 L220.5,768.1 L222.0,765.6 L223.5,763.2 L225.0,760.8 L226.5,758.4 L228.0,756.0 L229.5,753.6 L231.0,751.2 L232.5,748.8 L234.0,746.5 L235.5,744.1 L237.0,741.8 L238.5,739.5 L240.0,737.2 L241.5,734.9 L243.0,732.6 L244.5,730.3 L246.0,728.0 L247.5,725.8 L249.0,723.5 L250.5,721.3 L252.0,719.1 L253.5,716.9 L255.0,714.7 L256.5,712.5 L258.0,710.3 L259.5,708.2 L261.0,706.0 L262.5,703.9 L264.0,701.8 L265.5,699.6 L267.0,697.5 L268.5,695.5 L270.0,693.4 L271.5,691.3 L273.0,689.3 L274.5,687.2 L276.0,685.2 L277.5,683.2 L279.0,681.2 L280.5,679.3 L282.0,677.4 L283.5,675.4 L285.0,673.6 L286.5,671.7 L288.0,669.9 L289.5,668.1 L291.0,666.4 L292.5,664.7 L294.0,663.0 L295.5,661.4 L297.0,659.8 L298.5,658.3 L300.0,656.8 L301.5,655.4 L303.0,654.0 L304.5,652.7 L306.0,651.4 L307.5,650.3 L309.0,649.1 L310.5,648.1 L312.0,647.1 L313.5,646.2 L315.0,645.4 L316.5,644.7 L318.0,644.0 L319.5,643.5 L321.0,643.1 L322.5,642.7 L324.0,642.5 L325.5,642.4 L327.0,642.3 L328.5,642.4 L330.0,642.5 L331.5,642.7 L333.0,643.0 L334.5,643.3 L336.0,643.8 L337.5,644.3 L339.0,644.8 L340.5,645.4 L342.0,646.1 L343.5,646.9 L345.0,647.7 L346.5,648.5 L348.0,649.4 L349.5,650.4 L351.0,651.4 L352.5,652.4 L354.0,653.5 L355.5,654.6 L357.0,655.8 L358.5,657.0 L360.0,658.3 L361.5,659.6 L363.0,661.0 L364.5,662.4 L366.0,663.9 L367.5,665.4 L369.0,667.0 L370.5,668.6 L372.0,670.3 L373.5,672.0 L375.0,673.8 L376.5,675.7 L378.0,677.6 L379.5,679.6 L381.0,681.6 L382.5,683.6 L384.0,685.7 L385.5,687.8 L387.0,690.0 L388.5,692.2 L390.0,694.5 L391.5,696.7 L393.0,699.0 L394.5,701.3 L396.0,703.5 L397.5,705.8 L399.0,708.1 L400.5,710.4 L402.0,712.6 L403.5,714.8 L405.0,717.1 L406.5,719.2 L408.0,721.4 L409.5,723.5 L411.0,725.6 L412.5,727.7 L414.0,729.8 L415.5,731.8 L417.0,733.9 L418.5,735.9 L420.0,737.9 L421.5,739.9 L423.0,741.9 L424.5,743.9 L426.0,745.9 L427.5,748.0 L429.0,750.0 L430.5,752.1 L432.0,754.2 L433.5,756.3 L435.0,758.4 L436.5,760.6 L438.0,762.8 L439.5,765.0 L441.0,767.3 L442.5,769.6 L444.0,771.9 L445.5,774.2 L447.0,776.5 L448.5,778.9 L450.0,781.3 L451.5,783.6 L453.0,786.0 L454.5,788.4 L456.0,790.7 L457.5,793.0 L459.0,795.4 L460.5,797.7 L462.0,800.0 L463.5,802.2 L465.0,804.5 L466.5,806.7 L468.0,808.8 L469.5,811.0 L471.0,813.1 L472.5,815.1 L474.0,817.2 L475.5,819.2 L477.0,821.1 L478.5,823.1 L480.0,825.0 L481.5,826.8 L483.0,828.6 L484.5,830.4 L486.0,832.2 L487.5,833.9 L489.0,835.6 L490.5,837.3 L492.0,838.9 L493.5,840.5 L495.0,842.0 L496.5,843.6 L498.0,845.1 L499.5,846.5 L501.0,848.0 L502.5,849.4 L504.0,850.8 L505.5,852.1 L507.0,853.4 L508.5,854.7 L510.0,856.0 L511.5,857.2 L513.0,858.4 L514.5,859.6 L516.0,860.8 L517.5,861.9 L519.0,863.0 L520.5,864.0 L522.0,865.0 L523.5,866.0 L525.0,867.0 L526.5,868.0 L528.0,868.9 L529.5,869.8 L531.0,870.6 L532.5,871.5 L534.0,872.3 L535.5,873.0 L537.0,873.8 L538.5,874.5 L540.0,875.2 L541.5,875.9 L543.0,876.6 L544.5,877.2 L546.0,877.8 L547.5,878.4 L549.0,879.0 L550.5,879.6 L552.0,880.1 L553.5,880.7 L555.0,881.2 L556.5,881.7 L558.0,882.2 L559.5,882.7 L561.0,883.2 L562.5,883.7 L564.0,884.2 L565.5,884.6 L567.0,885.1 L568.5,885.5 L570.0,885.9 L571.5,886.4 L573.0,886.8 L574.5,887.2 L576.0,887.6 L577.5,887.9 L579.0,888.3 L580.5,888.7 L582.0,889.0 L583.5,889.3 L585.0,889.7 L586.5,890.0 L588.0,890.3 L589.5,890.5 L591.0,890.8 L592.5,891.1 L594.0,891.3 L595.5,891.6 L597.0,891.8 L598.5,892.0 L600.0,892.2 L601.5,892.4 L603.0,892.6 L604.5,892.8 L606.0,893.0 L607.5,893.2 L609.0,893.4 L610.5,893.5 L612.0,893.7 L613.5,893.9 L615.0,894.0 L616.5,894.2 L618.0,894.3 L619.5,894.4 L621.0,894.6 L622.5,894.7 L624.0,894.8 L625.5,894.9 L627.0,895.0 L628.5,895.1 L630.0,895.2 L631.5,895.3 L633.0,895.3 L634.5,895.4"/>
<path d="M49.5,1268.1 L51.0,1268.0 L52.5,1268.0 L54.0,1268.0 L55.5,1267.9 L57.0,1267.9 L58.5,1267.9 L60.0,1267.8 L61.5,1267.8 L63.0,1267.8 L64.5,1267.7 L66.0,1267.7 L67.5,1267.6 L69.0,1267.6 L70.5,1267.6 L72.0,1267.6 L73.5,1267.5 L75.0,1267.5 L76.5,1267.5 L78.0,1267.5 L79.5,1267.5 L81.0,1267.4 L82.5,1267.4 L84.0,1267.4 L85.5,1267.4 L87.0,1267.4 L88.5,1267.3 L90.0,1267.3 L91.5,1267.2 L93.0,1267.2 L94.5,1267.1 L96.0,1267.0 L97.5,1266.9 L99.0,1266.8 L100.5,1266.6 L102.0,1266.5 L103.5,1266.3 L105.0,1266.1 L106.5,1265.9 L108.0,1265.7 L109.5,1265.5 L111.0,1265.3 L112.5,1265.0 L114.0,1264.7 L115.5,1264.5 L117.0,1264.2 L118.5,1263.9 L120.0,1263.6 L121.5,1263.3 L123.0,1263.0 L124.5,1262.7 L126.0,1262.4 L127.5,1262.1 L129.0,1261.7 L130.5,1261.4 L132.0,1261.1 L133.5,1260.7 L135.0,1260.4 L136.5,1260.0 L138.0,1259.7 L139.5,1259.3 L141.0,1259.0 L142.5,1258.6 L144.0,1258.2 L145.5,1257.8 L147.0,1257.4 L148.5,1257.0 L150.0,1256.6 L151.5,1256.2 L153.0,1255.7 L154.5,1255.3 L156.0,1254.8 L157.5,1254.4 L159.0,1253.9 L160.5,1253.4 L162.0,1252.9 L163.5,1252.4 L165.0,1251.9 L166.5,1251.4 L168.0,1250.8 L169.5,1250.3 L171.0,1249.7 L172.5,1249.1 L174.0,1248.6 L175.5,1248.0 L177.0,1247.3 L178.5,1246.7 L180.0,1246.1 L181.5,1245.4 L183.0,1244.7 L184.5,1244.0 L186.0,1243.2 L187.5,1242.5 L189.0,1241.7 L190.5,1240.8 L192.0,1240.0 L193.5,1239.1 L195.0,1238.1 L196.5,1237.2 L198.0,1236.1 L199.5,1235.1 L201.0,1234.0 L202.5,1232.9 L204.0,1231.7 L205.5,1230.5 L207.0,1229.2 L208.5,1228.0 L210.0,1226.6 L211.5,1225.3 L213.0,1223.9 L214.5,1222.5 L216.0,1221.1 L217.5,1219.6 L219.0,1218.1 L220.5,1216.6 L222.0,1215.1 L223.5,1213.6 L225.0,1212.0 L226.5,1210.4 L228.0,1208.8 L229.5,1207.2 L231.0,1205.6 L232.5,1204.0 L234.0,1202.3 L235.5,1200.7 L237.0,1199.0 L238.5,1197.3 L240.0,1195.6 L241.5,1193.9 L243.0,1192.2 L244.5,1190.4 L246.0,1188.7 L247.5,1186.9 L249.0,1185.1 L250.5,1183.3 L252.0,1181.5 L253.5,1179.7 L255.0,1177.8 L256.5,1175.9 L258.0,1174.0 L259.5,1172.1 L261.0,1170.1 L262.5,1168.1 L264.0,1166.1 L265.5,1164.1 L267.0,1162.0 L268.5,1159.9 L270.0,1157.8 L271.5,1155.7 L273.0,1153.5 L274.5,1151.3 L276.0,1149.1 L277.5,1146.9 L279.0,1144.7 L280.5,1142.4 L282.0,1140.1 L283.5,1137.9 L285.0,1135.6 L286.5,1133.3 L288.0,1130.9 L289.5,1128.6 L291.0,1126.3 L292.5,1124.0 L294.0,1121.7 L295.5,1119.4 L297.0,1117.1 L298.5,1114.8 L300.0,1112.5 L301.5,1110.2 L303.0,1108.0 L304.5,1105.7 L306.0,1103.4 L307.5,1101.2 L309.0,1098.9 L310.5,1096.7 L312.0,1094.4 L313.5,1092.1 L315.0,1089.9 L316.5,1087.6 L318.0,1085.4 L319.5,1083.1 L321.0,1080.8 L322.5,1078.5 L324.0,1076.2 L325.5,1073.9 L327.0,1071.6 L328.5,1069.3 L330.0,1067.0 L331.5,1064.7 L333.0,1062.4 L334.5,1060.2 L336.0,1057.9 L337.5,1055.7 L339.0,1053.5 L340.5,1051.3 L342.0,1049.2 L343.5,1047.1 L345.0,1045.1 L346.5,1043.1 L348.0,1041.2 L349.5,1039.4 L351.0,1037.6 L352.5,1035.9 L354.0,1034.2 L355.5,1032.6 L357.0,1031.1 L358.5,1029.6 L360.0,1028.2 L361.5,1026.9 L363.0,1025.6 L364.5,1024.4 L366.0,1023.2 L367.5,1022.1 L369.0,1021.1 L370.5,1020.1 L372.0,1019.1 L373.5,1018.2 L375.0,1017.4 L376.5,1016.6 L378.0,1015.9 L379.5,1015.2 L381.0,1014.7 L382.5,1014.2 L384.0,1013.7 L385.5,1013.4 L387.0,1013.1 L388.5,1012.9 L390.0,1012.8 L391.5,1012.9 L393.0,1013.0 L394.5,1013.2 L396.0,1013.4 L397.5,1013.8 L399.0,1014.2 L400.5,1014.8 L402.0,1015.4 L403.5,1016.1 L405.0,1016.9 L406.5,1017.8 L408.0,1018.8 L409.5,1019.9 L411.0,1021.0 L412.5,1022.2 L414.0,1023.5 L415.5,1024.8 L417.0,1026.3 L418.5,1027.7 L420.0,1029.3 L421.5,1030.9 L423.0,1032.6 L424.5,1034.4 L426.0,1036.2 L427.5,1038.2 L429.0,1040.2 L430.5,1042.2 L432.0,1044.4 L433.5,1046.7 L435.0,1049.0 L436.5,1051.4 L438.0,1054.0 L439.5,1056.6 L441.0,1059.3 L442.5,1062.1 L444.0,1065.0 L445.5,1068.0 L447.0,1071.0 L448.5,1074.2 L450.0,1077.4 L451.5,1080.7 L453.0,1084.0 L454.5,1087.4 L456.0,1090.9 L457.5,1094.4 L459.0,1097.9 L460.5,1101.5 L462.0,1105.1 L463.5,1108.7 L465.0,1112.4 L466.5,1116.0 L468.0,1119.6 L469.5,1123.2 L471.0,1126.8 L472.5,1130.4 L474.0,1134.0 L475.5,1137.5 L477.0,1141.0 L478.5,1144.5 L480.0,1148.0 L481.5,1151.4 L483.0,1154.7 L484.5,1158.0 L486.0,1161.3 L487.5,1164.5 L489.0,1167.7 L490.5,1170.8 L492.0,1173.9 L493.5,1176.9 L495.0,1179.9 L496.5,1182.8 L498.0,1185.7 L499.5,1188.6 L501.0,1191.4 L502.5,1194.1 L504.0,1196.8 L505.5,1199.4 L507.0,1202.0 L508.5,1204.6 L510.0,1207.1 L511.5,1209.5 L513.0,1211.9 L514.5,1214.2 L516.0,1216.4 L517.5,1218.6 L519.0,1220.7 L520.5,1222.8 L522.0,1224.8 L523.5,1226.7 L525.0,1228.5 L526.5,1230.3 L528.0,1232.0 L529.5,1233.6 L531.0,1235.1 L532.5,1236.6 L534.0,1238.0 L535.5,1239.3 L537.0,1240.6 L538.5,1241.8 L540.0,1242.9 L541.5,1243.9 L543.0,1244.9 L544.5,1245.8 L546.0,1246.7 L547.5,1247.6 L549.0,1248.4 L550.5,1249.1 L552.0,1249.8 L553.5,1250.5 L555.0,1251.2 L556.5,1251.8 L558.0,1252.4 L559.5,1253.0 L561.0,1253.6 L562.5,1254.2 L564.0,1254.8 L565.5,1255.4 L567.0,1255.9 L568.5,1256.5 L570.0,1257.1 L571.5,1257.7 L573.0,1258.2 L574.5,1258.8 L576.0,1259.3 L577.5,1259.9 L579.0,1260.4 L580.5,1261.0 L582.0,1261.5 L583.5,1262.0 L585.0,1262.5 L586.5,1262.9 L588.0,1263.4 L589.5,1263.8 L591.0,1264.2 L592.5,1264.5 L594.0,1264.9 L595.5,1265.2 L597.0,1265.5 L598.5,1265.8 L600.0,1266.1 L601.5,1266.3 L603.0,1266.5 L604.5,1266.7 L606.0,1266.9 L607.5,1267.1 L609.0,1267.2 L610.5,1267.3 L612.0,1267.5 L613.5,1267.6 L615.0,1267.7 L616.5,1267.8 L618.0,1267.9 L619.5,1268.0 L621.0,1268.0 L622.5,1268.1 L624.0,1268.2 L625.5,1268.2 L627.0,1268.3 L628.5,1268.3 L630.0,1268.3 L631.5,1268.4 L632.5,1268.4"/>
<path d="M49.5,1278.8 L51.0,1278.8 L52.5,1278.7 L54.0,1278.6 L55.5,1278.6 L57.0,1278.5 L58.5,1278.4 L60.0,1278.4 L61.5,1278.3 L63.0,1278.2 L64.5,1278.1 L66.0,1278.0 L67.5,1277.9 L69.0,1277.8 L70.5,1277.7 L72.0,1277.6 L73.5,1277.5 L75.0,1277.4 L76.5,1277.3 L78.0,1277.2 L79.5,1277.1 L81.0,1277.0 L82.5,1276.8 L84.0,1276.7 L85.5,1276.6 L87.0,1276.5 L88.5,1276.3 L90.0,1276.2 L91.5,1276.0 L93.0,1275.8 L94.5,1275.7 L96.0,1275.5 L97.5,1275.3 L99.0,1275.1 L100.5,1274.8 L102.0,1274.6 L103.5,1274.3 L105.0,1274.1 L106.5,1273.8 L108.0,1273.5 L109.5,1273.2 L111.0,1272.9 L112.5,1272.5 L114.0,1272.2 L115.5,1271.8 L117.0,1271.5 L118.5,1271.1 L120.0,1270.7 L121.5,1270.3 L123.0,1269.9 L124.5,1269.5 L126.0,1269.1 L127.5,1268.7 L129.0,1268.3 L130.5,1267.9 L132.0,1267.4 L133.5,1267.0 L135.0,1266.5 L136.5,1266.1 L138.0,1265.6 L139.5,1265.2 L141.0,1264.7 L142.5,1264.2 L144.0,1263.7 L145.5,1263.2 L147.0,1262.7 L148.5,1262.2 L150.0,1261.6 L151.5,1261.0 L153.0,1260.4 L154.5,1259.8 L156.0,1259.1 L157.5,1258.4 L159.0,1257.6 L160.5,1256.8 L162.0,1256.0 L163.5,1255.1 L165.0,1254.2 L166.5,1253.2 L168.0,1252.2 L169.5,1251.2 L171.0,1250.1 L172.5,1248.9 L174.0,1247.7 L175.5,1246.5 L177.0,1245.2 L178.5,1243.9 L180.0,1242.5 L181.5,1241.1 L183.0,1239.7 L184.5,1238.2 L186.0,1236.7 L187.5,1235.2 L189.0,1233.6 L190.5,1232.1 L192.0,1230.4 L193.5,1228.8 L195.0,1227.1 L196.5,1225.4 L198.0,1223.7 L199.5,1221.9 L201.0,1220.1 L202.5,1218.3 L204.0,1216.4 L205.5,1214.5 L207.0,1212.6 L208.5,1210.6 L210.0,1208.6 L211.5,1206.5 L213.0,1204.4 L214.5,1202.3 L216.0,1200.1 L217.5,1197.9 L219.0,1195.6 L220.5,1193.3 L222.0,1191.0 L223.5,1188.6 L225.0,1186.2 L226.5,1183.8 L228.0,1181.3 L229.5,1178.8 L231.0,1176.3 L232.5,1173.7 L234.0,1171.2 L235.5,1168.6 L237.0,1166.0 L238.5,1163.4 L240.0,1160.8 L241.5,1158.2 L243.0,1155.6 L244.5,1153.0 L246.0,1150.5 L247.5,1147.9 L249.0,1145.4 L250.5,1142.9 L252.0,1140.4 L253.5,1138.0 L255.0,1135.6 L256.5,1133.1 L258.0,1130.8 L259.5,1128.4 L261.0,1126.0 L262.5,1123.7 L264.0,1121.4 L265.5,1119.1 L267.0,1116.7 L268.5,1114.5 L270.0,1112.2 L271.5,1109.9 L273.0,1107.6 L274.5,1105.3 L276.0,1103.0 L277.5,1100.7 L279.0,1098.5 L280.5,1096.2 L282.0,1093.9 L283.5,1091.7 L285.0,1089.4 L286.5,1087.2 L288.0,1085.0 L289.5,1082.8 L291.0,1080.6 L292.5,1078.5 L294.0,1076.3 L295.5,1074.3 L297.0,1072.2 L298.5,1070.2 L300.0,1068.2 L301.5,1066.3 L303.0,1064.4 L304.5,1062.6 L306.0,1060.8 L307.5,1059.1 L309.0,1057.5 L310.5,1055.9 L312.0,1054.3 L313.5,1052.8 L315.0,1051.4 L316.5,1050.0 L318.0,1048.7 L319.5,1047.4 L321.0,1046.2 L322.5,1045.0 L324.0,1043.9 L325.5,1042.8 L327.0,1041.7 L328.5,1040.7 L330.0,1039.8 L331.5,1038.8 L333.0,1037.9 L334.5,1037.0 L336.0,1036.1 L337.5,1035.3 L339.0,1034.5 L340.5,1033.7 L342.0,1032.9 L343.5,1032.2 L345.0,1031.5 L346.5,1030.8 L348.0,1030.2 L349.5,1029.6 L351.0,1029.1 L352.5,1028.6 L354.0,1028.1 L355.5,1027.7 L357.0,1027.2 L358.5,1026.8 L360.0,1026.4 L361.5,1026.0 L363.0,1025.7 L364.5,1025.4 L366.0,1025.1 L367.5,1024.9 L369.0,1024.8 L370.5,1024.7 L372.0,1024.6 L373.5,1024.7 L375.0,1024.8 L376.5,1024.9 L378.0,1025.1 L379.5,1025.4 L381.0,1025.7 L382.5,1026.0 L384.0,1026.4 L385.5,1026.8 L387.0,1027.2 L388.5,1027.6 L390.0,1028.1 L391.5,1028.5 L393.0,1029.0 L394.5,1029.4 L396.0,1029.8 L397.5,1030.2 L399.0,1030.5 L400.5,1030.8 L402.0,1031.0 L403.5,1031.4 L405.0,1032.2 L406.5,1033.2 L408.0,1034.4 L409.5,1035.7 L411.0,1037.1 L412.5,1038.7 L414.0,1040.3 L415.5,1042.0 L417.0,1043.8 L418.5,1045.7 L420.0,1047.6 L421.5,1049.7 L423.0,1051.8 L424.5,1053.9 L426.0,1056.2 L427.5,1058.5 L429.0,1060.9 L430.5,1063.4 L432.0,1065.9 L433.5,1068.6 L435.0,1071.3 L436.5,1074.1 L438.0,1076.9 L439.5,1079.9 L441.0,1082.8 L442.5,1085.9 L444.0,1089.0 L445.5,1092.2 L447.0,1095.5 L448.5,1098.7 L450.0,1102.1 L451.5,1105.4 L453.0,1108.8 L454.5,1112.2 L456.0,1115.6 L457.5,1119.0 L459.0,1122.4 L460.5,1125.8 L462.0,1129.1 L463.5,1132.5 L465.0,1135.8 L466.5,1139.1 L468.0,1142.3 L469.5,1145.5 L471.0,1148.6 L472.5,1151.7 L474.0,1154.8 L475.5,1157.7 L477.0,1160.7 L478.5,1163.5 L480.0,1166.3 L481.5,1169.1 L483.0,1171.7 L484.5,1174.4 L486.0,1176.9 L487.5,1179.5 L489.0,1181.9 L490.5,1184.3 L492.0,1186.7 L493.5,1189.0 L495.0,1191.3 L496.5,1193.5 L498.0,1195.7 L499.5,1197.9 L501.0,1200.0 L502.5,1202.1 L504.0,1204.1 L505.5,1206.1 L507.0,1208.1 L508.5,1210.0 L510.0,1211.9 L511.5,1213.8 L513.0,1215.6 L514.5,1217.4 L516.0,1219.1 L517.5,1220.9 L519.0,1222.5 L520.5,1224.2 L522.0,1225.8 L523.5,1227.3 L525.0,1228.9 L526.5,1230.3 L528.0,1231.8 L529.5,1233.2 L531.0,1234.5 L532.5,1235.8 L534.0,1237.1 L535.5,1238.3 L537.0,1239.5 L538.5,1240.7 L540.0,1241.8 L541.5,1242.9 L543.0,1243.9 L544.5,1244.9 L546.0,1245.8 L547.5,1246.8 L549.0,1247.7 L550.5,1248.5 L552.0,1249.4 L553.5,1250.2 L555.0,1251.0 L556.5,1251.8 L558.0,1252.6 L559.5,1253.3 L561.0,1254.1 L562.5,1254.8 L564.0,1255.5 L565.5,1256.3 L567.0,1257.0 L568.5,1257.7 L570.0,1258.4 L571.5,1259.1 L573.0,1259.8 L574.5,1260.5 L576.0,1261.1 L577.5,1261.8 L579.0,1262.4 L580.5,1263.1 L582.0,1263.7 L583.5,1264.3 L585.0,1264.9 L586.5,1265.5 L588.0,1266.1 L589.5,1266.6 L591.0,1267.1 L592.5,1267.6 L594.0,1268.1 L595.5,1268.6 L597.0,1269.1 L598.5,1269.5 L600.0,1270.0 L601.5,1270.4 L603.0,1270.8 L604.5,1271.2 L606.0,1271.6 L607.5,1271.9 L609.0,1272.3 L610.5,1272.6 L612.0,1273.0 L613.5,1273.3 L615.0,1273.6 L616.5,1273.9 L618.0,1274.2 L619.5,1274.5 L621.0,1274.8 L622.5,1275.0 L624.0,1275.3 L625.5,1275.5 L627.0,1275.7 L628.5,1275.9 L630.0,1276.0 L631.5,1276.2 L632.5,1276.3"/>
<path d="M49.5,1289.1 L51.0,1289.0 L52.5,1288.9 L54.0,1288.8 L55.5,1288.8 L57.0,1288.7 L58.5,1288.5 L60.0,1288.4 L61.5,1288.3 L63.0,1288.2 L64.5,1288.0 L66.0,1287.9 L67.5,1287.7 L69.0,1287.6 L70.5,1287.4 L72.0,1287.2 L73.5,1287.1 L75.0,1286.9 L76.5,1286.7 L78.0,1286.5 L79.5,1286.3 L81.0,1286.1 L82.5,1285.8 L84.0,1285.6 L85.5,1285.4 L87.0,1285.1 L88.5,1284.9 L90.0,1284.7 L91.5,1284.4 L93.0,1284.1 L94.5,1283.9 L96.0,1283.6 L97.5,1283.3 L99.0,1283.1 L100.5,1282.8 L102.0,1282.5 L103.5,1282.2 L105.0,1281.8 L106.5,1281.5 L108.0,1281.2 L109.5,1280.9 L111.0,1280.5 L112.5,1280.1 L114.0,1279.8 L115.5,1279.4 L117.0,1279.0 L118.5,1278.5 L120.0,1278.1 L121.5,1277.7 L123.0,1277.2 L124.5,1276.7 L126.0,1276.2 L127.5,1275.7 L129.0,1275.2 L130.5,1274.6 L132.0,1274.1 L133.5,1273.5 L135.0,1272.9 L136.5,1272.3 L138.0,1271.6 L139.5,1271.0 L141.0,1270.3 L142.5,1269.6 L144.0,1268.9 L145.5,1268.1 L147.0,1267.4 L148.5,1266.6 L150.0,1265.7 L151.5,1264.9 L153.0,1263.9 L154.5,1263.0 L156.0,1262.0 L157.5,1261.0 L159.0,1259.9 L160.5,1258.8 L162.0,1257.6 L163.5,1256.3 L165.0,1255.0 L166.5,1253.7 L168.0,1252.3 L169.5,1250.8 L171.0,1249.2 L172.5,1247.7 L174.0,1246.0 L175.5,1244.3 L177.0,1242.6 L178.5,1240.8 L180.0,1238.9 L181.5,1237.0 L183.0,1235.1 L184.5,1233.1 L186.0,1231.1 L187.5,1229.1 L189.0,1227.0 L190.5,1225.0 L192.0,1222.9 L193.5,1220.8 L195.0,1218.6 L196.5,1216.5 L198.0,1214.3 L199.5,1212.1 L201.0,1210.0 L202.5,1207.8 L204.0,1205.6 L205.5,1203.4 L207.0,1201.1 L208.5,1198.9 L210.0,1196.6 L211.5,1194.4 L213.0,1192.1 L214.5,1189.8 L216.0,1187.5 L217.5,1185.1 L219.0,1182.7 L220.5,1180.4 L222.0,1177.9 L223.5,1175.5 L225.0,1173.0 L226.5,1170.5 L228.0,1168.0 L229.5,1165.4 L231.0,1162.9 L232.5,1160.3 L234.0,1157.7 L235.5,1155.0 L237.0,1152.4 L238.5,1149.7 L240.0,1147.0 L241.5,1144.2 L243.0,1141.5 L244.5,1138.8 L246.0,1136.0 L247.5,1133.2 L249.0,1130.5 L250.5,1127.7 L252.0,1124.9 L253.5,1122.1 L255.0,1119.3 L256.5,1116.6 L258.0,1113.8 L259.5,1111.0 L261.0,1108.3 L262.5,1105.5 L264.0,1102.8 L265.5,1100.1 L267.0,1097.4 L268.5,1094.7 L270.0,1092.1 L271.5,1089.5 L273.0,1086.9 L274.5,1084.4 L276.0,1081.9 L277.5,1079.4 L279.0,1077.0 L280.5,1074.6 L282.0,1072.3 L283.5,1070.0 L285.0,1067.8 L286.5,1065.6 L288.0,1063.4 L289.5,1061.4 L291.0,1059.3 L292.5,1057.4 L294.0,1055.5 L295.5,1053.6 L297.0,1051.8 L298.5,1050.1 L300.0,1048.4 L301.5,1046.8 L303.0,1045.3 L304.5,1043.9 L306.0,1042.5 L307.5,1041.2 L309.0,1039.9 L310.5,1038.8 L312.0,1037.7 L313.5,1036.7 L315.0,1035.7 L316.5,1034.9 L318.0,1034.1 L319.5,1033.4 L321.0,1032.8 L322.5,1032.3 L324.0,1031.8 L325.5,1031.5 L327.0,1031.2 L328.5,1031.0 L330.0,1030.9 L331.5,1030.9 L333.0,1030.9 L334.5,1031.0 L336.0,1031.0 L337.5,1031.0 L339.0,1031.0 L340.5,1031.0 L342.0,1031.0 L343.5,1031.0 L345.0,1031.0 L346.5,1031.0 L348.0,1031.0 L349.5,1030.9 L351.0,1030.8 L352.5,1030.8 L354.0,1030.8 L355.5,1030.8 L357.0,1030.8 L358.5,1030.8 L360.0,1030.9 L361.5,1031.0 L363.0,1031.2 L364.5,1031.4 L366.0,1031.7 L367.5,1032.0 L369.0,1032.4 L370.5,1032.9 L372.0,1033.4 L373.5,1034.1 L375.0,1034.8 L376.5,1035.6 L378.0,1036.5 L379.5,1037.5 L381.0,1038.5 L382.5,1039.7 L384.0,1040.9 L385.5,1042.2 L387.0,1043.6 L388.5,1045.0 L390.0,1046.5 L391.5,1048.0 L393.0,1049.6 L394.5,1051.2 L396.0,1052.8 L397.5,1054.4 L399.0,1056.0 L400.5,1057.6 L402.0,1059.2 L403.5,1060.9 L405.0,1062.5 L406.5,1064.1 L408.0,1065.7 L409.5,1067.3 L411.0,1068.9 L412.5,1070.5 L414.0,1072.2 L415.5,1073.9 L417.0,1075.6 L418.5,1077.4 L420.0,1079.2 L421.5,1081.0 L423.0,1083.0 L424.5,1084.9 L426.0,1087.0 L427.5,1089.1 L429.0,1091.3 L430.5,1093.6 L432.0,1095.9 L433.5,1098.3 L435.0,1100.8 L436.5,1103.3 L438.0,1105.8 L439.5,1108.4 L441.0,1111.1 L442.5,1113.8 L444.0,1116.5 L445.5,1119.2 L447.0,1122.0 L448.5,1124.8 L450.0,1127.5 L451.5,1130.3 L453.0,1133.1 L454.5,1135.9 L456.0,1138.7 L457.5,1141.5 L459.0,1144.3 L460.5,1147.1 L462.0,1149.9 L463.5,1152.6 L465.0,1155.4 L466.5,1158.1 L468.0,1160.8 L469.5,1163.5 L471.0,1166.2 L472.5,1168.9 L474.0,1171.5 L475.5,1174.1 L477.0,1176.6 L478.5,1179.2 L480.0,1181.7 L481.5,1184.1 L483.0,1186.6 L484.5,1189.0 L486.0,1191.3 L487.5,1193.6 L489.0,1195.9 L490.5,1198.2 L492.0,1200.4 L493.5,1202.6 L495.0,1204.7 L496.5,1206.8 L498.0,1208.9 L499.5,1210.9 L501.0,1213.0 L502.5,1215.0 L504.0,1216.9 L505.5,1218.8 L507.0,1220.8 L508.5,1222.6 L510.0,1224.5 L511.5,1226.3 L513.0,1228.1 L514.5,1229.9 L516.0,1231.6 L517.5,1233.3 L519.0,1235.0 L520.5,1236.6 L522.0,1238.2 L523.5,1239.8 L525.0,1241.3 L526.5,1242.8 L528.0,1244.3 L529.5,1245.7 L531.0,1247.1 L532.5,1248.4 L534.0,1249.7 L535.5,1251.0 L537.0,1252.3 L538.5,1253.5 L540.0,1254.6 L541.5,1255.8 L543.0,1256.9 L544.5,1257.9 L546.0,1259.0 L547.5,1260.0 L549.0,1260.9 L550.5,1261.9 L552.0,1262.8 L553.5,1263.7 L555.0,1264.5 L556.5,1265.4 L558.0,1266.2 L559.5,1267.0 L561.0,1267.8 L562.5,1268.5 L564.0,1269.2 L565.5,1270.0 L567.0,1270.7 L568.5,1271.4 L570.0,1272.0 L571.5,1272.7 L573.0,1273.3 L574.5,1274.0 L576.0,1274.6 L577.5,1275.2 L579.0,1275.7 L580.5,1276.3 L582.0,1276.8 L583.5,1277.4 L585.0,1277.9 L586.5,1278.4 L588.0,1278.8 L589.5,1279.3 L591.0,1279.7 L592.5,1280.1 L594.0,1280.5 L595.5,1280.9 L597.0,1281.3 L598.5,1281.7 L600.0,1282.0 L601.5,1282.3 L603.0,1282.7 L604.5,1283.0 L606.0,1283.3 L607.5,1283.5 L609.0,1283.8 L610.5,1284.1 L612.0,1284.3 L613.5,1284.6 L615.0,1284.8 L616.5,1285.0 L618.0,1285.2 L619.5,1285.4 L621.0,1285.6 L622.5,1285.8 L624.0,1286.0 L625.5,1286.1 L627.0,1286.2 L628.5,1286.4 L630.0,1286.5 L631.5,1286.6 L632.5,1286.6"/>
<path d="M49.5,1298.3 L51.0,1298.2 L52.5,1298.1 L54.0,1297.9 L55.5,1297.8 L57.0,1297.7 L58.5,1297.5 L60.0,1297.4 L61.5,1297.2 L63.0,1297.0 L64.5,1296.9 L66.0,1296.7 L67.5,1296.5 L69.0,1296.3 L70.5,1296.0 L72.0,1295.8 L73.5,1295.6 L75.0,1295.3 L76.5,1295.1 L78.0,1294.8 L79.5,1294.6 L81.0,1294.3 L82.5,1294.0 L84.0,1293.8 L85.5,1293.5 L87.0,1293.2 L88.5,1292.9 L90.0,1292.6 L91.5,1292.2 L93.0,1291.9 L94.5,1291.6 L96.0,1291.2 L97.5,1290.8 L99.0,1290.5 L100.5,1290.1 L102.0,1289.7 L103.5,1289.3 L105.0,1288.8 L106.5,1288.4 L108.0,1287.9 L109.5,1287.5 L111.0,1287.0 L112.5,1286.5 L114.0,1286.0 L115.5,1285.4 L117.0,1284.9 L118.5,1284.3 L120.0,1283.7 L121.5,1283.1 L123.0,1282.5 L124.5,1281.8 L126.0,1281.2 L127.5,1280.5 L129.0,1279.8 L130.5,1279.1 L132.0,1278.3 L133.5,1277.6 L135.0,1276.8 L136.5,1276.0 L138.0,1275.2 L139.5,1274.4 L141.0,1273.5 L142.5,1272.6 L144.0,1271.7 L145.5,1270.8 L147.0,1269.8 L148.5,1268.8 L150.0,1267.8 L151.5,1266.8 L153.0,1265.7 L154.5,1264.5 L156.0,1263.3 L157.5,1262.1 L159.0,1260.8 L160.5,1259.4 L162.0,1258.0 L163.5,1256.5 L165.0,1255.0 L166.5,1253.4 L168.0,1251.8 L169.5,1250.1 L171.0,1248.3 L172.5,1246.4 L174.0,1244.5 L175.5,1242.6 L177.0,1240.6 L178.5,1238.5 L180.0,1236.4 L181.5,1234.3 L183.0,1232.1 L184.5,1229.9 L186.0,1227.6 L187.5,1225.3 L189.0,1223.0 L190.5,1220.7 L192.0,1218.4 L193.5,1216.0 L195.0,1213.7 L196.5,1211.3 L198.0,1209.0 L199.5,1206.6 L201.0,1204.2 L202.5,1201.9 L204.0,1199.5 L205.5,1197.2 L207.0,1194.8 L208.5,1192.4 L210.0,1190.1 L211.5,1187.7 L213.0,1185.3 L214.5,1182.9 L216.0,1180.5 L217.5,1178.1 L219.0,1175.7 L220.5,1173.3 L222.0,1170.8 L223.5,1168.4 L225.0,1165.9 L226.5,1163.4 L228.0,1160.8 L229.5,1158.3 L231.0,1155.7 L232.5,1153.2 L234.0,1150.6 L235.5,1148.0 L237.0,1145.4 L238.5,1142.7 L240.0,1140.1 L241.5,1137.5 L243.0,1134.8 L244.5,1132.2 L246.0,1129.5 L247.5,1126.8 L249.0,1124.2 L250.5,1121.5 L252.0,1118.9 L253.5,1116.2 L255.0,1113.6 L256.5,1110.9 L258.0,1108.3 L259.5,1105.8 L261.0,1103.2 L262.5,1100.6 L264.0,1098.1 L265.5,1095.6 L267.0,1093.2 L268.5,1090.8 L270.0,1088.4 L271.5,1086.0 L273.0,1083.7 L274.5,1081.5 L276.0,1079.3 L277.5,1077.1 L279.0,1075.0 L280.5,1073.0 L282.0,1071.0 L283.5,1069.0 L285.0,1067.2 L286.5,1065.3 L288.0,1063.6 L289.5,1061.9 L291.0,1060.3 L292.5,1058.7 L294.0,1057.2 L295.5,1055.8 L297.0,1054.5 L298.5,1053.2 L300.0,1052.0 L301.5,1050.8 L303.0,1049.8 L304.5,1048.8 L306.0,1047.9 L307.5,1047.1 L309.0,1046.4 L310.5,1045.7 L312.0,1045.1 L313.5,1044.6 L315.0,1044.2 L316.5,1043.9 L318.0,1043.6 L319.5,1043.5 L321.0,1043.4 L322.5,1043.3 L324.0,1043.4 L325.5,1043.4 L327.0,1043.5 L328.5,1043.5 L330.0,1043.6 L331.5,1043.6 L333.0,1043.6 L334.5,1043.6 L336.0,1043.6 L337.5,1043.6 L339.0,1043.6 L340.5,1043.5 L342.0,1043.4 L343.5,1043.3 L345.0,1043.2 L346.5,1043.1 L348.0,1043.0 L349.5,1042.9 L351.0,1042.7 L352.5,1042.6 L354.0,1042.6 L355.5,1042.5 L357.0,1042.6 L358.5,1042.6 L360.0,1042.7 L361.5,1042.9 L363.0,1043.1 L364.5,1043.4 L366.0,1043.7 L367.5,1044.1 L369.0,1044.6 L370.5,1045.1 L372.0,1045.7 L373.5,1046.4 L375.0,1047.2 L376.5,1048.0 L378.0,1048.9 L379.5,1049.9 L381.0,1050.9 L382.5,1052.0 L384.0,1053.2 L385.5,1054.4 L387.0,1055.7 L388.5,1057.1 L390.0,1058.5 L391.5,1059.9 L393.0,1061.5 L394.5,1063.0 L396.0,1064.6 L397.5,1066.3 L399.0,1068.0 L400.5,1069.7 L402.0,1071.5 L403.5,1073.3 L405.0,1075.2 L406.5,1077.1 L408.0,1079.0 L409.5,1081.0 L411.0,1083.0 L412.5,1085.0 L414.0,1087.1 L415.5,1089.2 L417.0,1091.3 L418.5,1093.5 L420.0,1095.7 L421.5,1097.9 L423.0,1100.2 L424.5,1102.4 L426.0,1104.7 L427.5,1107.0 L429.0,1109.3 L430.5,1111.7 L432.0,1114.0 L433.5,1116.3 L435.0,1118.7 L436.5,1121.0 L438.0,1123.3 L439.5,1125.7 L441.0,1128.0 L442.5,1130.3 L444.0,1132.6 L445.5,1134.9 L447.0,1137.2 L448.5,1139.4 L450.0,1141.7 L451.5,1143.9 L453.0,1146.2 L454.5,1148.4 L456.0,1150.6 L457.5,1152.9 L459.0,1155.1 L460.5,1157.3 L462.0,1159.6 L463.5,1161.8 L465.0,1164.1 L466.5,1166.4 L468.0,1168.7 L469.5,1171.0 L471.0,1173.3 L472.5,1175.6 L474.0,1177.9 L475.5,1180.3 L477.0,1182.7 L478.5,1185.0 L480.0,1187.4 L481.5,1189.8 L483.0,1192.1 L484.5,1194.5 L486.0,1196.9 L487.5,1199.2 L489.0,1201.6 L490.5,1203.9 L492.0,1206.2 L493.5,1208.5 L495.0,1210.7 L496.5,1212.9 L498.0,1215.1 L499.5,1217.3 L501.0,1219.4 L502.5,1221.5 L504.0,1223.5 L505.5,1225.6 L507.0,1227.5 L508.5,1229.5 L510.0,1231.4 L511.5,1233.2 L513.0,1235.1 L514.5,1236.9 L516.0,1238.6 L517.5,1240.4 L519.0,1242.1 L520.5,1243.7 L522.0,1245.4 L523.5,1247.0 L525.0,1248.5 L526.5,1250.1 L528.0,1251.6 L529.5,1253.1 L531.0,1254.6 L532.5,1256.0 L534.0,1257.4 L535.5,1258.8 L537.0,1260.2 L538.5,1261.5 L540.0,1262.8 L541.5,1264.1 L543.0,1265.3 L544.5,1266.6 L546.0,1267.8 L547.5,1269.0 L549.0,1270.1 L550.5,1271.2 L552.0,1272.3 L553.5,1273.4 L555.0,1274.4 L556.5,1275.4 L558.0,1276.3 L559.5,1277.3 L561.0,1278.2 L562.5,1279.0 L564.0,1279.8 L565.5,1280.6 L567.0,1281.3 L568.5,1282.1 L570.0,1282.7 L571.5,1283.4 L573.0,1284.0 L574.5,1284.6 L576.0,1285.1 L577.5,1285.6 L579.0,1286.1 L580.5,1286.6 L582.0,1287.1 L583.5,1287.5 L585.0,1288.0 L586.5,1288.4 L588.0,1288.8 L589.5,1289.2 L591.0,1289.6 L592.5,1289.9 L594.0,1290.3 L595.5,1290.7 L597.0,1291.0 L598.5,1291.4 L600.0,1291.7 L601.5,1292.1 L603.0,1292.4 L604.5,1292.7 L606.0,1293.1 L607.5,1293.4 L609.0,1293.7 L610.5,1294.1 L612.0,1294.4 L613.5,1294.7 L615.0,1295.0 L616.5,1295.3 L618.0,1295.6 L619.5,1295.8 L621.0,1296.1 L622.5,1296.3 L624.0,1296.6 L625.5,1296.8 L627.0,1297.0 L628.5,1297.2 L630.0,1297.3 L631.5,1297.5 L632.5,1297.6"/>
<path d="M49.5,1307.3 L51.0,1307.2 L52.5,1307.1 L54.0,1307.0 L55.5,1306.8 L57.0,1306.6 L58.5,1306.5 L60.0,1306.3 L61.5,1306.1 L63.0,1305.9 L64.5,1305.6 L66.0,1305.4 L67.5,1305.1 L69.0,1304.9 L70.5,1304.6 L72.0,1304.3 L73.5,1304.0 L75.0,1303.7 L76.5,1303.3 L78.0,1303.0 L79.5,1302.7 L81.0,1302.3 L82.5,1301.9 L84.0,1301.6 L85.5,1301.2 L87.0,1300.8 L88.5,1300.4 L90.0,1300.0 L91.5,1299.6 L93.0,1299.1 L94.5,1298.7 L96.0,1298.3 L97.5,1297.8 L99.0,1297.3 L100.5,1296.9 L102.0,1296.4 L103.5,1295.9 L105.0,1295.4 L106.5,1294.9 L108.0,1294.3 L109.5,1293.8 L111.0,1293.2 L112.5,1292.6 L114.0,1292.0 L115.5,1291.4 L117.0,1290.8 L118.5,1290.1 L120.0,1289.4 L121.5,1288.7 L123.0,1288.0 L124.5,1287.2 L126.0,1286.5 L127.5,1285.7 L129.0,1284.8 L130.5,1284.0 L132.0,1283.1 L133.5,1282.2 L135.0,1281.3 L136.5,1280.3 L138.0,1279.3 L139.5,1278.3 L141.0,1277.3 L142.5,1276.2 L144.0,1275.1 L145.5,1274.0 L147.0,1272.8 L148.5,1271.6 L150.0,1270.4 L151.5,1269.1 L153.0,1267.7 L154.5,1266.4 L156.0,1264.9 L157.5,1263.4 L159.0,1261.9 L160.5,1260.3 L162.0,1258.6 L163.5,1256.9 L165.0,1255.1 L166.5,1253.3 L168.0,1251.4 L169.5,1249.4 L171.0,1247.3 L172.5,1245.2 L174.0,1243.0 L175.5,1240.8 L177.0,1238.5 L178.5,1236.2 L180.0,1233.8 L181.5,1231.4 L183.0,1228.9 L184.5,1226.4 L186.0,1223.9 L187.5,1221.4 L189.0,1218.8 L190.5,1216.2 L192.0,1213.7 L193.5,1211.1 L195.0,1208.5 L196.5,1205.9 L198.0,1203.3 L199.5,1200.7 L201.0,1198.2 L202.5,1195.6 L204.0,1193.1 L205.5,1190.5 L207.0,1188.0 L208.5,1185.5 L210.0,1182.9 L211.5,1180.4 L213.0,1177.9 L214.5,1175.4 L216.0,1172.9 L217.5,1170.4 L219.0,1167.9 L220.5,1165.4 L222.0,1162.9 L223.5,1160.4 L225.0,1157.9 L226.5,1155.4 L228.0,1152.9 L229.5,1150.4 L231.0,1147.8 L232.5,1145.3 L234.0,1142.8 L235.5,1140.3 L237.0,1137.7 L238.5,1135.2 L240.0,1132.7 L241.5,1130.2 L243.0,1127.7 L244.5,1125.2 L246.0,1122.7 L247.5,1120.2 L249.0,1117.8 L250.5,1115.3 L252.0,1112.9 L253.5,1110.5 L255.0,1108.1 L256.5,1105.7 L258.0,1103.4 L259.5,1101.1 L261.0,1098.8 L262.5,1096.6 L264.0,1094.4 L265.5,1092.2 L267.0,1090.1 L268.5,1088.1 L270.0,1086.1 L271.5,1084.1 L273.0,1082.2 L274.5,1080.3 L276.0,1078.5 L277.5,1076.8 L279.0,1075.1 L280.5,1073.5 L282.0,1072.0 L283.5,1070.5 L285.0,1069.1 L286.5,1067.7 L288.0,1066.4 L289.5,1065.2 L291.0,1064.0 L292.5,1062.9 L294.0,1061.9 L295.5,1060.9 L297.0,1060.0 L298.5,1059.2 L300.0,1058.4 L301.5,1057.7 L303.0,1057.0 L304.5,1056.4 L306.0,1055.9 L307.5,1055.4 L309.0,1054.9 L310.5,1054.6 L312.0,1054.2 L313.5,1053.9 L315.0,1053.7 L316.5,1053.5 L318.0,1053.4 L319.5,1053.2 L321.0,1053.2 L322.5,1053.1 L324.0,1053.0 L325.5,1053.0 L327.0,1053.0 L328.5,1053.0 L330.0,1053.1 L331.5,1053.3 L333.0,1053.4 L334.5,1053.7 L336.0,1054.0 L337.5,1054.3 L339.0,1054.7 L340.5,1055.2 L342.0,1055.7 L343.5,1056.3 L345.0,1057.0 L346.5,1057.6 L348.0,1058.4 L349.5,1059.2 L351.0,1060.0 L352.5,1060.9 L354.0,1061.8 L355.5,1062.7 L357.0,1063.6 L358.5,1064.6 L360.0,1065.6 L361.5,1066.6 L363.0,1067.6 L364.5,1068.6 L366.0,1069.6 L367.5,1070.6 L369.0,1071.6 L370.5,1072.7 L372.0,1073.8 L373.5,1074.9 L375.0,1076.0 L376.5,1077.2 L378.0,1078.4 L379.5,1079.7 L381.0,1081.0 L382.5,1082.4 L384.0,1083.8 L385.5,1085.3 L387.0,1086.9 L388.5,1088.6 L390.0,1090.3 L391.5,1092.0 L393.0,1093.9 L394.5,1095.7 L396.0,1097.7 L397.5,1099.6 L399.0,1101.6 L400.5,1103.7 L402.0,1105.7 L403.5,1107.8 L405.0,1109.9 L406.5,1112.0 L408.0,1114.0 L409.5,1116.1 L411.0,1118.2 L412.5,1120.2 L414.0,1122.3 L415.5,1124.3 L417.0,1126.3 L418.5,1128.3 L420.0,1130.3 L421.5,1132.3 L423.0,1134.3 L424.5,1136.3 L426.0,1138.3 L427.5,1140.3 L429.0,1142.4 L430.5,1144.5 L432.0,1146.6 L433.5,1148.7 L435.0,1150.9 L436.5,1153.0 L438.0,1155.3 L439.5,1157.5 L441.0,1159.8 L442.5,1162.1 L444.0,1164.5 L445.5,1166.9 L447.0,1169.2 L448.5,1171.7 L450.0,1174.1 L451.5,1176.5 L453.0,1178.9 L454.5,1181.4 L456.0,1183.8 L457.5,1186.2 L459.0,1188.6 L460.5,1191.0 L462.0,1193.4 L463.5,1195.7 L465.0,1198.0 L466.5,1200.3 L468.0,1202.6 L469.5,1204.8 L471.0,1207.1 L472.5,1209.3 L474.0,1211.4 L475.5,1213.5 L477.0,1215.7 L478.5,1217.7 L480.0,1219.8 L481.5,1221.8 L483.0,1223.8 L484.5,1225.8 L486.0,1227.7 L487.5,1229.6 L489.0,1231.5 L490.5,1233.4 L492.0,1235.2 L493.5,1237.0 L495.0,1238.8 L496.5,1240.5 L498.0,1242.3 L499.5,1244.0 L501.0,1245.7 L502.5,1247.3 L504.0,1248.9 L505.5,1250.5 L507.0,1252.1 L508.5,1253.7 L510.0,1255.2 L511.5,1256.7 L513.0,1258.2 L514.5,1259.6 L516.0,1261.1 L517.5,1262.5 L519.0,1263.8 L520.5,1265.2 L522.0,1266.5 L523.5,1267.8 L525.0,1269.1 L526.5,1270.3 L528.0,1271.5 L529.5,1272.7 L531.0,1273.9 L532.5,1275.0 L534.0,1276.1 L535.5,1277.2 L537.0,1278.3 L538.5,1279.3 L540.0,1280.3 L541.5,1281.3 L543.0,1282.3 L544.5,1283.2 L546.0,1284.1 L547.5,1285.0 L549.0,1285.9 L550.5,1286.8 L552.0,1287.6 L553.5,1288.4 L555.0,1289.2 L556.5,1289.9 L558.0,1290.6 L559.5,1291.3 L561.0,1292.0 L562.5,1292.7 L564.0,1293.3 L565.5,1293.9 L567.0,1294.5 L568.5,1295.1 L570.0,1295.6 L571.5,1296.2 L573.0,1296.7 L574.5,1297.2 L576.0,1297.6 L577.5,1298.1 L579.0,1298.5 L580.5,1298.9 L582.0,1299.3 L583.5,1299.7 L585.0,1300.1 L586.5,1300.5 L588.0,1300.8 L589.5,1301.1 L591.0,1301.5 L592.5,1301.8 L594.0,1302.1 L595.5,1302.4 L597.0,1302.7 L598.5,1303.0 L600.0,1303.3 L601.5,1303.6 L603.0,1303.9 L604.5,1304.1 L606.0,1304.4 L607.5,1304.6 L609.0,1304.9 L610.5,1305.1 L612.0,1305.4 L613.5,1305.6 L615.0,1305.8 L616.5,1306.1 L618.0,1306.3 L619.5,1306.5 L621.0,1306.7 L622.5,1306.9 L624.0,1307.0 L625.5,1307.2 L627.0,1307.3 L628.5,1307.5 L630.0,1307.6 L631.5,1307.7 L632.5,1307.8"/>
<path d="M49.5,1315.9 L51.0,1315.7 L52.5,1315.6 L54.0,1315.4 L55.5,1315.2 L57.0,1314.9 L58.5,1314.7 L60.0,1314.4 L61.5,1314.1 L63.0,1313.8 L64.5,1313.5 L66.0,1313.1 L67.5,1312.8 L69.0,1312.4 L70.5,1312.0 L72.0,1311.6 L73.5,1311.2 L75.0,1310.8 L76.5,1310.4 L78.0,1309.9 L79.5,1309.5 L81.0,1309.0 L82.5,1308.5 L84.0,1308.1 L85.5,1307.6 L87.0,1307.1 L88.5,1306.6 L90.0,1306.1 L91.5,1305.6 L93.0,1305.0 L94.5,1304.5 L96.0,1304.0 L97.5,1303.4 L99.0,1302.8 L100.5,1302.3 L102.0,1301.7 L103.5,1301.1 L105.0,1300.5 L106.5,1299.9 L108.0,1299.2 L109.5,1298.6 L111.0,1297.9 L112.5,1297.2 L114.0,1296.5 L115.5,1295.8 L117.0,1295.1 L118.5,1294.3 L120.0,1293.5 L121.5,1292.7 L123.0,1291.9 L124.5,1291.0 L126.0,1290.1 L127.5,1289.2 L129.0,1288.2 L130.5,1287.3 L132.0,1286.3 L133.5,1285.2 L135.0,1284.2 L136.5,1283.1 L138.0,1282.0 L139.5,1280.8 L141.0,1279.6 L142.5,1278.4 L144.0,1277.2 L145.5,1275.9 L147.0,1274.6 L148.5,1273.3 L150.0,1271.9 L151.5,1270.5 L153.0,1269.0 L154.5,1267.6 L156.0,1266.0 L157.5,1264.4 L159.0,1262.8 L160.5,1261.1 L162.0,1259.4 L163.5,1257.6 L165.0,1255.8 L166.5,1253.9 L168.0,1252.0 L169.5,1250.0 L171.0,1248.0 L172.5,1245.9 L174.0,1243.8 L175.5,1241.6 L177.0,1239.4 L178.5,1237.2 L180.0,1234.9 L181.5,1232.6 L183.0,1230.2 L184.5,1227.8 L186.0,1225.4 L187.5,1222.9 L189.0,1220.5 L190.5,1218.0 L192.0,1215.5 L193.5,1213.0 L195.0,1210.5 L196.5,1208.0 L198.0,1205.5 L199.5,1203.0 L201.0,1200.5 L202.5,1198.0 L204.0,1195.5 L205.5,1192.9 L207.0,1190.4 L208.5,1187.9 L210.0,1185.4 L211.5,1182.9 L213.0,1180.4 L214.5,1177.9 L216.0,1175.4 L217.5,1172.9 L219.0,1170.4 L220.5,1167.9 L222.0,1165.4 L223.5,1162.9 L225.0,1160.3 L226.5,1157.8 L228.0,1155.3 L229.5,1152.8 L231.0,1150.3 L232.5,1147.8 L234.0,1145.3 L235.5,1142.9 L237.0,1140.4 L238.5,1137.9 L240.0,1135.5 L241.5,1133.0 L243.0,1130.6 L244.5,1128.1 L246.0,1125.7 L247.5,1123.4 L249.0,1121.0 L250.5,1118.6 L252.0,1116.3 L253.5,1114.0 L255.0,1111.7 L256.5,1109.5 L258.0,1107.3 L259.5,1105.1 L261.0,1103.0 L262.5,1100.9 L264.0,1098.8 L265.5,1096.8 L267.0,1094.9 L268.5,1093.0 L270.0,1091.1 L271.5,1089.3 L273.0,1087.6 L274.5,1085.9 L276.0,1084.3 L277.5,1082.7 L279.0,1081.2 L280.5,1079.7 L282.0,1078.3 L283.5,1077.0 L285.0,1075.8 L286.5,1074.6 L288.0,1073.4 L289.5,1072.4 L291.0,1071.3 L292.5,1070.4 L294.0,1069.5 L295.5,1068.7 L297.0,1067.9 L298.5,1067.3 L300.0,1066.6 L301.5,1066.1 L303.0,1065.6 L304.5,1065.2 L306.0,1064.8 L307.5,1064.6 L309.0,1064.4 L310.5,1064.2 L312.0,1064.2 L313.5,1064.2 L315.0,1064.2 L316.5,1064.2 L318.0,1064.3 L319.5,1064.5 L321.0,1064.6 L322.5,1064.9 L324.0,1065.2 L325.5,1065.5 L327.0,1065.9 L328.5,1066.3 L330.0,1066.8 L331.5,1067.3 L333.0,1067.9 L334.5,1068.5 L336.0,1069.1 L337.5,1069.8 L339.0,1070.5 L340.5,1071.2 L342.0,1071.9 L343.5,1072.7 L345.0,1073.5 L346.5,1074.3 L348.0,1075.1 L349.5,1075.9 L351.0,1076.8 L352.5,1077.7 L354.0,1078.6 L355.5,1079.5 L357.0,1080.4 L358.5,1081.4 L360.0,1082.4 L361.5,1083.5 L363.0,1084.6 L364.5,1085.7 L366.0,1086.9 L367.5,1088.1 L369.0,1089.4 L370.5,1090.8 L372.0,1092.2 L373.5,1093.6 L375.0,1095.1 L376.5,1096.7 L378.0,1098.3 L379.5,1100.0 L381.0,1101.7 L382.5,1103.4 L384.0,1105.2 L385.5,1107.1 L387.0,1108.9 L388.5,1110.9 L390.0,1112.8 L391.5,1114.8 L393.0,1116.8 L394.5,1118.8 L396.0,1120.8 L397.5,1122.8 L399.0,1124.9 L400.5,1127.0 L402.0,1129.0 L403.5,1131.1 L405.0,1133.2 L406.5,1135.3 L408.0,1137.4 L409.5,1139.5 L411.0,1141.6 L412.5,1143.7 L414.0,1145.8 L415.5,1147.9 L417.0,1150.0 L418.5,1152.1 L420.0,1154.2 L421.5,1156.3 L423.0,1158.5 L424.5,1160.6 L426.0,1162.7 L427.5,1164.9 L429.0,1167.0 L430.5,1169.2 L432.0,1171.4 L433.5,1173.5 L435.0,1175.7 L436.5,1177.9 L438.0,1180.1 L439.5,1182.3 L441.0,1184.5 L442.5,1186.7 L444.0,1188.9 L445.5,1191.1 L447.0,1193.3 L448.5,1195.5 L450.0,1197.7 L451.5,1199.9 L453.0,1202.1 L454.5,1204.3 L456.0,1206.4 L457.5,1208.6 L459.0,1210.8 L460.5,1212.9 L462.0,1215.1 L463.5,1217.2 L465.0,1219.3 L466.5,1221.4 L468.0,1223.5 L469.5,1225.5 L471.0,1227.5 L472.5,1229.6 L474.0,1231.5 L475.5,1233.5 L477.0,1235.5 L478.5,1237.4 L480.0,1239.3 L481.5,1241.1 L483.0,1243.0 L484.5,1244.8 L486.0,1246.6 L487.5,1248.3 L489.0,1250.0 L490.5,1251.7 L492.0,1253.4 L493.5,1255.1 L495.0,1256.7 L496.5,1258.3 L498.0,1259.9 L499.5,1261.4 L501.0,1262.9 L502.5,1264.4 L504.0,1265.9 L505.5,1267.4 L507.0,1268.8 L508.5,1270.2 L510.0,1271.5 L511.5,1272.9 L513.0,1274.2 L514.5,1275.5 L516.0,1276.8 L517.5,1278.0 L519.0,1279.2 L520.5,1280.4 L522.0,1281.6 L523.5,1282.8 L525.0,1283.9 L526.5,1285.0 L528.0,1286.1 L529.5,1287.1 L531.0,1288.2 L532.5,1289.2 L534.0,1290.2 L535.5,1291.1 L537.0,1292.1 L538.5,1293.0 L540.0,1293.9 L541.5,1294.8 L543.0,1295.7 L544.5,1296.5 L546.0,1297.4 L547.5,1298.2 L549.0,1299.0 L550.5,1299.7 L552.0,1300.5 L553.5,1301.2 L555.0,1301.9 L556.5,1302.6 L558.0,1303.2 L559.5,1303.8 L561.0,1304.5 L562.5,1305.0 L564.0,1305.6 L565.5,1306.1 L567.0,1306.7 L568.5,1307.2 L570.0,1307.7 L571.5,1308.1 L573.0,1308.6 L574.5,1309.0 L576.0,1309.4 L577.5,1309.8 L579.0,1310.1 L580.5,1310.5 L582.0,1310.9 L583.5,1311.2 L585.0,1311.5 L586.5,1311.8 L588.0,1312.1 L589.5,1312.4 L591.0,1312.7 L592.5,1313.0 L594.0,1313.3 L595.5,1313.5 L597.0,1313.8 L598.5,1314.1 L600.0,1314.3 L601.5,1314.6 L603.0,1314.8 L604.5,1315.1 L606.0,1315.3 L607.5,1315.6 L609.0,1315.8 L610.5,1316.0 L612.0,1316.3 L613.5,1316.5 L615.0,1316.7 L616.5,1316.9 L618.0,1317.1 L619.5,1317.3 L621.0,1317.5 L622.5,1317.7 L624.0,1317.8 L625.5,1318.0 L627.0,1318.1 L628.5,1318.3 L630.0,1318.4 L631.5,1318.5 L632.5,1318.6"/>
<path d="M49.5,1326.1 L51.0,1325.9 L52.5,1325.7 L54.0,1325.6 L55.5,1325.4 L57.0,1325.1 L58.5,1324.9 L60.0,1324.7 L61.5,1324.4 L63.0,1324.1 L64.5,1323.8 L66.0,1323.5 L67.5,1323.2 L69.0,1322.9 L70.5,1322.6 L72.0,1322.3 L73.5,1322.0 L75.0,1321.7 L76.5,1321.3 L78.0,1321.0 L79.5,1320.6 L81.0,1320.3 L82.5,1319.9 L84.0,1319.6 L85.5,1319.2 L87.0,1318.8 L88.5,1318.3 L90.0,1317.9 L91.5,1317.5 L93.0,1317.0 L94.5,1316.5 L96.0,1315.9 L97.5,1315.4 L99.0,1314.8 L100.5,1314.1 L102.0,1313.5 L103.5,1312.8 L105.0,1312.1 L106.5,1311.3 L108.0,1310.5 L109.5,1309.7 L111.0,1308.9 L112.5,1308.0 L114.0,1307.0 L115.5,1306.1 L117.0,1305.1 L118.5,1304.1 L120.0,1303.1 L121.5,1302.0 L123.0,1300.9 L124.5,1299.8 L126.0,1298.6 L127.5,1297.4 L129.0,1296.2 L130.5,1295.0 L132.0,1293.7 L133.5,1292.4 L135.0,1291.1 L136.5,1289.7 L138.0,1288.3 L139.5,1286.9 L141.0,1285.4 L142.5,1283.9 L144.0,1282.4 L145.5,1280.8 L147.0,1279.2 L148.5,1277.6 L150.0,1275.9 L151.5,1274.2 L153.0,1272.5 L154.5,1270.8 L156.0,1269.0 L157.5,1267.2 L159.0,1265.4 L160.5,1263.5 L162.0,1261.7 L163.5,1259.8 L165.0,1257.9 L166.5,1255.9 L168.0,1254.0 L169.5,1252.0 L171.0,1250.0 L172.5,1248.0 L174.0,1246.0 L175.5,1243.9 L177.0,1241.8 L178.5,1239.7 L180.0,1237.6 L181.5,1235.5 L183.0,1233.3 L184.5,1231.1 L186.0,1228.9 L187.5,1226.6 L189.0,1224.4 L190.5,1222.1 L192.0,1219.7 L193.5,1217.4 L195.0,1215.0 L196.5,1212.6 L198.0,1210.2 L199.5,1207.8 L201.0,1205.3 L202.5,1202.8 L204.0,1200.3 L205.5,1197.8 L207.0,1195.3 L208.5,1192.8 L210.0,1190.2 L211.5,1187.7 L213.0,1185.1 L214.5,1182.6 L216.0,1180.0 L217.5,1177.5 L219.0,1174.9 L220.5,1172.4 L222.0,1169.8 L223.5,1167.3 L225.0,1164.8 L226.5,1162.3 L228.0,1159.8 L229.5,1157.3 L231.0,1154.9 L232.5,1152.4 L234.0,1150.0 L235.5,1147.6 L237.0,1145.2 L238.5,1142.8 L240.0,1140.4 L241.5,1138.1 L243.0,1135.8 L244.5,1133.5 L246.0,1131.2 L247.5,1128.9 L249.0,1126.7 L250.5,1124.5 L252.0,1122.3 L253.5,1120.2 L255.0,1118.1 L256.5,1116.0 L258.0,1113.9 L259.5,1111.9 L261.0,1109.9 L262.5,1107.9 L264.0,1106.0 L265.5,1104.1 L267.0,1102.3 L268.5,1100.5 L270.0,1098.7 L271.5,1097.0 L273.0,1095.4 L274.5,1093.8 L276.0,1092.2 L277.5,1090.8 L279.0,1089.3 L280.5,1087.9 L282.0,1086.6 L283.5,1085.4 L285.0,1084.2 L286.5,1083.1 L288.0,1082.0 L289.5,1081.0 L291.0,1080.1 L292.5,1079.2 L294.0,1078.5 L295.5,1077.7 L297.0,1077.1 L298.5,1076.5 L300.0,1076.0 L301.5,1075.6 L303.0,1075.3 L304.5,1075.0 L306.0,1074.7 L307.5,1074.6 L309.0,1074.5 L310.5,1074.4 L312.0,1074.4 L313.5,1074.4 L315.0,1074.5 L316.5,1074.6 L318.0,1074.7 L319.5,1074.9 L321.0,1075.1 L322.5,1075.3 L324.0,1075.5 L325.5,1075.8 L327.0,1076.2 L328.5,1076.5 L330.0,1077.0 L331.5,1077.4 L333.0,1077.9 L334.5,1078.5 L336.0,1079.1 L337.5,1079.8 L339.0,1080.5 L340.5,1081.3 L342.0,1082.1 L343.5,1083.0 L345.0,1083.9 L346.5,1084.9 L348.0,1085.9 L349.5,1086.9 L351.0,1088.0 L352.5,1089.1 L354.0,1090.2 L355.5,1091.4 L357.0,1092.6 L358.5,1093.8 L360.0,1095.0 L361.5,1096.2 L363.0,1097.5 L364.5,1098.7 L366.0,1100.0 L367.5,1101.3 L369.0,1102.6 L370.5,1103.9 L372.0,1105.3 L373.5,1106.7 L375.0,1108.1 L376.5,1109.5 L378.0,1111.0 L379.5,1112.5 L381.0,1114.0 L382.5,1115.6 L384.0,1117.2 L385.5,1118.9 L387.0,1120.6 L388.5,1122.3 L390.0,1124.1 L391.5,1125.9 L393.0,1127.8 L394.5,1129.7 L396.0,1131.6 L397.5,1133.6 L399.0,1135.5 L400.5,1137.6 L402.0,1139.6 L403.5,1141.7 L405.0,1143.8 L406.5,1145.9 L408.0,1148.1 L409.5,1150.3 L411.0,1152.5 L412.5,1154.7 L414.0,1157.0 L415.5,1159.3 L417.0,1161.6 L418.5,1163.9 L420.0,1166.3 L421.5,1168.6 L423.0,1171.0 L424.5,1173.4 L426.0,1175.7 L427.5,1178.1 L429.0,1180.5 L430.5,1182.9 L432.0,1185.2 L433.5,1187.6 L435.0,1189.9 L436.5,1192.2 L438.0,1194.5 L439.5,1196.8 L441.0,1199.0 L442.5,1201.2 L444.0,1203.4 L445.5,1205.5 L447.0,1207.6 L448.5,1209.7 L450.0,1211.8 L451.5,1213.8 L453.0,1215.8 L454.5,1217.7 L456.0,1219.7 L457.5,1221.6 L459.0,1223.5 L460.5,1225.4 L462.0,1227.3 L463.5,1229.1 L465.0,1231.0 L466.5,1232.9 L468.0,1234.7 L469.5,1236.5 L471.0,1238.4 L472.5,1240.2 L474.0,1242.0 L475.5,1243.9 L477.0,1245.7 L478.5,1247.5 L480.0,1249.3 L481.5,1251.1 L483.0,1252.9 L484.5,1254.6 L486.0,1256.4 L487.5,1258.1 L489.0,1259.8 L490.5,1261.5 L492.0,1263.2 L493.5,1264.8 L495.0,1266.4 L496.5,1268.0 L498.0,1269.6 L499.5,1271.1 L501.0,1272.7 L502.5,1274.1 L504.0,1275.6 L505.5,1277.0 L507.0,1278.4 L508.5,1279.8 L510.0,1281.1 L511.5,1282.5 L513.0,1283.7 L514.5,1285.0 L516.0,1286.2 L517.5,1287.5 L519.0,1288.6 L520.5,1289.8 L522.0,1290.9 L523.5,1292.0 L525.0,1293.1 L526.5,1294.2 L528.0,1295.2 L529.5,1296.2 L531.0,1297.2 L532.5,1298.2 L534.0,1299.1 L535.5,1300.0 L537.0,1300.9 L538.5,1301.8 L540.0,1302.6 L541.5,1303.4 L543.0,1304.2 L544.5,1305.0 L546.0,1305.8 L547.5,1306.5 L549.0,1307.2 L550.5,1307.9 L552.0,1308.6 L553.5,1309.3 L555.0,1309.9 L556.5,1310.6 L558.0,1311.2 L559.5,1311.8 L561.0,1312.4 L562.5,1313.0 L564.0,1313.5 L565.5,1314.1 L567.0,1314.6 L568.5,1315.1 L570.0,1315.6 L571.5,1316.2 L573.0,1316.6 L574.5,1317.1 L576.0,1317.6 L577.5,1318.0 L579.0,1318.5 L580.5,1318.9 L582.0,1319.4 L583.5,1319.8 L585.0,1320.2 L586.5,1320.6 L588.0,1320.9 L589.5,1321.3 L591.0,1321.7 L592.5,1322.0 L594.0,1322.4 L595.5,1322.7 L597.0,1323.0 L598.5,1323.4 L600.0,1323.7 L601.5,1324.0 L603.0,1324.3 L604.5,1324.6 L606.0,1324.9 L607.5,1325.2 L609.0,1325.5 L610.5,1325.8 L612.0,1326.0 L613.5,1326.3 L615.0,1326.6 L616.5,1326.8 L618.0,1327.0 L619.5,1327.3 L621.0,1327.5 L622.5,1327.7 L624.0,1327.9 L625.5,1328.1 L627.0,1328.3 L628.5,1328.4 L630.0,1328.6 L631.5,1328.7 L632.5,1328.8"/>
<path d="M49.5,1332.9 L51.0,1332.8 L52.5,1332.6 L54.0,1332.4 L55.5,1332.1 L57.0,1331.9 L58.5,1331.6 L60.0,1331.3 L61.5,1331.0 L63.0,1330.7 L64.5,1330.4 L66.0,1330.0 L67.5,1329.7 L69.0,1329.4 L70.5,1329.0 L72.0,1328.7 L73.5,1328.3 L75.0,1327.9 L76.5,1327.6 L78.0,1327.2 L79.5,1326.8 L81.0,1326.5 L82.5,1326.1 L84.0,1325.7 L85.5,1325.3 L87.0,1324.9 L88.5,1324.4 L90.0,1324.0 L91.5,1323.5 L93.0,1323.0 L94.5,1322.4 L96.0,1321.9 L97.5,1321.3 L99.0,1320.6 L100.5,1319.9 L102.0,1319.2 L103.5,1318.5 L105.0,1317.7 L106.5,1316.8 L108.0,1316.0 L109.5,1315.0 L111.0,1314.1 L112.5,1313.1 L114.0,1312.1 L115.5,1311.0 L117.0,1310.0 L118.5,1308.8 L120.0,1307.7 L121.5,1306.5 L123.0,1305.3 L124.5,1304.1 L126.0,1302.8 L127.5,1301.5 L129.0,1300.1 L130.5,1298.8 L132.0,1297.4 L133.5,1295.9 L135.0,1294.5 L136.5,1293.0 L138.0,1291.4 L139.5,1289.9 L141.0,1288.3 L142.5,1286.6 L144.0,1284.9 L145.5,1283.2 L147.0,1281.5 L148.5,1279.7 L150.0,1277.9 L151.5,1276.1 L153.0,1274.3 L154.5,1272.4 L156.0,1270.5 L157.5,1268.6 L159.0,1266.8 L160.5,1264.9 L162.0,1263.0 L163.5,1261.1 L165.0,1259.1 L166.5,1257.3 L168.0,1255.4 L169.5,1253.5 L171.0,1251.6 L172.5,1249.7 L174.0,1247.8 L175.5,1245.9 L177.0,1244.0 L178.5,1242.1 L180.0,1240.1 L181.5,1238.2 L183.0,1236.3 L184.5,1234.3 L186.0,1232.3 L187.5,1230.2 L189.0,1228.2 L190.5,1226.1 L192.0,1223.9 L193.5,1221.8 L195.0,1219.6 L196.5,1217.3 L198.0,1215.0 L199.5,1212.7 L201.0,1210.3 L202.5,1208.0 L204.0,1205.5 L205.5,1203.1 L207.0,1200.6 L208.5,1198.1 L210.0,1195.6 L211.5,1193.0 L213.0,1190.5 L214.5,1187.9 L216.0,1185.4 L217.5,1182.8 L219.0,1180.3 L220.5,1177.7 L222.0,1175.2 L223.5,1172.6 L225.0,1170.1 L226.5,1167.6 L228.0,1165.1 L229.5,1162.7 L231.0,1160.2 L232.5,1157.8 L234.0,1155.4 L235.5,1153.0 L237.0,1150.7 L238.5,1148.3 L240.0,1146.0 L241.5,1143.8 L243.0,1141.5 L244.5,1139.3 L246.0,1137.0 L247.5,1134.8 L249.0,1132.7 L250.5,1130.5 L252.0,1128.4 L253.5,1126.3 L255.0,1124.3 L256.5,1122.3 L258.0,1120.3 L259.5,1118.3 L261.0,1116.4 L262.5,1114.5 L264.0,1112.7 L265.5,1110.9 L267.0,1109.1 L268.5,1107.4 L270.0,1105.8 L271.5,1104.2 L273.0,1102.6 L274.5,1101.2 L276.0,1099.7 L277.5,1098.3 L279.0,1097.0 L280.5,1095.7 L282.0,1094.5 L283.5,1093.4 L285.0,1092.3 L286.5,1091.3 L288.0,1090.3 L289.5,1089.4 L291.0,1088.5 L292.5,1087.8 L294.0,1087.0 L295.5,1086.4 L297.0,1085.8 L298.5,1085.3 L300.0,1084.8 L301.5,1084.4 L303.0,1084.1 L304.5,1083.9 L306.0,1083.7 L307.5,1083.5 L309.0,1083.5 L310.5,1083.5 L312.0,1083.5 L313.5,1083.6 L315.0,1083.8 L316.5,1084.0 L318.0,1084.3 L319.5,1084.6 L321.0,1085.0 L322.5,1085.4 L324.0,1085.9 L325.5,1086.4 L327.0,1087.0 L328.5,1087.6 L330.0,1088.3 L331.5,1089.0 L333.0,1089.7 L334.5,1090.5 L336.0,1091.3 L337.5,1092.2 L339.0,1093.1 L340.5,1094.0 L342.0,1095.0 L343.5,1096.0 L345.0,1097.1 L346.5,1098.2 L348.0,1099.3 L349.5,1100.5 L351.0,1101.7 L352.5,1102.9 L354.0,1104.2 L355.5,1105.5 L357.0,1106.8 L358.5,1108.2 L360.0,1109.6 L361.5,1111.0 L363.0,1112.4 L364.5,1113.9 L366.0,1115.4 L367.5,1116.9 L369.0,1118.5 L370.5,1120.1 L372.0,1121.7 L373.5,1123.3 L375.0,1125.0 L376.5,1126.7 L378.0,1128.4 L379.5,1130.1 L381.0,1131.9 L382.5,1133.7 L384.0,1135.6 L385.5,1137.4 L387.0,1139.4 L388.5,1141.3 L390.0,1143.3 L391.5,1145.3 L393.0,1147.3 L394.5,1149.4 L396.0,1151.5 L397.5,1153.7 L399.0,1155.8 L400.5,1158.0 L402.0,1160.3 L403.5,1162.5 L405.0,1164.8 L406.5,1167.1 L408.0,1169.4 L409.5,1171.7 L411.0,1174.0 L412.5,1176.4 L414.0,1178.8 L415.5,1181.1 L417.0,1183.5 L418.5,1185.8 L420.0,1188.2 L421.5,1190.5 L423.0,1192.9 L424.5,1195.2 L426.0,1197.5 L427.5,1199.8 L429.0,1202.0 L430.5,1204.3 L432.0,1206.5 L433.5,1208.7 L435.0,1210.8 L436.5,1212.9 L438.0,1215.0 L439.5,1217.1 L441.0,1219.1 L442.5,1221.0 L444.0,1223.0 L445.5,1224.9 L447.0,1226.7 L448.5,1228.6 L450.0,1230.4 L451.5,1232.1 L453.0,1233.9 L454.5,1235.6 L456.0,1237.3 L457.5,1239.0 L459.0,1240.6 L460.5,1242.3 L462.0,1243.9 L463.5,1245.6 L465.0,1247.2 L466.5,1248.9 L468.0,1250.6 L469.5,1252.2 L471.0,1253.9 L472.5,1255.6 L474.0,1257.3 L475.5,1259.0 L477.0,1260.7 L478.5,1262.3 L480.0,1264.0 L481.5,1265.7 L483.0,1267.4 L484.5,1269.1 L486.0,1270.7 L487.5,1272.4 L489.0,1274.0 L490.5,1275.6 L492.0,1277.2 L493.5,1278.7 L495.0,1280.3 L496.5,1281.8 L498.0,1283.2 L499.5,1284.7 L501.0,1286.1 L502.5,1287.5 L504.0,1288.8 L505.5,1290.1 L507.0,1291.4 L508.5,1292.7 L510.0,1293.9 L511.5,1295.1 L513.0,1296.3 L514.5,1297.5 L516.0,1298.6 L517.5,1299.7 L519.0,1300.8 L520.5,1301.8 L522.0,1302.8 L523.5,1303.8 L525.0,1304.8 L526.5,1305.8 L528.0,1306.7 L529.5,1307.7 L531.0,1308.6 L532.5,1309.4 L534.0,1310.3 L535.5,1311.1 L537.0,1312.0 L538.5,1312.8 L540.0,1313.6 L541.5,1314.3 L543.0,1315.1 L544.5,1315.8 L546.0,1316.5 L547.5,1317.2 L549.0,1317.9 L550.5,1318.6 L552.0,1319.2 L553.5,1319.9 L555.0,1320.5 L556.5,1321.1 L558.0,1321.7 L559.5,1322.3 L561.0,1322.8 L562.5,1323.4 L564.0,1323.9 L565.5,1324.4 L567.0,1324.9 L568.5,1325.4 L570.0,1325.9 L571.5,1326.3 L573.0,1326.8 L574.5,1327.2 L576.0,1327.6 L577.5,1328.0 L579.0,1328.4 L580.5,1328.8 L582.0,1329.2 L583.5,1329.6 L585.0,1329.9 L586.5,1330.3 L588.0,1330.6 L589.5,1331.0 L591.0,1331.3 L592.5,1331.6 L594.0,1332.0 L595.5,1332.3 L597.0,1332.6 L598.5,1332.9 L600.0,1333.2 L601.5,1333.5 L603.0,1333.8 L604.5,1334.1 L606.0,1334.4 L607.5,1334.7 L609.0,1335.0 L610.5,1335.3 L612.0,1335.6 L613.5,1335.9 L615.0,1336.2 L616.5,1336.4 L618.0,1336.7 L619.5,1337.0 L621.0,1337.2 L622.5,1337.4 L624.0,1337.7 L625.5,1337.9 L627.0,1338.0 L628.5,1338.2 L630.0,1338.4 L631.5,1338.5 L632.5,1338.6"/>
<path d="M49.5,1345.0 L51.0,1344.8 L52.5,1344.5 L54.0,1344.2 L55.5,1343.9 L57.0,1343.6 L58.5,1343.2 L60.0,1342.8 L61.5,1342.4 L63.0,1342.0 L64.5,1341.5 L66.0,1341.1 L67.5,1340.6 L69.0,1340.1 L70.5,1339.6 L72.0,1339.1 L73.5,1338.6 L75.0,1338.1 L76.5,1337.6 L78.0,1337.0 L79.5,1336.5 L81.0,1336.0 L82.5,1335.4 L84.0,1334.9 L85.5,1334.3 L87.0,1333.8 L88.5,1333.2 L90.0,1332.5 L91.5,1331.9 L93.0,1331.2 L94.5,1330.6 L96.0,1329.8 L97.5,1329.1 L99.0,1328.3 L100.5,1327.5 L102.0,1326.7 L103.5,1325.8 L105.0,1324.9 L106.5,1323.9 L108.0,1322.9 L109.5,1321.9 L111.0,1320.8 L112.5,1319.7 L114.0,1318.6 L115.5,1317.4 L117.0,1316.2 L118.5,1314.9 L120.0,1313.7 L121.5,1312.4 L123.0,1311.0 L124.5,1309.6 L126.0,1308.2 L127.5,1306.7 L129.0,1305.3 L130.5,1303.7 L132.0,1302.2 L133.5,1300.5 L135.0,1298.9 L136.5,1297.2 L138.0,1295.5 L139.5,1293.7 L141.0,1291.9 L142.5,1290.0 L144.0,1288.2 L145.5,1286.2 L147.0,1284.3 L148.5,1282.3 L150.0,1280.3 L151.5,1278.3 L153.0,1276.3 L154.5,1274.2 L156.0,1272.2 L157.5,1270.1 L159.0,1268.1 L160.5,1266.0 L162.0,1264.0 L163.5,1262.0 L165.0,1260.0 L166.5,1258.0 L168.0,1256.1 L169.5,1254.1 L171.0,1252.2 L172.5,1250.3 L174.0,1248.4 L175.5,1246.6 L177.0,1244.7 L178.5,1242.9 L180.0,1241.0 L181.5,1239.2 L183.0,1237.3 L184.5,1235.4 L186.0,1233.5 L187.5,1231.6 L189.0,1229.6 L190.5,1227.6 L192.0,1225.5 L193.5,1223.5 L195.0,1221.3 L196.5,1219.1 L198.0,1216.9 L199.5,1214.6 L201.0,1212.3 L202.5,1210.0 L204.0,1207.6 L205.5,1205.1 L207.0,1202.7 L208.5,1200.2 L210.0,1197.6 L211.5,1195.1 L213.0,1192.6 L214.5,1190.0 L216.0,1187.4 L217.5,1184.9 L219.0,1182.3 L220.5,1179.8 L222.0,1177.3 L223.5,1174.8 L225.0,1172.3 L226.5,1169.8 L228.0,1167.4 L229.5,1165.0 L231.0,1162.6 L232.5,1160.3 L234.0,1158.0 L235.5,1155.7 L237.0,1153.5 L238.5,1151.3 L240.0,1149.1 L241.5,1146.9 L243.0,1144.8 L244.5,1142.7 L246.0,1140.7 L247.5,1138.6 L249.0,1136.6 L250.5,1134.6 L252.0,1132.7 L253.5,1130.8 L255.0,1128.9 L256.5,1127.0 L258.0,1125.2 L259.5,1123.4 L261.0,1121.6 L262.5,1119.8 L264.0,1118.1 L265.5,1116.5 L267.0,1114.9 L268.5,1113.3 L270.0,1111.7 L271.5,1110.3 L273.0,1108.8 L274.5,1107.5 L276.0,1106.2 L277.5,1104.9 L279.0,1103.7 L280.5,1102.6 L282.0,1101.6 L283.5,1100.6 L285.0,1099.7 L286.5,1098.8 L288.0,1098.1 L289.5,1097.4 L291.0,1096.7 L292.5,1096.2 L294.0,1095.7 L295.5,1095.3 L297.0,1094.9 L298.5,1094.6 L300.0,1094.4 L301.5,1094.2 L303.0,1094.1 L304.5,1094.0 L306.0,1093.9 L307.5,1093.9 L309.0,1093.9 L310.5,1094.0 L312.0,1094.1 L313.5,1094.2 L315.0,1094.3 L316.5,1094.4 L318.0,1094.5 L319.5,1094.6 L321.0,1094.7 L322.5,1094.9 L324.0,1095.1 L325.5,1095.4 L327.0,1095.7 L328.5,1096.0 L330.0,1096.4 L331.5,1096.9 L333.0,1097.3 L334.5,1097.9 L336.0,1098.4 L337.5,1099.0 L339.0,1099.6 L340.5,1100.3 L342.0,1101.1 L343.5,1101.9 L345.0,1102.8 L346.5,1103.7 L348.0,1104.7 L349.5,1105.8 L351.0,1106.9 L352.5,1108.1 L354.0,1109.5 L355.5,1110.9 L357.0,1112.4 L358.5,1114.0 L360.0,1115.7 L361.5,1117.4 L363.0,1119.3 L364.5,1121.3 L366.0,1123.3 L367.5,1125.4 L369.0,1127.5 L370.5,1129.7 L372.0,1132.0 L373.5,1134.2 L375.0,1136.5 L376.5,1138.9 L378.0,1141.2 L379.5,1143.5 L381.0,1145.8 L382.5,1148.0 L384.0,1150.3 L385.5,1152.5 L387.0,1154.6 L388.5,1156.8 L390.0,1158.9 L391.5,1160.9 L393.0,1163.0 L394.5,1165.0 L396.0,1167.0 L397.5,1168.9 L399.0,1170.9 L400.5,1172.9 L402.0,1174.8 L403.5,1176.8 L405.0,1178.8 L406.5,1180.8 L408.0,1182.8 L409.5,1184.9 L411.0,1187.0 L412.5,1189.1 L414.0,1191.3 L415.5,1193.5 L417.0,1195.7 L418.5,1197.9 L420.0,1200.2 L421.5,1202.5 L423.0,1204.7 L424.5,1207.0 L426.0,1209.3 L427.5,1211.6 L429.0,1213.9 L430.5,1216.1 L432.0,1218.4 L433.5,1220.6 L435.0,1222.8 L436.5,1224.9 L438.0,1227.1 L439.5,1229.2 L441.0,1231.3 L442.5,1233.3 L444.0,1235.4 L445.5,1237.4 L447.0,1239.4 L448.5,1241.4 L450.0,1243.3 L451.5,1245.3 L453.0,1247.2 L454.5,1249.2 L456.0,1251.1 L457.5,1253.0 L459.0,1254.9 L460.5,1256.8 L462.0,1258.7 L463.5,1260.6 L465.0,1262.4 L466.5,1264.3 L468.0,1266.1 L469.5,1268.0 L471.0,1269.8 L472.5,1271.6 L474.0,1273.4 L475.5,1275.1 L477.0,1276.9 L478.5,1278.6 L480.0,1280.3 L481.5,1281.9 L483.0,1283.6 L484.5,1285.2 L486.0,1286.7 L487.5,1288.3 L489.0,1289.8 L490.5,1291.3 L492.0,1292.8 L493.5,1294.2 L495.0,1295.6 L496.5,1297.0 L498.0,1298.4 L499.5,1299.7 L501.0,1301.0 L502.5,1302.3 L504.0,1303.6 L505.5,1304.8 L507.0,1306.0 L508.5,1307.2 L510.0,1308.4 L511.5,1309.5 L513.0,1310.6 L514.5,1311.7 L516.0,1312.8 L517.5,1313.8 L519.0,1314.9 L520.5,1315.9 L522.0,1316.9 L523.5,1317.9 L525.0,1318.8 L526.5,1319.8 L528.0,1320.7 L529.5,1321.6 L531.0,1322.5 L532.5,1323.3 L534.0,1324.2 L535.5,1325.0 L537.0,1325.8 L538.5,1326.6 L540.0,1327.4 L541.5,1328.2 L543.0,1329.0 L544.5,1329.7 L546.0,1330.4 L547.5,1331.1 L549.0,1331.8 L550.5,1332.5 L552.0,1333.2 L553.5,1333.8 L555.0,1334.4 L556.5,1335.0 L558.0,1335.6 L559.5,1336.2 L561.0,1336.7 L562.5,1337.3 L564.0,1337.8 L565.5,1338.3 L567.0,1338.7 L568.5,1339.2 L570.0,1339.6 L571.5,1340.0 L573.0,1340.4 L574.5,1340.8 L576.0,1341.2 L577.5,1341.6 L579.0,1341.9 L580.5,1342.2 L582.0,1342.6 L583.5,1342.9 L585.0,1343.2 L586.5,1343.5 L588.0,1343.8 L589.5,1344.1 L591.0,1344.4 L592.5,1344.6 L594.0,1344.9 L595.5,1345.2 L597.0,1345.5 L598.5,1345.8 L600.0,1346.0 L601.5,1346.3 L603.0,1346.6 L604.5,1346.9 L606.0,1347.2 L607.5,1347.4 L609.0,1347.7 L610.5,1348.0 L612.0,1348.3 L613.5,1348.5 L615.0,1348.8 L616.5,1349.0 L618.0,1349.3 L619.5,1349.5 L621.0,1349.8 L622.5,1350.0 L624.0,1350.2 L625.5,1350.4 L627.0,1350.6 L628.5,1350.8 L630.0,1350.9 L631.5,1351.0 L632.5,1351.1"/>
<path d="M49.5,1354.7 L51.0,1354.5 L52.5,1354.3 L54.0,1354.1 L55.5,1353.8 L57.0,1353.5 L58.5,1353.3 L60.0,1352.9 L61.5,1352.6 L63.0,1352.3 L64.5,1351.9 L66.0,1351.5 L67.5,1351.1 L69.0,1350.7 L70.5,1350.3 L72.0,1349.9 L73.5,1349.5 L75.0,1349.0 L76.5,1348.6 L78.0,1348.1 L79.5,1347.6 L81.0,1347.1 L82.5,1346.6 L84.0,1346.1 L85.5,1345.6 L87.0,1345.0 L88.5,1344.5 L90.0,1343.9 L91.5,1343.3 L93.0,1342.7 L94.5,1342.1 L96.0,1341.4 L97.5,1340.7 L99.0,1340.0 L100.5,1339.3 L102.0,1338.5 L103.5,1337.8 L105.0,1337.0 L106.5,1336.2 L108.0,1335.4 L109.5,1334.5 L111.0,1333.7 L112.5,1332.8 L114.0,1331.9 L115.5,1331.0 L117.0,1330.1 L118.5,1329.1 L120.0,1328.2 L121.5,1327.2 L123.0,1326.2 L124.5,1325.2 L126.0,1324.1 L127.5,1323.0 L129.0,1321.9 L130.5,1320.7 L132.0,1319.5 L133.5,1318.3 L135.0,1317.0 L136.5,1315.7 L138.0,1314.3 L139.5,1312.9 L141.0,1311.5 L142.5,1310.0 L144.0,1308.4 L145.5,1306.8 L147.0,1305.1 L148.5,1303.4 L150.0,1301.7 L151.5,1299.9 L153.0,1298.0 L154.5,1296.2 L156.0,1294.3 L157.5,1292.3 L159.0,1290.3 L160.5,1288.4 L162.0,1286.3 L163.5,1284.3 L165.0,1282.2 L166.5,1280.1 L168.0,1278.0 L169.5,1275.9 L171.0,1273.8 L172.5,1271.7 L174.0,1269.5 L175.5,1267.4 L177.0,1265.2 L178.5,1263.1 L180.0,1260.9 L181.5,1258.7 L183.0,1256.5 L184.5,1254.2 L186.0,1252.0 L187.5,1249.7 L189.0,1247.5 L190.5,1245.2 L192.0,1242.9 L193.5,1240.5 L195.0,1238.2 L196.5,1235.8 L198.0,1233.4 L199.5,1231.0 L201.0,1228.6 L202.5,1226.2 L204.0,1223.8 L205.5,1221.3 L207.0,1218.9 L208.5,1216.4 L210.0,1214.0 L211.5,1211.5 L213.0,1209.0 L214.5,1206.6 L216.0,1204.1 L217.5,1201.7 L219.0,1199.3 L220.5,1196.9 L222.0,1194.5 L223.5,1192.1 L225.0,1189.7 L226.5,1187.4 L228.0,1185.1 L229.5,1182.8 L231.0,1180.5 L232.5,1178.3 L234.0,1176.0 L235.5,1173.8 L237.0,1171.6 L238.5,1169.4 L240.0,1167.3 L241.5,1165.1 L243.0,1162.9 L244.5,1160.8 L246.0,1158.7 L247.5,1156.5 L249.0,1154.4 L250.5,1152.3 L252.0,1150.1 L253.5,1148.0 L255.0,1145.9 L256.5,1143.8 L258.0,1141.7 L259.5,1139.6 L261.0,1137.6 L262.5,1135.6 L264.0,1133.6 L265.5,1131.6 L267.0,1129.7 L268.5,1127.8 L270.0,1126.0 L271.5,1124.2 L273.0,1122.6 L274.5,1121.0 L276.0,1119.4 L277.5,1118.0 L279.0,1116.7 L280.5,1115.4 L282.0,1114.2 L283.5,1113.2 L285.0,1112.2 L286.5,1111.3 L288.0,1110.5 L289.5,1109.8 L291.0,1109.1 L292.5,1108.6 L294.0,1108.1 L295.5,1107.7 L297.0,1107.3 L298.5,1107.1 L300.0,1106.8 L301.5,1106.7 L303.0,1106.5 L304.5,1106.4 L306.0,1106.4 L307.5,1106.4 L309.0,1106.4 L310.5,1106.5 L312.0,1106.6 L313.5,1106.7 L315.0,1106.8 L316.5,1106.9 L318.0,1107.0 L319.5,1107.0 L321.0,1107.0 L322.5,1107.1 L324.0,1107.0 L325.5,1107.0 L327.0,1107.0 L328.5,1107.1 L330.0,1107.3 L331.5,1107.7 L333.0,1108.1 L334.5,1108.7 L336.0,1109.3 L337.5,1110.0 L339.0,1110.8 L340.5,1111.7 L342.0,1112.7 L343.5,1113.7 L345.0,1114.9 L346.5,1116.1 L348.0,1117.3 L349.5,1118.7 L351.0,1120.1 L352.5,1121.6 L354.0,1123.1 L355.5,1124.8 L357.0,1126.5 L358.5,1128.2 L360.0,1130.0 L361.5,1131.9 L363.0,1133.8 L364.5,1135.7 L366.0,1137.7 L367.5,1139.7 L369.0,1141.8 L370.5,1143.9 L372.0,1146.0 L373.5,1148.2 L375.0,1150.3 L376.5,1152.5 L378.0,1154.7 L379.5,1156.9 L381.0,1159.2 L382.5,1161.4 L384.0,1163.7 L385.5,1165.9 L387.0,1168.2 L388.5,1170.4 L390.0,1172.7 L391.5,1175.0 L393.0,1177.2 L394.5,1179.5 L396.0,1181.8 L397.5,1184.1 L399.0,1186.4 L400.5,1188.7 L402.0,1191.0 L403.5,1193.2 L405.0,1195.5 L406.5,1197.8 L408.0,1200.1 L409.5,1202.4 L411.0,1204.7 L412.5,1206.9 L414.0,1209.2 L415.5,1211.5 L417.0,1213.7 L418.5,1216.0 L420.0,1218.2 L421.5,1220.5 L423.0,1222.7 L424.5,1224.9 L426.0,1227.1 L427.5,1229.3 L429.0,1231.5 L430.5,1233.6 L432.0,1235.8 L433.5,1237.9 L435.0,1240.0 L436.5,1242.1 L438.0,1244.2 L439.5,1246.3 L441.0,1248.3 L442.5,1250.3 L444.0,1252.3 L445.5,1254.3 L447.0,1256.3 L448.5,1258.2 L450.0,1260.2 L451.5,1262.1 L453.0,1264.0 L454.5,1265.8 L456.0,1267.7 L457.5,1269.5 L459.0,1271.3 L460.5,1273.1 L462.0,1274.8 L463.5,1276.6 L465.0,1278.3 L466.5,1280.0 L468.0,1281.7 L469.5,1283.3 L471.0,1284.9 L472.5,1286.5 L474.0,1288.1 L475.5,1289.7 L477.0,1291.2 L478.5,1292.7 L480.0,1294.2 L481.5,1295.6 L483.0,1297.1 L484.5,1298.5 L486.0,1299.9 L487.5,1301.3 L489.0,1302.6 L490.5,1303.9 L492.0,1305.2 L493.5,1306.5 L495.0,1307.8 L496.5,1309.0 L498.0,1310.2 L499.5,1311.4 L501.0,1312.6 L502.5,1313.8 L504.0,1314.9 L505.5,1316.0 L507.0,1317.1 L508.5,1318.1 L510.0,1319.2 L511.5,1320.2 L513.0,1321.2 L514.5,1322.2 L516.0,1323.2 L517.5,1324.1 L519.0,1325.0 L520.5,1325.9 L522.0,1326.8 L523.5,1327.7 L525.0,1328.5 L526.5,1329.4 L528.0,1330.2 L529.5,1330.9 L531.0,1331.7 L532.5,1332.4 L534.0,1333.2 L535.5,1333.9 L537.0,1334.5 L538.5,1335.2 L540.0,1335.9 L541.5,1336.5 L543.0,1337.1 L544.5,1337.7 L546.0,1338.3 L547.5,1338.8 L549.0,1339.4 L550.5,1339.9 L552.0,1340.4 L553.5,1340.9 L555.0,1341.4 L556.5,1341.9 L558.0,1342.4 L559.5,1342.9 L561.0,1343.4 L562.5,1343.8 L564.0,1344.3 L565.5,1344.8 L567.0,1345.2 L568.5,1345.7 L570.0,1346.1 L571.5,1346.5 L573.0,1347.0 L574.5,1347.4 L576.0,1347.8 L577.5,1348.3 L579.0,1348.7 L580.5,1349.1 L582.0,1349.5 L583.5,1349.9 L585.0,1350.3 L586.5,1350.7 L588.0,1351.0 L589.5,1351.4 L591.0,1351.8 L592.5,1352.1 L594.0,1352.5 L595.5,1352.8 L597.0,1353.2 L598.5,1353.5 L600.0,1353.8 L601.5,1354.2 L603.0,1354.5 L604.5,1354.8 L606.0,1355.1 L607.5,1355.5 L609.0,1355.8 L610.5,1356.1 L612.0,1356.4 L613.5,1356.7 L615.0,1357.0 L616.5,1357.3 L618.0,1357.6 L619.5,1357.8 L621.0,1358.1 L622.5,1358.3 L624.0,1358.6 L625.5,1358.8 L627.0,1359.0 L628.5,1359.2 L630.0,1359.4 L631.5,1359.5 L632.5,1359.6"/>
<path d="M49.5,1365.4 L51.0,1365.2 L52.5,1365.0 L54.0,1364.8 L55.5,1364.6 L57.0,1364.4 L58.5,1364.1 L60.0,1363.8 L61.5,1363.5 L63.0,1363.2 L64.5,1362.9 L66.0,1362.5 L67.5,1362.2 L69.0,1361.8 L70.5,1361.4 L72.0,1361.0 L73.5,1360.6 L75.0,1360.2 L76.5,1359.8 L78.0,1359.3 L79.5,1358.9 L81.0,1358.4 L82.5,1357.9 L84.0,1357.4 L85.5,1356.9 L87.0,1356.3 L88.5,1355.7 L90.0,1355.1 L91.5,1354.5 L93.0,1353.8 L94.5,1353.1 L96.0,1352.4 L97.5,1351.7 L99.0,1350.9 L100.5,1350.1 L102.0,1349.2 L103.5,1348.4 L105.0,1347.5 L106.5,1346.6 L108.0,1345.7 L109.5,1344.7 L111.0,1343.7 L112.5,1342.7 L114.0,1341.7 L115.5,1340.7 L117.0,1339.7 L118.5,1338.7 L120.0,1337.6 L121.5,1336.5 L123.0,1335.4 L124.5,1334.3 L126.0,1333.1 L127.5,1331.9 L129.0,1330.7 L130.5,1329.5 L132.0,1328.2 L133.5,1326.9 L135.0,1325.5 L136.5,1324.1 L138.0,1322.7 L139.5,1321.2 L141.0,1319.6 L142.5,1318.0 L144.0,1316.4 L145.5,1314.7 L147.0,1312.9 L148.5,1311.1 L150.0,1309.2 L151.5,1307.3 L153.0,1305.4 L154.5,1303.4 L156.0,1301.3 L157.5,1299.3 L159.0,1297.2 L160.5,1295.0 L162.0,1292.8 L163.5,1290.6 L165.0,1288.4 L166.5,1286.1 L168.0,1283.9 L169.5,1281.6 L171.0,1279.3 L172.5,1277.0 L174.0,1274.7 L175.5,1272.4 L177.0,1270.1 L178.5,1267.7 L180.0,1265.4 L181.5,1263.1 L183.0,1260.7 L184.5,1258.4 L186.0,1256.1 L187.5,1253.7 L189.0,1251.4 L190.5,1249.0 L192.0,1246.6 L193.5,1244.2 L195.0,1241.8 L196.5,1239.4 L198.0,1237.0 L199.5,1234.5 L201.0,1232.1 L202.5,1229.6 L204.0,1227.1 L205.5,1224.7 L207.0,1222.1 L208.5,1219.6 L210.0,1217.1 L211.5,1214.6 L213.0,1212.1 L214.5,1209.6 L216.0,1207.0 L217.5,1204.5 L219.0,1202.0 L220.5,1199.6 L222.0,1197.1 L223.5,1194.6 L225.0,1192.2 L226.5,1189.8 L228.0,1187.4 L229.5,1185.0 L231.0,1182.6 L232.5,1180.3 L234.0,1178.0 L235.5,1175.7 L237.0,1173.5 L238.5,1171.3 L240.0,1169.1 L241.5,1166.9 L243.0,1164.8 L244.5,1162.7 L246.0,1160.7 L247.5,1158.7 L249.0,1156.7 L250.5,1154.8 L252.0,1152.9 L253.5,1151.0 L255.0,1149.2 L256.5,1147.5 L258.0,1145.8 L259.5,1144.2 L261.0,1142.6 L262.5,1141.1 L264.0,1139.7 L265.5,1138.3 L267.0,1137.0 L268.5,1135.7 L270.0,1134.5 L271.5,1133.3 L273.0,1132.2 L274.5,1131.2 L276.0,1130.1 L277.5,1129.1 L279.0,1128.2 L280.5,1127.3 L282.0,1126.4 L283.5,1125.5 L285.0,1124.7 L286.5,1123.9 L288.0,1123.1 L289.5,1122.4 L291.0,1121.7 L292.5,1121.0 L294.0,1120.3 L295.5,1119.7 L297.0,1119.2 L298.5,1118.6 L300.0,1118.2 L301.5,1117.8 L303.0,1117.4 L304.5,1117.1 L306.0,1116.8 L307.5,1116.7 L309.0,1116.5 L310.5,1116.4 L312.0,1116.4 L313.5,1116.4 L315.0,1116.5 L316.5,1116.7 L318.0,1117.0 L319.5,1117.3 L321.0,1117.7 L322.5,1118.2 L324.0,1118.8 L325.5,1119.4 L327.0,1120.1 L328.5,1120.8 L330.0,1121.6 L331.5,1122.5 L333.0,1123.3 L334.5,1124.3 L336.0,1125.3 L337.5,1126.3 L339.0,1127.4 L340.5,1128.5 L342.0,1129.6 L343.5,1130.8 L345.0,1132.0 L346.5,1133.3 L348.0,1134.6 L349.5,1136.0 L351.0,1137.4 L352.5,1138.8 L354.0,1140.3 L355.5,1141.9 L357.0,1143.4 L358.5,1145.1 L360.0,1146.7 L361.5,1148.4 L363.0,1150.2 L364.5,1151.9 L366.0,1153.8 L367.5,1155.6 L369.0,1157.5 L370.5,1159.5 L372.0,1161.4 L373.5,1163.4 L375.0,1165.5 L376.5,1167.5 L378.0,1169.6 L379.5,1171.7 L381.0,1173.9 L382.5,1176.0 L384.0,1178.2 L385.5,1180.4 L387.0,1182.5 L388.5,1184.7 L390.0,1186.9 L391.5,1189.1 L393.0,1191.3 L394.5,1193.5 L396.0,1195.6 L397.5,1197.8 L399.0,1199.9 L400.5,1202.0 L402.0,1204.1 L403.5,1206.2 L405.0,1208.3 L406.5,1210.3 L408.0,1212.3 L409.5,1214.3 L411.0,1216.3 L412.5,1218.2 L414.0,1220.2 L415.5,1222.1 L417.0,1224.1 L418.5,1226.0 L420.0,1228.0 L421.5,1229.9 L423.0,1231.9 L424.5,1233.9 L426.0,1235.9 L427.5,1237.9 L429.0,1239.9 L430.5,1242.0 L432.0,1244.1 L433.5,1246.2 L435.0,1248.3 L436.5,1250.4 L438.0,1252.6 L439.5,1254.8 L441.0,1256.9 L442.5,1259.1 L444.0,1261.2 L445.5,1263.4 L447.0,1265.5 L448.5,1267.6 L450.0,1269.7 L451.5,1271.8 L453.0,1273.8 L454.5,1275.9 L456.0,1277.8 L457.5,1279.8 L459.0,1281.7 L460.5,1283.6 L462.0,1285.5 L463.5,1287.3 L465.0,1289.1 L466.5,1290.9 L468.0,1292.6 L469.5,1294.3 L471.0,1296.0 L472.5,1297.7 L474.0,1299.3 L475.5,1300.9 L477.0,1302.5 L478.5,1304.1 L480.0,1305.6 L481.5,1307.2 L483.0,1308.6 L484.5,1310.1 L486.0,1311.6 L487.5,1313.0 L489.0,1314.4 L490.5,1315.8 L492.0,1317.1 L493.5,1318.5 L495.0,1319.8 L496.5,1321.1 L498.0,1322.4 L499.5,1323.6 L501.0,1324.8 L502.5,1326.1 L504.0,1327.2 L505.5,1328.4 L507.0,1329.6 L508.5,1330.7 L510.0,1331.8 L511.5,1332.9 L513.0,1333.9 L514.5,1335.0 L516.0,1336.0 L517.5,1337.0 L519.0,1338.0 L520.5,1338.9 L522.0,1339.9 L523.5,1340.8 L525.0,1341.8 L526.5,1342.7 L528.0,1343.5 L529.5,1344.4 L531.0,1345.3 L532.5,1346.1 L534.0,1347.0 L535.5,1347.8 L537.0,1348.6 L538.5,1349.4 L540.0,1350.2 L541.5,1350.9 L543.0,1351.7 L544.5,1352.5 L546.0,1353.2 L547.5,1353.9 L549.0,1354.6 L550.5,1355.3 L552.0,1355.9 L553.5,1356.6 L555.0,1357.2 L556.5,1357.8 L558.0,1358.4 L559.5,1359.0 L561.0,1359.5 L562.5,1360.0 L564.0,1360.5 L565.5,1361.0 L567.0,1361.4 L568.5,1361.8 L570.0,1362.2 L571.5,1362.6 L573.0,1363.0 L574.5,1363.3 L576.0,1363.6 L577.5,1363.9 L579.0,1364.2 L580.5,1364.5 L582.0,1364.8 L583.5,1365.0 L585.0,1365.3 L586.5,1365.5 L588.0,1365.8 L589.5,1366.0 L591.0,1366.2 L592.5,1366.5 L594.0,1366.7 L595.5,1366.9 L597.0,1367.2 L598.5,1367.4 L600.0,1367.7 L601.5,1367.9 L603.0,1368.2 L604.5,1368.4 L606.0,1368.7 L607.5,1368.9 L609.0,1369.2 L610.5,1369.4 L612.0,1369.7 L613.5,1369.9 L615.0,1370.2 L616.5,1370.4 L618.0,1370.6 L619.5,1370.9 L621.0,1371.1 L622.5,1371.3 L624.0,1371.5 L625.5,1371.7 L627.0,1371.9 L628.5,1372.0 L630.0,1372.2 L631.5,1372.3 L632.5,1372.4"/>
</g>
<line x1="302.8" y1="5.07" x2="302.8" y2="1392.6" stroke="#000" stroke-width="1.7" stroke-dasharray="5.8 5.2765"/>
<line x1="362.0" y1="5.07" x2="362.0" y2="1392.6" stroke="#000" stroke-width="1.7" stroke-dasharray="5.8 5.2765"/>
<line x1="428.4" y1="5.07" x2="428.4" y2="1392.6" stroke="#000" stroke-width="1.7" stroke-dasharray="5.8 5.2765"/>
<path d="M48.2,5.2 H636.0 V481.0 M48.2,5.2 V1432.6 H634.0 V956.2" fill="none" stroke="#000" stroke-width="3.2" stroke-linejoin="miter" stroke-linecap="square"/>
<path d="M48.2,481.0 H636.0 M636.0,481.0 V955.0" fill="none" stroke="#000" stroke-width="3.2"/>
<path d="M48.2,956.2 H636.0" fill="none" stroke="#000" stroke-width="4.6"/>
<path d="M243.3,479.4 v-8 M438.7,479.4 v-8 M145.7,479.4 v-3 M341.0,479.4 v-3 M536.4,479.4 v-3 M243.3,953.9000000000001 v-8 M438.7,953.9000000000001 v-8 M145.7,953.9000000000001 v-2.5 M341.0,953.9000000000001 v-2.5 M536.4,953.9000000000001 v-2.5 M243.3,1431.0 v-9 M438.7,1431.0 v-9 M145.7,1431.0 v-4 M341.0,1431.0 v-4 M536.4,1431.0 v-4" stroke="#000" stroke-width="2.6" fill="none"/>
<line x1="100.6" y1="291" x2="100.6" y2="441" stroke="#cf1020" stroke-width="1.8"/>
<path d="M97,438 L104.4,438 L100.7,450 Z" fill="#cf1020"/>
<line x1="100.6" y1="767.2" x2="100.6" y2="915.6" stroke="#cf1020" stroke-width="1.8"/>
<path d="M97,912.6 L104.4,912.6 L100.7,924.6 Z" fill="#cf1020"/>
<line x1="100.6" y1="1243" x2="100.6" y2="1393.2" stroke="#cf1020" stroke-width="1.8"/>
<path d="M97,1390.2 L104.4,1390.2 L100.7,1402.2 Z" fill="#cf1020"/>
<text transform="translate(69.78,47.77) scale(0.3460,0.3022)" font-family='"Liberation Serif", serif' font-weight="bold" font-style="normal" font-size="100.0" fill="#000" >(a)</text>
<text transform="translate(69.69,524.08) scale(0.3447,0.2779)" font-family='"Liberation Serif", serif' font-weight="bold" font-style="normal" font-size="100.0" fill="#000" >(b)</text>
<text transform="translate(67.67,998.99) scale(0.3718,0.3198)" font-family='"Liberation Serif", serif' font-weight="bold" font-style="normal" font-size="100.0" fill="#000" >(c)</text>
<text transform="translate(88.12,281.78) scale(0.2322,0.2238)" font-family='"Liberation Serif", serif' font-weight="bold" font-style="normal" font-size="100.0" fill="#cf1020" >0 s</text>
<text transform="translate(80.67,471.58) scale(0.2285,0.2267)" font-family='"Liberation Serif", serif' font-weight="bold" font-style="normal" font-size="100.0" fill="#cf1020" >100 s</text>
<text transform="translate(88.07,755.78) scale(0.2433,0.2267)" font-family='"Liberation Serif", serif' font-weight="bold" font-style="normal" font-size="100.0" fill="#cf1020" >0 s</text>
<text transform="translate(81.79,945.59) scale(0.2261,0.2193)" font-family='"Liberation Serif", serif' font-weight="bold" font-style="normal" font-size="100.0" fill="#cf1020" >100 s</text>
<text transform="translate(87.27,1231.75) scale(0.2452,0.2534)" font-family='"Liberation Serif", serif' font-weight="bold" font-style="normal" font-size="100.0" fill="#cf1020" >0 s</text>
<text transform="translate(78.05,1421.95) scale(0.2438,0.2549)" font-family='"Liberation Serif", serif' font-weight="bold" font-style="normal" font-size="100.0" fill="#cf1020" >100 s</text>
<text transform="translate(35.12,1464.55) scale(0.2343,0.2519)" letter-spacing="6.87" font-family='"Liberation Serif", serif' font-weight="bold" font-style="normal" font-size="100.0" fill="#000"  stroke="#fff" stroke-width="0.79">106</text>
<text transform="translate(231.22,1464.45) scale(0.2343,0.2519)" letter-spacing="5.91" font-family='"Liberation Serif", serif' font-weight="bold" font-style="normal" font-size="100.0" fill="#000"  stroke="#fff" stroke-width="0.79">104</text>
<text transform="translate(426.42,1464.45) scale(0.2343,0.2519)" letter-spacing="5.21" font-family='"Liberation Serif", serif' font-weight="bold" font-style="normal" font-size="100.0" fill="#000"  stroke="#fff" stroke-width="0.79">102</text>
<text transform="translate(621.92,1464.45) scale(0.2343,0.2519)" letter-spacing="4.53" font-family='"Liberation Serif", serif' font-weight="bold" font-style="normal" font-size="100.0" fill="#000"  stroke="#fff" stroke-width="0.79">100</text>
<text transform="translate(286.43,1501.26) scale(0.2756,0.2963)" letter-spacing="4.53" font-family='"Liberation Serif", serif' font-weight="bold" font-style="normal" font-size="100.0" fill="#000"  stroke="#fff" stroke-width="0.67">Energy (eV)</text>
<text transform="translate(186.74,1400.15) scale(0.2736,0.2587)" font-family='"Liberation Serif", serif' font-weight="bold" font-style="normal" font-size="100.0" fill="#000" >SiO</text>
<text transform="translate(232.56,1407.67) scale(0.1615,0.1325)" font-family='"Liberation Serif", serif' font-weight="normal" font-style="normal" font-size="100.0" fill="#000" >x/2</text>
<text transform="translate(275.89,1419.00) scale(0.2734,0.2279)" font-family='"Liberation Serif", serif' font-weight="bold" font-style="normal" font-size="100.0" fill="#000" >x=4</text>
<text transform="translate(340.29,1418.78) scale(0.2690,0.2233)" font-family='"Liberation Serif", serif' font-weight="bold" font-style="normal" font-size="100.0" fill="#000" >x=3</text>
<text transform="translate(405.29,1419.00) scale(0.2718,0.2265)" font-family='"Liberation Serif", serif' font-weight="bold" font-style="normal" font-size="100.0" fill="#000" >x=2</text>
<g transform="translate(4.5,802) rotate(-90)"><text transform="translate(-0.56,18.21) scale(0.3002,0.2624)" font-family='"Liberation Serif", serif' font-weight="bold" font-style="normal" font-size="100.0" fill="#000" >XPS Si 2<tspan font-style="italic">p</tspan> signal</text></g>
</svg>
</body></html>
